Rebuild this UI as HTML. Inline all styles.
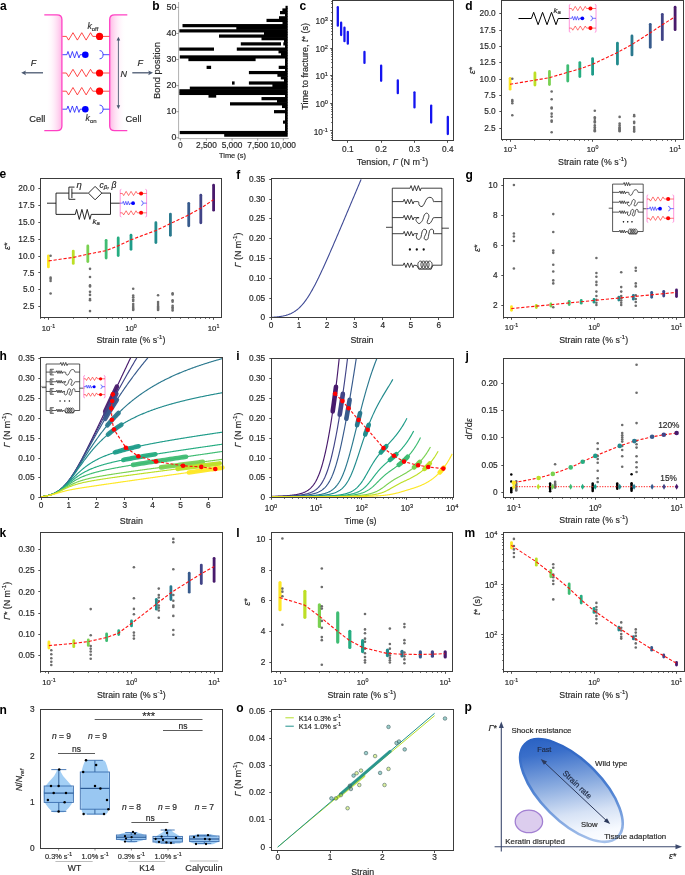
<!DOCTYPE html><html><head><meta charset="utf-8"><style>html,body{margin:0;padding:0;background:#fff;}svg{display:block;font-family:"Liberation Sans",sans-serif;will-change:transform;}</style></head><body><svg width="685" height="875" viewBox="0 0 685 875" font-family='"Liberation Sans", sans-serif'><defs><linearGradient id="gl" x1="0" x2="1" y1="0" y2="0"><stop offset="0" stop-color="#fff" stop-opacity="0"/><stop offset="1" stop-color="#ffb8e6"/></linearGradient><linearGradient id="gr" x1="0" x2="1" y1="0" y2="0"><stop offset="0" stop-color="#ffb8e6"/><stop offset="1" stop-color="#fff" stop-opacity="0"/></linearGradient><linearGradient id="pg" gradientUnits="userSpaceOnUse" x1="524" y1="758" x2="620" y2="828"><stop offset="0" stop-color="#2a62c3"/><stop offset="0.14" stop-color="#3a6fca"/><stop offset="0.42" stop-color="#88aadf"/><stop offset="0.68" stop-color="#d6e2f5"/><stop offset="0.86" stop-color="#f7faff"/><stop offset="1" stop-color="#ffffff"/></linearGradient><linearGradient id="pe" gradientUnits="userSpaceOnUse" x1="524" y1="742" x2="620" y2="839"><stop offset="0" stop-color="#1f58be"/><stop offset="0.5" stop-color="#4f82d2"/><stop offset="1" stop-color="#c4d7f3"/></linearGradient></defs><rect width="685" height="875" fill="#fff"/><text x="0" y="10" font-size="12" font-weight="bold" fill="#000">a</text>
<path d="M46,15 L57,15 Q61.7,15 61.7,19.5 L61.7,126 Q61.7,130.5 57,130.5 L46,130.5 Z" stroke="none" stroke-width="0.8" fill="url(#gl)"/>
<path d="M126,15 L114.6,15 Q109.9,15 109.9,19.5 L109.9,126 Q109.9,130.5 114.6,130.5 L126,130.5 Z" stroke="none" stroke-width="0.8" fill="url(#gr)"/>
<path d="M44.3,14.8 L57,14.8 Q61.9,14.8 61.9,19.5 L61.9,126 Q61.9,130.7 57,130.7 L44.3,130.7" stroke="#ff40c4" stroke-width="1.3" fill="none"/>
<path d="M127.3,14.8 L114.6,14.8 Q109.7,14.8 109.7,19.5 L109.7,126 Q109.7,130.7 114.6,130.7 L127.3,130.7" stroke="#ff40c4" stroke-width="1.3" fill="none"/>
<path d="M62.5,36.4 L66.4,36.4 L68.59,40.1 L72.98,32.7 L77.37,40.1 L81.76,32.7 L86.14,40.1 L90.53,32.7 L92.72,36.4 L99.55,36.4" stroke="#ff1a1a" stroke-width="0.8" fill="none"/>
<line x1="99.55" y1="36.4" x2="109.3" y2="36.4" stroke="#ff1a1a" stroke-width="0.8"/>
<circle cx="99.55" cy="36.4" r="3.61" fill="#ff0000" stroke="none" stroke-width="0.5"/>
<path d="M62.5,54.7 L66.89,54.7 L67.98,51.48 L70.18,57.92 L72.37,51.48 L74.57,57.92 L76.76,51.48 L78.95,57.92 L80.05,54.7 L85.31,54.7" stroke="#1a1aff" stroke-width="0.8" fill="none"/>
<circle cx="85.31" cy="54.7" r="3.31" fill="#0000ff" stroke="none" stroke-width="0.5"/>
<path d="M99.55,50.61 A3.48,4.09 0 0 1 99.55,58.8" stroke="#1a1aff" stroke-width="0.8" fill="none"/>
<line x1="103.03" y1="54.7" x2="109.3" y2="54.7" stroke="#1a1aff" stroke-width="0.8"/>
<path d="M62.5,73 L66.4,73 L68.59,76.7 L72.98,69.3 L77.37,76.7 L81.76,69.3 L86.14,76.7 L90.53,69.3 L92.72,73 L99.55,73" stroke="#ff1a1a" stroke-width="0.8" fill="none"/>
<line x1="99.55" y1="73" x2="109.3" y2="73" stroke="#ff1a1a" stroke-width="0.8"/>
<circle cx="99.55" cy="73" r="3.61" fill="#ff0000" stroke="none" stroke-width="0.5"/>
<path d="M62.5,91.2 L66.4,91.2 L68.59,94.91 L72.98,87.5 L77.37,94.91 L81.76,87.5 L86.14,94.91 L90.53,87.5 L92.72,91.2 L99.55,91.2" stroke="#ff1a1a" stroke-width="0.8" fill="none"/>
<line x1="99.55" y1="91.2" x2="109.3" y2="91.2" stroke="#ff1a1a" stroke-width="0.8"/>
<circle cx="99.55" cy="91.2" r="3.61" fill="#ff0000" stroke="none" stroke-width="0.5"/>
<path d="M62.5,109.2 L66.89,109.2 L67.98,105.98 L70.18,112.42 L72.37,105.98 L74.57,112.42 L76.76,105.98 L78.95,112.42 L80.05,109.2 L85.31,109.2" stroke="#1a1aff" stroke-width="0.8" fill="none"/>
<circle cx="85.31" cy="109.2" r="3.31" fill="#0000ff" stroke="none" stroke-width="0.5"/>
<path d="M99.55,105.11 A3.48,4.09 0 0 1 99.55,113.3" stroke="#1a1aff" stroke-width="0.8" fill="none"/>
<line x1="103.03" y1="109.2" x2="109.3" y2="109.2" stroke="#1a1aff" stroke-width="0.8"/>
<line x1="24" y1="72.8" x2="43" y2="72.8" stroke="#4a5870" stroke-width="1.3"/>
<path d="M21.2,72.8 L26,70.4 L25,72.8 L26,75.2 Z" stroke="none" stroke-width="0.8" fill="#4a5870"/>
<line x1="132.3" y1="72.8" x2="150" y2="72.8" stroke="#4a5870" stroke-width="1.3"/>
<path d="M153,72.8 L148.2,70.4 L149.2,72.8 L148.2,75.2 Z" stroke="none" stroke-width="0.8" fill="#4a5870"/>
<text x="30.8" y="65.5" font-size="9" font-style="italic" fill="#2a2a2a" stroke="#2a2a2a" stroke-width="0.18">F</text>
<text x="137.5" y="65.5" font-size="9" font-style="italic" fill="#2a2a2a" stroke="#2a2a2a" stroke-width="0.18">F</text>
<line x1="118.4" y1="39" x2="118.4" y2="107" stroke="#4a5870" stroke-width="0.9"/>
<path d="M118.4,36.8 L116.6,40.6 L120.2,40.6 Z" stroke="none" stroke-width="0.8" fill="#4a5870"/>
<path d="M118.4,109 L116.6,105.2 L120.2,105.2 Z" stroke="none" stroke-width="0.8" fill="#4a5870"/>
<text x="120.6" y="77.2" font-size="9" font-style="italic" fill="#2a2a2a" stroke="#2a2a2a" stroke-width="0.18">N</text>
<text x="87.4" y="29.3" font-size="8.7" font-style="italic" fill="#333" stroke="#333" stroke-width="0.18">k<tspan font-size="6" dy="1.4" font-style="normal">off</tspan></text>
<text x="85.6" y="121.2" font-size="8.7" font-style="italic" fill="#333" stroke="#333" stroke-width="0.18">k<tspan font-size="6" dy="1.4" font-style="normal">on</tspan></text>
<text x="29.3" y="122" font-size="9.3" fill="#2a2a2a" stroke="#2a2a2a" stroke-width="0.18">Cell</text>
<text x="125.5" y="122" font-size="9.3" fill="#2a2a2a" stroke="#2a2a2a" stroke-width="0.18">Cell</text>
<text x="152.2" y="9.9" font-size="12" font-weight="bold" fill="#000">b</text>
<rect x="285.5" y="5.8" width="2.2" height="3.21" fill="#000" stroke="none" stroke-width="0.8"/>
<rect x="282.4" y="8.4" width="5.3" height="3.21" fill="#000" stroke="none" stroke-width="0.8"/>
<rect x="280" y="11.01" width="7.7" height="3.21" fill="#000" stroke="none" stroke-width="0.8"/>
<rect x="285" y="13.62" width="2.7" height="3.21" fill="#000" stroke="none" stroke-width="0.8"/>
<rect x="279" y="16.22" width="8.7" height="3.21" fill="#000" stroke="none" stroke-width="0.8"/>
<rect x="266.5" y="18.83" width="21.2" height="3.21" fill="#000" stroke="none" stroke-width="0.8"/>
<rect x="282.5" y="21.44" width="5.2" height="3.21" fill="#000" stroke="none" stroke-width="0.8"/>
<rect x="182.5" y="24.05" width="105.2" height="3.21" fill="#000" stroke="none" stroke-width="0.8"/>
<rect x="236.3" y="26.65" width="51.4" height="3.21" fill="#000" stroke="none" stroke-width="0.8"/>
<rect x="179.3" y="29.26" width="108.4" height="3.21" fill="#000" stroke="none" stroke-width="0.8"/>
<rect x="264" y="31.87" width="23.7" height="3.21" fill="#000" stroke="none" stroke-width="0.8"/>
<rect x="219" y="34.47" width="68.7" height="3.21" fill="#000" stroke="none" stroke-width="0.8"/>
<rect x="261.5" y="37.08" width="26.2" height="3.21" fill="#000" stroke="none" stroke-width="0.8"/>
<rect x="284" y="39.69" width="3.7" height="3.21" fill="#000" stroke="none" stroke-width="0.8"/>
<rect x="240.8" y="42.29" width="40.2" height="3.21" fill="#000" stroke="none" stroke-width="0.8"/>
<rect x="283.3" y="42.29" width="4.4" height="3.21" fill="#000" stroke="none" stroke-width="0.8"/>
<rect x="285" y="44.9" width="2.7" height="3.21" fill="#000" stroke="none" stroke-width="0.8"/>
<rect x="179.3" y="47.51" width="34.7" height="3.21" fill="#000" stroke="none" stroke-width="0.8"/>
<rect x="236.8" y="47.51" width="50.9" height="3.21" fill="#000" stroke="none" stroke-width="0.8"/>
<rect x="278.5" y="50.12" width="9.2" height="3.21" fill="#000" stroke="none" stroke-width="0.8"/>
<rect x="281" y="52.72" width="6.7" height="3.21" fill="#000" stroke="none" stroke-width="0.8"/>
<rect x="179.8" y="55.33" width="107.9" height="3.21" fill="#000" stroke="none" stroke-width="0.8"/>
<rect x="188.4" y="57.94" width="67.2" height="3.21" fill="#000" stroke="none" stroke-width="0.8"/>
<rect x="285" y="57.94" width="2.7" height="3.21" fill="#000" stroke="none" stroke-width="0.8"/>
<rect x="285" y="60.54" width="2.7" height="3.21" fill="#000" stroke="none" stroke-width="0.8"/>
<rect x="285" y="63.15" width="2.7" height="3.21" fill="#000" stroke="none" stroke-width="0.8"/>
<rect x="206.6" y="65.76" width="4.5" height="3.21" fill="#000" stroke="none" stroke-width="0.8"/>
<rect x="278.7" y="65.76" width="9" height="3.21" fill="#000" stroke="none" stroke-width="0.8"/>
<rect x="285" y="68.36" width="2.7" height="3.21" fill="#000" stroke="none" stroke-width="0.8"/>
<rect x="248.9" y="70.97" width="38.8" height="3.21" fill="#000" stroke="none" stroke-width="0.8"/>
<rect x="277.4" y="73.58" width="10.3" height="3.21" fill="#000" stroke="none" stroke-width="0.8"/>
<rect x="280.8" y="76.19" width="6.9" height="3.21" fill="#000" stroke="none" stroke-width="0.8"/>
<rect x="284" y="78.79" width="3.7" height="3.21" fill="#000" stroke="none" stroke-width="0.8"/>
<rect x="232" y="81.4" width="2.6" height="3.21" fill="#000" stroke="none" stroke-width="0.8"/>
<rect x="248.9" y="81.4" width="38.8" height="3.21" fill="#000" stroke="none" stroke-width="0.8"/>
<rect x="272.4" y="84.01" width="15.3" height="3.21" fill="#000" stroke="none" stroke-width="0.8"/>
<rect x="189.8" y="86.61" width="97.9" height="3.21" fill="#000" stroke="none" stroke-width="0.8"/>
<rect x="179.3" y="89.22" width="108.4" height="3.21" fill="#000" stroke="none" stroke-width="0.8"/>
<rect x="179.3" y="91.83" width="108.4" height="3.21" fill="#000" stroke="none" stroke-width="0.8"/>
<rect x="208.5" y="94.43" width="7.7" height="3.21" fill="#000" stroke="none" stroke-width="0.8"/>
<rect x="285" y="94.43" width="2.7" height="3.21" fill="#000" stroke="none" stroke-width="0.8"/>
<rect x="261.5" y="97.04" width="26.2" height="3.21" fill="#000" stroke="none" stroke-width="0.8"/>
<rect x="277" y="99.65" width="10.7" height="3.21" fill="#000" stroke="none" stroke-width="0.8"/>
<rect x="230" y="102.26" width="57.7" height="3.21" fill="#000" stroke="none" stroke-width="0.8"/>
<rect x="282" y="104.86" width="5.7" height="3.21" fill="#000" stroke="none" stroke-width="0.8"/>
<rect x="285" y="107.47" width="2.7" height="3.21" fill="#000" stroke="none" stroke-width="0.8"/>
<rect x="274" y="110.08" width="13.7" height="3.21" fill="#000" stroke="none" stroke-width="0.8"/>
<rect x="285" y="112.68" width="2.7" height="3.21" fill="#000" stroke="none" stroke-width="0.8"/>
<rect x="285" y="115.29" width="2.7" height="3.21" fill="#000" stroke="none" stroke-width="0.8"/>
<rect x="285" y="117.9" width="2.7" height="3.21" fill="#000" stroke="none" stroke-width="0.8"/>
<rect x="283" y="120.5" width="4.7" height="3.21" fill="#000" stroke="none" stroke-width="0.8"/>
<rect x="285" y="123.11" width="2.7" height="3.21" fill="#000" stroke="none" stroke-width="0.8"/>
<rect x="285" y="125.72" width="2.7" height="3.21" fill="#000" stroke="none" stroke-width="0.8"/>
<rect x="285" y="128.33" width="2.7" height="3.21" fill="#000" stroke="none" stroke-width="0.8"/>
<rect x="179.7" y="130.93" width="108" height="3.21" fill="#000" stroke="none" stroke-width="0.8"/>
<rect x="224.2" y="133.54" width="63.5" height="3.21" fill="#000" stroke="none" stroke-width="0.8"/>
<line x1="178.6" y1="2" x2="178.6" y2="138.6" stroke="#b0b0b0" stroke-width="1.0"/>
<line x1="178.1" y1="138.6" x2="288.8" y2="138.6" stroke="#b0b0b0" stroke-width="1.0"/>
<line x1="176.4" y1="137.75" x2="178.6" y2="137.75" stroke="#555" stroke-width="0.6"/>
<text x="176.4" y="140.25" font-size="8.8" text-anchor="end" fill="#2a2a2a" stroke="#2a2a2a" stroke-width="0.18">0</text>
<line x1="176.4" y1="111.68" x2="178.6" y2="111.68" stroke="#555" stroke-width="0.6"/>
<text x="176.4" y="114.18" font-size="8.8" text-anchor="end" fill="#2a2a2a" stroke="#2a2a2a" stroke-width="0.18">10</text>
<line x1="176.4" y1="85.61" x2="178.6" y2="85.61" stroke="#555" stroke-width="0.6"/>
<text x="176.4" y="88.11" font-size="8.8" text-anchor="end" fill="#2a2a2a" stroke="#2a2a2a" stroke-width="0.18">20</text>
<line x1="176.4" y1="59.54" x2="178.6" y2="59.54" stroke="#555" stroke-width="0.6"/>
<text x="176.4" y="62.04" font-size="8.8" text-anchor="end" fill="#2a2a2a" stroke="#2a2a2a" stroke-width="0.18">30</text>
<line x1="176.4" y1="33.47" x2="178.6" y2="33.47" stroke="#555" stroke-width="0.6"/>
<text x="176.4" y="35.97" font-size="8.8" text-anchor="end" fill="#2a2a2a" stroke="#2a2a2a" stroke-width="0.18">40</text>
<line x1="176.4" y1="7.4" x2="178.6" y2="7.4" stroke="#555" stroke-width="0.6"/>
<text x="176.4" y="9.9" font-size="8.8" text-anchor="end" fill="#2a2a2a" stroke="#2a2a2a" stroke-width="0.18">50</text>
<line x1="180.4" y1="138.6" x2="180.4" y2="140.6" stroke="#555" stroke-width="0.6"/>
<text x="180.4" y="148.2" font-size="8.3" text-anchor="middle" fill="#2a2a2a" stroke="#2a2a2a" stroke-width="0.18">0</text>
<line x1="206.4" y1="138.6" x2="206.4" y2="140.6" stroke="#555" stroke-width="0.6"/>
<text x="206.4" y="148.2" font-size="8.3" text-anchor="middle" fill="#2a2a2a" stroke="#2a2a2a" stroke-width="0.18">2,500</text>
<line x1="232.1" y1="138.6" x2="232.1" y2="140.6" stroke="#555" stroke-width="0.6"/>
<text x="232.1" y="148.2" font-size="8.3" text-anchor="middle" fill="#2a2a2a" stroke="#2a2a2a" stroke-width="0.18">5,000</text>
<line x1="257.7" y1="138.6" x2="257.7" y2="140.6" stroke="#555" stroke-width="0.6"/>
<text x="257.7" y="148.2" font-size="8.3" text-anchor="middle" fill="#2a2a2a" stroke="#2a2a2a" stroke-width="0.18">7,500</text>
<line x1="283.3" y1="138.6" x2="283.3" y2="140.6" stroke="#555" stroke-width="0.6"/>
<text x="283.3" y="148.2" font-size="8.3" text-anchor="middle" fill="#2a2a2a" stroke="#2a2a2a" stroke-width="0.18">10,000</text>
<text x="232.5" y="157.6" font-size="7.4" text-anchor="middle" fill="#2a2a2a" stroke="#2a2a2a" stroke-width="0.18">Time (s)</text>
<text x="159.9" y="70.5" font-size="9.4" text-anchor="middle" fill="#2a2a2a" stroke="#2a2a2a" stroke-width="0.18" transform="rotate(-90 159.9 70.5)">Bond position</text>
<text x="299.6" y="9.9" font-size="12" font-weight="bold" fill="#000">c</text>
<line x1="337.8" y1="7.2" x2="337.8" y2="25.7" stroke="#1414f0" stroke-width="2.3" stroke-linecap="round"/>
<line x1="341.13" y1="22.7" x2="341.13" y2="35" stroke="#1414f0" stroke-width="2.3" stroke-linecap="round"/>
<line x1="344.47" y1="27.7" x2="344.47" y2="41.2" stroke="#1414f0" stroke-width="2.3" stroke-linecap="round"/>
<line x1="347.8" y1="32" x2="347.8" y2="43.7" stroke="#1414f0" stroke-width="2.3" stroke-linecap="round"/>
<line x1="364.47" y1="51.9" x2="364.47" y2="62.9" stroke="#1414f0" stroke-width="2.3" stroke-linecap="round"/>
<line x1="381.14" y1="65.7" x2="381.14" y2="80.8" stroke="#1414f0" stroke-width="2.3" stroke-linecap="round"/>
<line x1="397.81" y1="80.4" x2="397.81" y2="93.2" stroke="#1414f0" stroke-width="2.3" stroke-linecap="round"/>
<line x1="414.48" y1="92.3" x2="414.48" y2="107.4" stroke="#1414f0" stroke-width="2.3" stroke-linecap="round"/>
<line x1="431.15" y1="105.6" x2="431.15" y2="122.6" stroke="#1414f0" stroke-width="2.3" stroke-linecap="round"/>
<line x1="447.82" y1="117" x2="447.82" y2="134" stroke="#1414f0" stroke-width="2.3" stroke-linecap="round"/>
<rect x="332.5" y="0.5" width="121" height="140" fill="none" stroke="#3c3c3c" stroke-width="1.0"/>
<line x1="330.2" y1="130.5" x2="332.5" y2="130.5" stroke="#3c3c3c" stroke-width="0.9"/>
<text x="327.9" y="134.5" font-size="8.3" text-anchor="end" fill="#2a2a2a" stroke="#2a2a2a" stroke-width="0.18">10<tspan font-size="5.6" baseline-shift="3.47">-1</tspan></text>
<line x1="330.2" y1="103.5" x2="332.5" y2="103.5" stroke="#3c3c3c" stroke-width="0.9"/>
<text x="327.9" y="106.9" font-size="8.3" text-anchor="end" fill="#2a2a2a" stroke="#2a2a2a" stroke-width="0.18">10<tspan font-size="5.6" baseline-shift="3.47">0</tspan></text>
<line x1="330.2" y1="75.5" x2="332.5" y2="75.5" stroke="#3c3c3c" stroke-width="0.9"/>
<text x="327.9" y="79.3" font-size="8.3" text-anchor="end" fill="#2a2a2a" stroke="#2a2a2a" stroke-width="0.18">10<tspan font-size="5.6" baseline-shift="3.47">1</tspan></text>
<line x1="330.2" y1="48.5" x2="332.5" y2="48.5" stroke="#3c3c3c" stroke-width="0.9"/>
<text x="327.9" y="51.7" font-size="8.3" text-anchor="end" fill="#2a2a2a" stroke="#2a2a2a" stroke-width="0.18">10<tspan font-size="5.6" baseline-shift="3.47">2</tspan></text>
<line x1="330.2" y1="20.5" x2="332.5" y2="20.5" stroke="#3c3c3c" stroke-width="0.9"/>
<text x="327.9" y="24.1" font-size="8.3" text-anchor="end" fill="#2a2a2a" stroke="#2a2a2a" stroke-width="0.18">10<tspan font-size="5.6" baseline-shift="3.47">3</tspan></text>
<line x1="331" y1="139.5" x2="332.5" y2="139.5" stroke="#3c3c3c" stroke-width="0.7"/>
<line x1="331" y1="137.5" x2="332.5" y2="137.5" stroke="#3c3c3c" stroke-width="0.7"/>
<line x1="331" y1="135.5" x2="332.5" y2="135.5" stroke="#3c3c3c" stroke-width="0.7"/>
<line x1="331" y1="133.5" x2="332.5" y2="133.5" stroke="#3c3c3c" stroke-width="0.7"/>
<line x1="331" y1="132.5" x2="332.5" y2="132.5" stroke="#3c3c3c" stroke-width="0.7"/>
<line x1="331" y1="122.5" x2="332.5" y2="122.5" stroke="#3c3c3c" stroke-width="0.7"/>
<line x1="331" y1="117.5" x2="332.5" y2="117.5" stroke="#3c3c3c" stroke-width="0.7"/>
<line x1="331" y1="114.5" x2="332.5" y2="114.5" stroke="#3c3c3c" stroke-width="0.7"/>
<line x1="331" y1="111.5" x2="332.5" y2="111.5" stroke="#3c3c3c" stroke-width="0.7"/>
<line x1="331" y1="109.5" x2="332.5" y2="109.5" stroke="#3c3c3c" stroke-width="0.7"/>
<line x1="331" y1="107.5" x2="332.5" y2="107.5" stroke="#3c3c3c" stroke-width="0.7"/>
<line x1="331" y1="105.5" x2="332.5" y2="105.5" stroke="#3c3c3c" stroke-width="0.7"/>
<line x1="331" y1="104.5" x2="332.5" y2="104.5" stroke="#3c3c3c" stroke-width="0.7"/>
<line x1="331" y1="94.5" x2="332.5" y2="94.5" stroke="#3c3c3c" stroke-width="0.7"/>
<line x1="331" y1="90.5" x2="332.5" y2="90.5" stroke="#3c3c3c" stroke-width="0.7"/>
<line x1="331" y1="86.5" x2="332.5" y2="86.5" stroke="#3c3c3c" stroke-width="0.7"/>
<line x1="331" y1="84.5" x2="332.5" y2="84.5" stroke="#3c3c3c" stroke-width="0.7"/>
<line x1="331" y1="81.5" x2="332.5" y2="81.5" stroke="#3c3c3c" stroke-width="0.7"/>
<line x1="331" y1="79.5" x2="332.5" y2="79.5" stroke="#3c3c3c" stroke-width="0.7"/>
<line x1="331" y1="78.5" x2="332.5" y2="78.5" stroke="#3c3c3c" stroke-width="0.7"/>
<line x1="331" y1="76.5" x2="332.5" y2="76.5" stroke="#3c3c3c" stroke-width="0.7"/>
<line x1="331" y1="67.5" x2="332.5" y2="67.5" stroke="#3c3c3c" stroke-width="0.7"/>
<line x1="331" y1="62.5" x2="332.5" y2="62.5" stroke="#3c3c3c" stroke-width="0.7"/>
<line x1="331" y1="59.5" x2="332.5" y2="59.5" stroke="#3c3c3c" stroke-width="0.7"/>
<line x1="331" y1="56.5" x2="332.5" y2="56.5" stroke="#3c3c3c" stroke-width="0.7"/>
<line x1="331" y1="54.5" x2="332.5" y2="54.5" stroke="#3c3c3c" stroke-width="0.7"/>
<line x1="331" y1="52.5" x2="332.5" y2="52.5" stroke="#3c3c3c" stroke-width="0.7"/>
<line x1="331" y1="50.5" x2="332.5" y2="50.5" stroke="#3c3c3c" stroke-width="0.7"/>
<line x1="331" y1="49.5" x2="332.5" y2="49.5" stroke="#3c3c3c" stroke-width="0.7"/>
<line x1="331" y1="39.5" x2="332.5" y2="39.5" stroke="#3c3c3c" stroke-width="0.7"/>
<line x1="331" y1="34.5" x2="332.5" y2="34.5" stroke="#3c3c3c" stroke-width="0.7"/>
<line x1="331" y1="31.5" x2="332.5" y2="31.5" stroke="#3c3c3c" stroke-width="0.7"/>
<line x1="331" y1="28.5" x2="332.5" y2="28.5" stroke="#3c3c3c" stroke-width="0.7"/>
<line x1="331" y1="26.5" x2="332.5" y2="26.5" stroke="#3c3c3c" stroke-width="0.7"/>
<line x1="331" y1="24.5" x2="332.5" y2="24.5" stroke="#3c3c3c" stroke-width="0.7"/>
<line x1="331" y1="23.5" x2="332.5" y2="23.5" stroke="#3c3c3c" stroke-width="0.7"/>
<line x1="331" y1="21.5" x2="332.5" y2="21.5" stroke="#3c3c3c" stroke-width="0.7"/>
<line x1="331" y1="12.5" x2="332.5" y2="12.5" stroke="#3c3c3c" stroke-width="0.7"/>
<line x1="331" y1="7.5" x2="332.5" y2="7.5" stroke="#3c3c3c" stroke-width="0.7"/>
<line x1="331" y1="3.5" x2="332.5" y2="3.5" stroke="#3c3c3c" stroke-width="0.7"/>
<line x1="331" y1="1.5" x2="332.5" y2="1.5" stroke="#3c3c3c" stroke-width="0.7"/>
<line x1="347.5" y1="140.5" x2="347.5" y2="142.8" stroke="#3c3c3c" stroke-width="0.9"/>
<text x="347.8" y="152" font-size="8.3" text-anchor="middle" fill="#2a2a2a" stroke="#2a2a2a" stroke-width="0.18">0.1</text>
<line x1="381.5" y1="140.5" x2="381.5" y2="142.8" stroke="#3c3c3c" stroke-width="0.9"/>
<text x="381.14" y="152" font-size="8.3" text-anchor="middle" fill="#2a2a2a" stroke="#2a2a2a" stroke-width="0.18">0.2</text>
<line x1="414.5" y1="140.5" x2="414.5" y2="142.8" stroke="#3c3c3c" stroke-width="0.9"/>
<text x="414.48" y="152" font-size="8.3" text-anchor="middle" fill="#2a2a2a" stroke="#2a2a2a" stroke-width="0.18">0.3</text>
<line x1="447.5" y1="140.5" x2="447.5" y2="142.8" stroke="#3c3c3c" stroke-width="0.9"/>
<text x="447.82" y="152" font-size="8.3" text-anchor="middle" fill="#2a2a2a" stroke="#2a2a2a" stroke-width="0.18">0.4</text>
<text x="392.5" y="164.6" font-size="9" text-anchor="middle" fill="#2a2a2a" stroke="#2a2a2a" stroke-width="0.18">Tension, <tspan font-style="italic">Γ</tspan> (N m<tspan font-size="6" baseline-shift="3.72">-1</tspan>)</text>
<text x="308.2" y="66.3" font-size="9" text-anchor="middle" fill="#2a2a2a" stroke="#2a2a2a" stroke-width="0.18" transform="rotate(-90 308.2 66.3)">Time to fracture, <tspan font-style="italic">t</tspan>* (s)</text>
<text x="465.3" y="10" font-size="12" font-weight="bold" fill="#000">d</text>
<line x1="510.1" y1="78.3" x2="510.1" y2="89.2" stroke="#fde725" stroke-width="2.8" stroke-linecap="round"/>
<line x1="534.93" y1="72.9" x2="534.93" y2="85.1" stroke="#bddf26" stroke-width="2.8" stroke-linecap="round"/>
<line x1="549.46" y1="71.5" x2="549.46" y2="84.6" stroke="#7ad151" stroke-width="2.8" stroke-linecap="round"/>
<line x1="567.77" y1="65.6" x2="567.77" y2="81.1" stroke="#3fbc73" stroke-width="2.8" stroke-linecap="round"/>
<line x1="579.82" y1="62.6" x2="579.82" y2="76.5" stroke="#26ad81" stroke-width="2.8" stroke-linecap="round"/>
<line x1="592.6" y1="58.6" x2="592.6" y2="74.3" stroke="#1e9c89" stroke-width="2.8" stroke-linecap="round"/>
<line x1="617.43" y1="43.2" x2="617.43" y2="64.1" stroke="#228b8d" stroke-width="2.8" stroke-linecap="round"/>
<line x1="631.96" y1="35.9" x2="631.96" y2="54.9" stroke="#2a788e" stroke-width="2.8" stroke-linecap="round"/>
<line x1="650.27" y1="24.3" x2="650.27" y2="47.3" stroke="#375a8c" stroke-width="2.8" stroke-linecap="round"/>
<line x1="662.32" y1="14.3" x2="662.32" y2="39.7" stroke="#414487" stroke-width="2.8" stroke-linecap="round"/>
<line x1="675.1" y1="7.2" x2="675.1" y2="29.7" stroke="#481a6c" stroke-width="2.8" stroke-linecap="round"/>
<circle cx="512.3" cy="78.77" r="1.3" fill="#6c6c6c" stroke="none" stroke-width="0.5"/>
<circle cx="512.3" cy="99.96" r="1.3" fill="#6c6c6c" stroke="none" stroke-width="0.5"/>
<circle cx="512.3" cy="101.27" r="1.3" fill="#6c6c6c" stroke="none" stroke-width="0.5"/>
<circle cx="512.3" cy="103.22" r="1.3" fill="#6c6c6c" stroke="none" stroke-width="0.5"/>
<circle cx="512.3" cy="115.29" r="1.3" fill="#6c6c6c" stroke="none" stroke-width="0.5"/>
<circle cx="551.66" cy="91.49" r="1.3" fill="#6c6c6c" stroke="none" stroke-width="0.5"/>
<circle cx="551.66" cy="99.31" r="1.3" fill="#6c6c6c" stroke="none" stroke-width="0.5"/>
<circle cx="551.66" cy="107.46" r="1.3" fill="#6c6c6c" stroke="none" stroke-width="0.5"/>
<circle cx="551.66" cy="108.44" r="1.3" fill="#6c6c6c" stroke="none" stroke-width="0.5"/>
<circle cx="551.66" cy="113.66" r="1.3" fill="#6c6c6c" stroke="none" stroke-width="0.5"/>
<circle cx="551.66" cy="116.59" r="1.3" fill="#6c6c6c" stroke="none" stroke-width="0.5"/>
<circle cx="551.66" cy="120.5" r="1.3" fill="#6c6c6c" stroke="none" stroke-width="0.5"/>
<circle cx="551.66" cy="121.81" r="1.3" fill="#6c6c6c" stroke="none" stroke-width="0.5"/>
<circle cx="551.66" cy="132.24" r="1.3" fill="#6c6c6c" stroke="none" stroke-width="0.5"/>
<circle cx="594.8" cy="110.72" r="1.3" fill="#6c6c6c" stroke="none" stroke-width="0.5"/>
<circle cx="594.8" cy="117.24" r="1.3" fill="#6c6c6c" stroke="none" stroke-width="0.5"/>
<circle cx="594.8" cy="118.87" r="1.3" fill="#6c6c6c" stroke="none" stroke-width="0.5"/>
<circle cx="594.8" cy="121.15" r="1.3" fill="#6c6c6c" stroke="none" stroke-width="0.5"/>
<circle cx="594.8" cy="122.46" r="1.3" fill="#6c6c6c" stroke="none" stroke-width="0.5"/>
<circle cx="594.8" cy="125.39" r="1.3" fill="#6c6c6c" stroke="none" stroke-width="0.5"/>
<circle cx="594.8" cy="127.35" r="1.3" fill="#6c6c6c" stroke="none" stroke-width="0.5"/>
<circle cx="594.8" cy="128.98" r="1.3" fill="#6c6c6c" stroke="none" stroke-width="0.5"/>
<circle cx="594.8" cy="130.28" r="1.3" fill="#6c6c6c" stroke="none" stroke-width="0.5"/>
<circle cx="594.8" cy="131.26" r="1.3" fill="#6c6c6c" stroke="none" stroke-width="0.5"/>
<circle cx="619.63" cy="116.92" r="1.3" fill="#6c6c6c" stroke="none" stroke-width="0.5"/>
<circle cx="619.63" cy="123.44" r="1.3" fill="#6c6c6c" stroke="none" stroke-width="0.5"/>
<circle cx="619.63" cy="125.39" r="1.3" fill="#6c6c6c" stroke="none" stroke-width="0.5"/>
<circle cx="619.63" cy="127.35" r="1.3" fill="#6c6c6c" stroke="none" stroke-width="0.5"/>
<circle cx="619.63" cy="128.33" r="1.3" fill="#6c6c6c" stroke="none" stroke-width="0.5"/>
<circle cx="619.63" cy="129.3" r="1.3" fill="#6c6c6c" stroke="none" stroke-width="0.5"/>
<circle cx="619.63" cy="130.28" r="1.3" fill="#6c6c6c" stroke="none" stroke-width="0.5"/>
<circle cx="619.63" cy="131.26" r="1.3" fill="#6c6c6c" stroke="none" stroke-width="0.5"/>
<circle cx="634.16" cy="114.96" r="1.3" fill="#6c6c6c" stroke="none" stroke-width="0.5"/>
<circle cx="634.16" cy="116.26" r="1.3" fill="#6c6c6c" stroke="none" stroke-width="0.5"/>
<circle cx="634.16" cy="121.81" r="1.3" fill="#6c6c6c" stroke="none" stroke-width="0.5"/>
<circle cx="634.16" cy="123.11" r="1.3" fill="#6c6c6c" stroke="none" stroke-width="0.5"/>
<circle cx="634.16" cy="127.02" r="1.3" fill="#6c6c6c" stroke="none" stroke-width="0.5"/>
<circle cx="634.16" cy="128.65" r="1.3" fill="#6c6c6c" stroke="none" stroke-width="0.5"/>
<circle cx="634.16" cy="129.96" r="1.3" fill="#6c6c6c" stroke="none" stroke-width="0.5"/>
<circle cx="634.16" cy="131.59" r="1.3" fill="#6c6c6c" stroke="none" stroke-width="0.5"/>
<path d="M510,84.3 L534.6,80.2 L549,77.8 L567.5,72.4 L579.7,68.9 L592.6,64.3 L617,52.7 L631.8,44.6 L650,33 L662.3,24.8 L675,16.7" stroke="#ff1010" stroke-width="1.1" fill="none" stroke-dasharray="3.2 1.8" stroke-linejoin="round"/>
<rect x="501.5" y="0.5" width="182" height="139" fill="none" stroke="#3c3c3c" stroke-width="1.0"/>
<line x1="510.5" y1="139.5" x2="510.5" y2="141.8" stroke="#3c3c3c" stroke-width="0.9"/>
<text x="510.1" y="152.4" font-size="7.8" text-anchor="middle" fill="#2a2a2a" stroke="#2a2a2a" stroke-width="0.18">10<tspan font-size="5.3" baseline-shift="3.29">-1</tspan></text>
<line x1="592.5" y1="139.5" x2="592.5" y2="141.8" stroke="#3c3c3c" stroke-width="0.9"/>
<text x="592.6" y="152.4" font-size="7.8" text-anchor="middle" fill="#2a2a2a" stroke="#2a2a2a" stroke-width="0.18">10<tspan font-size="5.3" baseline-shift="3.29">0</tspan></text>
<line x1="675.5" y1="139.5" x2="675.5" y2="141.8" stroke="#3c3c3c" stroke-width="0.9"/>
<text x="675.1" y="152.4" font-size="7.8" text-anchor="middle" fill="#2a2a2a" stroke="#2a2a2a" stroke-width="0.18">10<tspan font-size="5.3" baseline-shift="3.29">1</tspan></text>
<line x1="502.5" y1="139.5" x2="502.5" y2="141" stroke="#3c3c3c" stroke-width="0.7"/>
<line x1="506.5" y1="139.5" x2="506.5" y2="141" stroke="#3c3c3c" stroke-width="0.7"/>
<line x1="534.5" y1="139.5" x2="534.5" y2="141" stroke="#3c3c3c" stroke-width="0.7"/>
<line x1="549.5" y1="139.5" x2="549.5" y2="141" stroke="#3c3c3c" stroke-width="0.7"/>
<line x1="559.5" y1="139.5" x2="559.5" y2="141" stroke="#3c3c3c" stroke-width="0.7"/>
<line x1="567.5" y1="139.5" x2="567.5" y2="141" stroke="#3c3c3c" stroke-width="0.7"/>
<line x1="574.5" y1="139.5" x2="574.5" y2="141" stroke="#3c3c3c" stroke-width="0.7"/>
<line x1="579.5" y1="139.5" x2="579.5" y2="141" stroke="#3c3c3c" stroke-width="0.7"/>
<line x1="584.5" y1="139.5" x2="584.5" y2="141" stroke="#3c3c3c" stroke-width="0.7"/>
<line x1="588.5" y1="139.5" x2="588.5" y2="141" stroke="#3c3c3c" stroke-width="0.7"/>
<line x1="617.5" y1="139.5" x2="617.5" y2="141" stroke="#3c3c3c" stroke-width="0.7"/>
<line x1="631.5" y1="139.5" x2="631.5" y2="141" stroke="#3c3c3c" stroke-width="0.7"/>
<line x1="642.5" y1="139.5" x2="642.5" y2="141" stroke="#3c3c3c" stroke-width="0.7"/>
<line x1="650.5" y1="139.5" x2="650.5" y2="141" stroke="#3c3c3c" stroke-width="0.7"/>
<line x1="656.5" y1="139.5" x2="656.5" y2="141" stroke="#3c3c3c" stroke-width="0.7"/>
<line x1="662.5" y1="139.5" x2="662.5" y2="141" stroke="#3c3c3c" stroke-width="0.7"/>
<line x1="667.5" y1="139.5" x2="667.5" y2="141" stroke="#3c3c3c" stroke-width="0.7"/>
<line x1="671.5" y1="139.5" x2="671.5" y2="141" stroke="#3c3c3c" stroke-width="0.7"/>
<text x="592.5" y="165.4" font-size="8.8" text-anchor="middle" fill="#2a2a2a" stroke="#2a2a2a" stroke-width="0.18">Strain rate (% s<tspan font-size="6" baseline-shift="3.72">-1</tspan>)</text>
<line x1="499.3" y1="128.5" x2="501.5" y2="128.5" stroke="#3c3c3c" stroke-width="0.9"/>
<text x="495.7" y="130.57" font-size="8.3" text-anchor="end" fill="#2a2a2a" stroke="#2a2a2a" stroke-width="0.18">2.5</text>
<line x1="499.3" y1="111.5" x2="501.5" y2="111.5" stroke="#3c3c3c" stroke-width="0.9"/>
<text x="495.7" y="114.27" font-size="8.3" text-anchor="end" fill="#2a2a2a" stroke="#2a2a2a" stroke-width="0.18">5.0</text>
<line x1="499.3" y1="95.5" x2="501.5" y2="95.5" stroke="#3c3c3c" stroke-width="0.9"/>
<text x="495.7" y="97.97" font-size="8.3" text-anchor="end" fill="#2a2a2a" stroke="#2a2a2a" stroke-width="0.18">7.5</text>
<line x1="499.3" y1="79.5" x2="501.5" y2="79.5" stroke="#3c3c3c" stroke-width="0.9"/>
<text x="495.7" y="81.67" font-size="8.3" text-anchor="end" fill="#2a2a2a" stroke="#2a2a2a" stroke-width="0.18">10.0</text>
<line x1="499.3" y1="62.5" x2="501.5" y2="62.5" stroke="#3c3c3c" stroke-width="0.9"/>
<text x="495.7" y="65.37" font-size="8.3" text-anchor="end" fill="#2a2a2a" stroke="#2a2a2a" stroke-width="0.18">12.5</text>
<line x1="499.3" y1="46.5" x2="501.5" y2="46.5" stroke="#3c3c3c" stroke-width="0.9"/>
<text x="495.7" y="49.07" font-size="8.3" text-anchor="end" fill="#2a2a2a" stroke="#2a2a2a" stroke-width="0.18">15.0</text>
<line x1="499.3" y1="30.5" x2="501.5" y2="30.5" stroke="#3c3c3c" stroke-width="0.9"/>
<text x="495.7" y="32.77" font-size="8.3" text-anchor="end" fill="#2a2a2a" stroke="#2a2a2a" stroke-width="0.18">17.5</text>
<line x1="499.3" y1="13.5" x2="501.5" y2="13.5" stroke="#3c3c3c" stroke-width="0.9"/>
<text x="495.7" y="16.47" font-size="8.3" text-anchor="end" fill="#2a2a2a" stroke="#2a2a2a" stroke-width="0.18">20.0</text>
<text x="474.8" y="70.5" font-size="9" text-anchor="middle" fill="#2a2a2a" stroke="#2a2a2a" stroke-width="0.18" transform="rotate(-90 474.8 70.5)"><tspan font-style="italic">ε</tspan>*</text>
<path d="M518.5,18.5 L531.4,18.5 L531.4,18.5 L533.63,12.3 L538.1,24.7 L542.57,12.3 L547.03,24.7 L551.5,12.3 L555.97,24.7 L558.2,18.5 L569.3,18.5" stroke="#000" stroke-width="1.0" fill="none"/>
<text x="553.5" y="13.2" font-size="8" font-style="italic" fill="#2a2a2a" stroke="#2a2a2a" stroke-width="0.18">k<tspan font-size="6" dy="1.2">a</tspan></text>
<path d="M570.5,4.3 L569.3,4.9 L569.3,31.7 L570.5,32.3" stroke="#ff8ad8" stroke-width="0.9" fill="none"/>
<path d="M594.8,4.3 L596,4.9 L596,31.7 L594.8,32.3" stroke="#ff8ad8" stroke-width="0.9" fill="none"/>
<path d="M569.3,8.5 L571.52,8.5 L572.78,10.61 L575.28,6.39 L577.78,10.61 L580.29,6.39 L582.79,10.61 L585.29,6.39 L586.54,8.5 L590.44,8.5" stroke="#ff1a1a" stroke-width="0.6" fill="none"/>
<line x1="590.44" y1="8.5" x2="596" y2="8.5" stroke="#ff1a1a" stroke-width="0.6"/>
<circle cx="590.44" cy="8.5" r="2.06" fill="#ff0000" stroke="none" stroke-width="0.5"/>
<path d="M569.3,18.3 L571.8,18.3 L572.43,16.46 L573.68,20.14 L574.93,16.46 L576.18,20.14 L577.44,16.46 L578.69,20.14 L579.31,18.3 L582.32,18.3" stroke="#1a1aff" stroke-width="0.6" fill="none"/>
<circle cx="582.32" cy="18.3" r="1.89" fill="#0000ff" stroke="none" stroke-width="0.5"/>
<path d="M590.44,15.96 A1.99,2.34 0 0 1 590.44,20.64" stroke="#1a1aff" stroke-width="0.6" fill="none"/>
<line x1="592.42" y1="18.3" x2="596" y2="18.3" stroke="#1a1aff" stroke-width="0.6"/>
<path d="M569.3,28.1 L571.52,28.1 L572.78,30.21 L575.28,25.99 L577.78,30.21 L580.29,25.99 L582.79,30.21 L585.29,25.99 L586.54,28.1 L590.44,28.1" stroke="#ff1a1a" stroke-width="0.6" fill="none"/>
<line x1="590.44" y1="28.1" x2="596" y2="28.1" stroke="#ff1a1a" stroke-width="0.6"/>
<circle cx="590.44" cy="28.1" r="2.06" fill="#ff0000" stroke="none" stroke-width="0.5"/>
<text x="-0.4" y="178.4" font-size="12" font-weight="bold" fill="#000">e</text>
<line x1="48.4" y1="256" x2="48.4" y2="266.9" stroke="#fde725" stroke-width="2.8" stroke-linecap="round"/>
<line x1="73.27" y1="251.1" x2="73.27" y2="263.4" stroke="#bddf26" stroke-width="2.8" stroke-linecap="round"/>
<line x1="87.81" y1="246" x2="87.81" y2="261.5" stroke="#7ad151" stroke-width="2.8" stroke-linecap="round"/>
<line x1="106.13" y1="240.3" x2="106.13" y2="258" stroke="#3fbc73" stroke-width="2.8" stroke-linecap="round"/>
<line x1="118.21" y1="237.9" x2="118.21" y2="255.5" stroke="#26ad81" stroke-width="2.8" stroke-linecap="round"/>
<line x1="131" y1="235.2" x2="131" y2="249.3" stroke="#1e9c89" stroke-width="2.8" stroke-linecap="round"/>
<line x1="155.87" y1="222.7" x2="155.87" y2="242.6" stroke="#228b8d" stroke-width="2.8" stroke-linecap="round"/>
<line x1="170.41" y1="214.1" x2="170.41" y2="235.3" stroke="#2a788e" stroke-width="2.8" stroke-linecap="round"/>
<line x1="188.73" y1="203.3" x2="188.73" y2="225.8" stroke="#375a8c" stroke-width="2.8" stroke-linecap="round"/>
<line x1="200.81" y1="195.2" x2="200.81" y2="222.8" stroke="#414487" stroke-width="2.8" stroke-linecap="round"/>
<line x1="213.6" y1="185.2" x2="213.6" y2="210.2" stroke="#481a6c" stroke-width="2.8" stroke-linecap="round"/>
<circle cx="50.6" cy="255.7" r="1.3" fill="#6c6c6c" stroke="none" stroke-width="0.5"/>
<circle cx="50.6" cy="277.65" r="1.3" fill="#6c6c6c" stroke="none" stroke-width="0.5"/>
<circle cx="50.6" cy="279" r="1.3" fill="#6c6c6c" stroke="none" stroke-width="0.5"/>
<circle cx="50.6" cy="281.03" r="1.3" fill="#6c6c6c" stroke="none" stroke-width="0.5"/>
<circle cx="50.6" cy="293.52" r="1.3" fill="#6c6c6c" stroke="none" stroke-width="0.5"/>
<circle cx="90.01" cy="268.87" r="1.3" fill="#6c6c6c" stroke="none" stroke-width="0.5"/>
<circle cx="90.01" cy="276.98" r="1.3" fill="#6c6c6c" stroke="none" stroke-width="0.5"/>
<circle cx="90.01" cy="285.42" r="1.3" fill="#6c6c6c" stroke="none" stroke-width="0.5"/>
<circle cx="90.01" cy="286.43" r="1.3" fill="#6c6c6c" stroke="none" stroke-width="0.5"/>
<circle cx="90.01" cy="291.84" r="1.3" fill="#6c6c6c" stroke="none" stroke-width="0.5"/>
<circle cx="90.01" cy="294.88" r="1.3" fill="#6c6c6c" stroke="none" stroke-width="0.5"/>
<circle cx="90.01" cy="298.93" r="1.3" fill="#6c6c6c" stroke="none" stroke-width="0.5"/>
<circle cx="90.01" cy="300.28" r="1.3" fill="#6c6c6c" stroke="none" stroke-width="0.5"/>
<circle cx="90.01" cy="311.09" r="1.3" fill="#6c6c6c" stroke="none" stroke-width="0.5"/>
<circle cx="133.2" cy="288.8" r="1.3" fill="#6c6c6c" stroke="none" stroke-width="0.5"/>
<circle cx="133.2" cy="295.55" r="1.3" fill="#6c6c6c" stroke="none" stroke-width="0.5"/>
<circle cx="133.2" cy="297.24" r="1.3" fill="#6c6c6c" stroke="none" stroke-width="0.5"/>
<circle cx="133.2" cy="299.6" r="1.3" fill="#6c6c6c" stroke="none" stroke-width="0.5"/>
<circle cx="133.2" cy="300.95" r="1.3" fill="#6c6c6c" stroke="none" stroke-width="0.5"/>
<circle cx="133.2" cy="303.99" r="1.3" fill="#6c6c6c" stroke="none" stroke-width="0.5"/>
<circle cx="133.2" cy="306.02" r="1.3" fill="#6c6c6c" stroke="none" stroke-width="0.5"/>
<circle cx="133.2" cy="307.71" r="1.3" fill="#6c6c6c" stroke="none" stroke-width="0.5"/>
<circle cx="133.2" cy="309.06" r="1.3" fill="#6c6c6c" stroke="none" stroke-width="0.5"/>
<circle cx="133.2" cy="310.07" r="1.3" fill="#6c6c6c" stroke="none" stroke-width="0.5"/>
<circle cx="158.07" cy="295.21" r="1.3" fill="#6c6c6c" stroke="none" stroke-width="0.5"/>
<circle cx="158.07" cy="301.97" r="1.3" fill="#6c6c6c" stroke="none" stroke-width="0.5"/>
<circle cx="158.07" cy="303.99" r="1.3" fill="#6c6c6c" stroke="none" stroke-width="0.5"/>
<circle cx="158.07" cy="306.02" r="1.3" fill="#6c6c6c" stroke="none" stroke-width="0.5"/>
<circle cx="158.07" cy="307.03" r="1.3" fill="#6c6c6c" stroke="none" stroke-width="0.5"/>
<circle cx="158.07" cy="308.05" r="1.3" fill="#6c6c6c" stroke="none" stroke-width="0.5"/>
<circle cx="158.07" cy="309.06" r="1.3" fill="#6c6c6c" stroke="none" stroke-width="0.5"/>
<circle cx="158.07" cy="310.07" r="1.3" fill="#6c6c6c" stroke="none" stroke-width="0.5"/>
<circle cx="172.61" cy="293.19" r="1.3" fill="#6c6c6c" stroke="none" stroke-width="0.5"/>
<circle cx="172.61" cy="294.54" r="1.3" fill="#6c6c6c" stroke="none" stroke-width="0.5"/>
<circle cx="172.61" cy="300.28" r="1.3" fill="#6c6c6c" stroke="none" stroke-width="0.5"/>
<circle cx="172.61" cy="301.63" r="1.3" fill="#6c6c6c" stroke="none" stroke-width="0.5"/>
<circle cx="172.61" cy="305.68" r="1.3" fill="#6c6c6c" stroke="none" stroke-width="0.5"/>
<circle cx="172.61" cy="307.37" r="1.3" fill="#6c6c6c" stroke="none" stroke-width="0.5"/>
<circle cx="172.61" cy="308.72" r="1.3" fill="#6c6c6c" stroke="none" stroke-width="0.5"/>
<circle cx="172.61" cy="310.41" r="1.3" fill="#6c6c6c" stroke="none" stroke-width="0.5"/>
<path d="M48.6,260.9 L73.2,257.4 L88.1,254.1 L106.2,250.6 L118.3,245.8 L131,239.8 L156.1,230.4 L170.4,223.6 L188.5,215 L201,208 L213.4,199.8" stroke="#ff1010" stroke-width="1.1" fill="none" stroke-dasharray="3.2 1.8" stroke-linejoin="round"/>
<rect x="40.5" y="178.5" width="181" height="139" fill="none" stroke="#3c3c3c" stroke-width="1.0"/>
<line x1="48.5" y1="317.5" x2="48.5" y2="319.8" stroke="#3c3c3c" stroke-width="0.9"/>
<text x="48.4" y="330.6" font-size="7.8" text-anchor="middle" fill="#2a2a2a" stroke="#2a2a2a" stroke-width="0.18">10<tspan font-size="5.3" baseline-shift="3.29">-1</tspan></text>
<line x1="131.5" y1="317.5" x2="131.5" y2="319.8" stroke="#3c3c3c" stroke-width="0.9"/>
<text x="131" y="330.6" font-size="7.8" text-anchor="middle" fill="#2a2a2a" stroke="#2a2a2a" stroke-width="0.18">10<tspan font-size="5.3" baseline-shift="3.29">0</tspan></text>
<line x1="213.5" y1="317.5" x2="213.5" y2="319.8" stroke="#3c3c3c" stroke-width="0.9"/>
<text x="213.6" y="330.6" font-size="7.8" text-anchor="middle" fill="#2a2a2a" stroke="#2a2a2a" stroke-width="0.18">10<tspan font-size="5.3" baseline-shift="3.29">1</tspan></text>
<line x1="40.5" y1="317.5" x2="40.5" y2="319" stroke="#3c3c3c" stroke-width="0.7"/>
<line x1="44.5" y1="317.5" x2="44.5" y2="319" stroke="#3c3c3c" stroke-width="0.7"/>
<line x1="73.5" y1="317.5" x2="73.5" y2="319" stroke="#3c3c3c" stroke-width="0.7"/>
<line x1="87.5" y1="317.5" x2="87.5" y2="319" stroke="#3c3c3c" stroke-width="0.7"/>
<line x1="98.5" y1="317.5" x2="98.5" y2="319" stroke="#3c3c3c" stroke-width="0.7"/>
<line x1="106.5" y1="317.5" x2="106.5" y2="319" stroke="#3c3c3c" stroke-width="0.7"/>
<line x1="112.5" y1="317.5" x2="112.5" y2="319" stroke="#3c3c3c" stroke-width="0.7"/>
<line x1="118.5" y1="317.5" x2="118.5" y2="319" stroke="#3c3c3c" stroke-width="0.7"/>
<line x1="122.5" y1="317.5" x2="122.5" y2="319" stroke="#3c3c3c" stroke-width="0.7"/>
<line x1="127.5" y1="317.5" x2="127.5" y2="319" stroke="#3c3c3c" stroke-width="0.7"/>
<line x1="155.5" y1="317.5" x2="155.5" y2="319" stroke="#3c3c3c" stroke-width="0.7"/>
<line x1="170.5" y1="317.5" x2="170.5" y2="319" stroke="#3c3c3c" stroke-width="0.7"/>
<line x1="180.5" y1="317.5" x2="180.5" y2="319" stroke="#3c3c3c" stroke-width="0.7"/>
<line x1="188.5" y1="317.5" x2="188.5" y2="319" stroke="#3c3c3c" stroke-width="0.7"/>
<line x1="195.5" y1="317.5" x2="195.5" y2="319" stroke="#3c3c3c" stroke-width="0.7"/>
<line x1="200.5" y1="317.5" x2="200.5" y2="319" stroke="#3c3c3c" stroke-width="0.7"/>
<line x1="205.5" y1="317.5" x2="205.5" y2="319" stroke="#3c3c3c" stroke-width="0.7"/>
<line x1="209.5" y1="317.5" x2="209.5" y2="319" stroke="#3c3c3c" stroke-width="0.7"/>
<text x="130.9" y="343.4" font-size="8.8" text-anchor="middle" fill="#2a2a2a" stroke="#2a2a2a" stroke-width="0.18">Strain rate (% s<tspan font-size="6" baseline-shift="3.72">-1</tspan>)</text>
<line x1="38.3" y1="306.5" x2="40.5" y2="306.5" stroke="#3c3c3c" stroke-width="0.9"/>
<text x="34.5" y="309.27" font-size="8.3" text-anchor="end" fill="#2a2a2a" stroke="#2a2a2a" stroke-width="0.18">2.5</text>
<line x1="38.3" y1="289.5" x2="40.5" y2="289.5" stroke="#3c3c3c" stroke-width="0.9"/>
<text x="34.5" y="292.38" font-size="8.3" text-anchor="end" fill="#2a2a2a" stroke="#2a2a2a" stroke-width="0.18">5.0</text>
<line x1="38.3" y1="272.5" x2="40.5" y2="272.5" stroke="#3c3c3c" stroke-width="0.9"/>
<text x="34.5" y="275.5" font-size="8.3" text-anchor="end" fill="#2a2a2a" stroke="#2a2a2a" stroke-width="0.18">7.5</text>
<line x1="38.3" y1="256.5" x2="40.5" y2="256.5" stroke="#3c3c3c" stroke-width="0.9"/>
<text x="34.5" y="258.61" font-size="8.3" text-anchor="end" fill="#2a2a2a" stroke="#2a2a2a" stroke-width="0.18">10.0</text>
<line x1="38.3" y1="239.5" x2="40.5" y2="239.5" stroke="#3c3c3c" stroke-width="0.9"/>
<text x="34.5" y="241.73" font-size="8.3" text-anchor="end" fill="#2a2a2a" stroke="#2a2a2a" stroke-width="0.18">12.5</text>
<line x1="38.3" y1="222.5" x2="40.5" y2="222.5" stroke="#3c3c3c" stroke-width="0.9"/>
<text x="34.5" y="224.84" font-size="8.3" text-anchor="end" fill="#2a2a2a" stroke="#2a2a2a" stroke-width="0.18">15.0</text>
<line x1="38.3" y1="205.5" x2="40.5" y2="205.5" stroke="#3c3c3c" stroke-width="0.9"/>
<text x="34.5" y="207.96" font-size="8.3" text-anchor="end" fill="#2a2a2a" stroke="#2a2a2a" stroke-width="0.18">17.5</text>
<line x1="38.3" y1="188.5" x2="40.5" y2="188.5" stroke="#3c3c3c" stroke-width="0.9"/>
<text x="34.5" y="191.07" font-size="8.3" text-anchor="end" fill="#2a2a2a" stroke="#2a2a2a" stroke-width="0.18">20.0</text>
<text x="10" y="246.3" font-size="9" text-anchor="middle" fill="#2a2a2a" stroke="#2a2a2a" stroke-width="0.18" transform="rotate(-90 10 246.3)"><tspan font-style="italic">ε</tspan>*</text>
<line x1="47" y1="203.2" x2="56" y2="203.2" stroke="#111" stroke-width="0.9"/>
<line x1="56" y1="193.1" x2="56" y2="214.4" stroke="#111" stroke-width="0.9"/>
<line x1="56" y1="193.1" x2="68.9" y2="193.1" stroke="#111" stroke-width="0.9"/>
<path d="M74.5,187.1 L68.9,187.1 L68.9,199.3 L75.3,199.3" stroke="#111" stroke-width="0.9" fill="none"/>
<line x1="71.9" y1="188.4" x2="71.9" y2="198" stroke="#111" stroke-width="0.9"/>
<line x1="71.9" y1="193.1" x2="87.9" y2="193.1" stroke="#111" stroke-width="0.9"/>
<path d="M88.4,193.1 L95.1,186.4 L101.8,193.1 L95.1,199.8 Z" stroke="#111" stroke-width="0.9" fill="none"/>
<line x1="101.8" y1="193.1" x2="110.5" y2="193.1" stroke="#111" stroke-width="0.9"/>
<line x1="110.5" y1="193.1" x2="110.5" y2="214.4" stroke="#111" stroke-width="0.9"/>
<path d="M56,214.4 L75.3,214.4 L75.3,214.4 L76.62,209.4 L79.28,219.4 L81.92,209.4 L84.58,219.4 L87.22,209.4 L89.88,219.4 L91.2,214.4 L110.5,214.4" stroke="#111" stroke-width="0.9" fill="none"/>
<line x1="110.5" y1="203.2" x2="120.2" y2="203.2" stroke="#111" stroke-width="0.9"/>
<text x="76.4" y="187.6" font-size="9.5" font-style="italic" fill="#2a2a2a" stroke="#2a2a2a" stroke-width="0.18">η</text>
<text x="99.5" y="188.2" font-size="8.5" font-style="italic" fill="#2a2a2a" stroke="#2a2a2a" stroke-width="0.18">c<tspan font-size="6" dy="1.2">β</tspan><tspan dy="-1.2">,</tspan></text>
<text x="111.6" y="187.6" font-size="8.5" font-style="italic" fill="#2a2a2a" stroke="#2a2a2a" stroke-width="0.18">β</text>
<text x="92.6" y="223.8" font-size="8" font-style="italic" fill="#2a2a2a" stroke="#2a2a2a" stroke-width="0.18">k<tspan font-size="6" dy="1.2">a</tspan></text>
<path d="M121.4,189.3 L120.2,189.9 L120.2,216.4 L121.4,217" stroke="#ff8ad8" stroke-width="0.9" fill="none"/>
<path d="M145.4,189.3 L146.6,189.9 L146.6,216.4 L145.4,217" stroke="#ff8ad8" stroke-width="0.9" fill="none"/>
<path d="M120.2,193.46 L122.4,193.46 L123.64,195.55 L126.11,191.37 L128.59,195.55 L131.06,191.37 L133.54,195.55 L136.01,191.37 L137.25,193.46 L141.1,193.46" stroke="#ff1a1a" stroke-width="0.6" fill="none"/>
<line x1="141.1" y1="193.46" x2="146.6" y2="193.46" stroke="#ff1a1a" stroke-width="0.6"/>
<circle cx="141.1" cy="193.46" r="2.03" fill="#ff0000" stroke="none" stroke-width="0.5"/>
<path d="M120.2,203.15 L122.67,203.15 L123.29,201.34 L124.53,204.97 L125.77,201.34 L127.01,204.97 L128.24,201.34 L129.48,204.97 L130.1,203.15 L133.07,203.15" stroke="#1a1aff" stroke-width="0.6" fill="none"/>
<circle cx="133.07" cy="203.15" r="1.87" fill="#0000ff" stroke="none" stroke-width="0.5"/>
<path d="M141.1,200.84 A1.96,2.31 0 0 1 141.1,205.46" stroke="#1a1aff" stroke-width="0.6" fill="none"/>
<line x1="143.06" y1="203.15" x2="146.6" y2="203.15" stroke="#1a1aff" stroke-width="0.6"/>
<path d="M120.2,212.84 L122.4,212.84 L123.64,214.94 L126.11,210.75 L128.59,214.94 L131.06,210.75 L133.54,214.94 L136.01,210.75 L137.25,212.84 L141.1,212.84" stroke="#ff1a1a" stroke-width="0.6" fill="none"/>
<line x1="141.1" y1="212.84" x2="146.6" y2="212.84" stroke="#ff1a1a" stroke-width="0.6"/>
<circle cx="141.1" cy="212.84" r="2.03" fill="#ff0000" stroke="none" stroke-width="0.5"/>
<text x="236.3" y="178.6" font-size="12" font-weight="bold" fill="#000">f</text>
<path d="M271,317.36 L271.56,317.33 L272.12,317.3 L272.68,317.26 L273.24,317.23 L273.8,317.19 L274.36,317.14 L274.92,317.1 L275.48,317.05 L276.04,317 L276.6,316.95 L277.16,316.89 L277.72,316.83 L278.27,316.77 L278.83,316.7 L279.39,316.62 L279.95,316.54 L280.51,316.46 L281.07,316.37 L281.63,316.28 L282.19,316.17 L282.75,316.07 L283.31,315.95 L283.87,315.83 L284.43,315.7 L284.99,315.57 L285.55,315.42 L286.11,315.27 L286.67,315.1 L287.23,314.93 L287.79,314.75 L288.35,314.55 L288.91,314.35 L289.47,314.13 L290.03,313.9 L290.59,313.66 L291.15,313.4 L291.71,313.13 L292.26,312.85 L292.82,312.55 L293.38,312.23 L293.94,311.9 L294.5,311.55 L295.06,311.18 L295.62,310.8 L296.18,310.39 L296.74,309.97 L297.3,309.53 L297.86,309.07 L298.42,308.59 L298.98,308.08 L299.54,307.56 L300.1,307.02 L300.66,306.45 L301.22,305.86 L301.78,305.25 L302.34,304.62 L302.9,303.97 L303.46,303.29 L304.02,302.59 L304.58,301.87 L305.14,301.13 L305.7,300.36 L306.25,299.58 L306.81,298.77 L307.37,297.94 L307.93,297.09 L308.49,296.22 L309.05,295.34 L309.61,294.43 L310.17,293.5 L310.73,292.55 L311.29,291.59 L311.85,290.61 L312.41,289.61 L312.97,288.6 L313.53,287.56 L314.09,286.52 L314.65,285.46 L315.21,284.38 L315.77,283.3 L316.33,282.2 L316.89,281.08 L317.45,279.96 L318.01,278.82 L318.57,277.67 L319.13,276.52 L319.69,275.35 L320.24,274.17 L320.8,272.99 L321.36,271.79 L321.92,270.59 L322.48,269.38 L323.04,268.17 L323.6,266.94 L324.16,265.71 L324.72,264.48 L325.28,263.24 L325.84,261.99 L326.4,260.74 L326.96,259.48 L327.52,258.22 L328.08,256.96 L328.64,255.69 L329.2,254.41 L329.76,253.14 L330.32,251.86 L330.88,250.57 L331.44,249.29 L332,248 L332.56,246.71 L333.12,245.41 L333.68,244.12 L334.23,242.82 L334.79,241.52 L335.35,240.21 L335.91,238.91 L336.47,237.6 L337.03,236.3 L337.59,234.99 L338.15,233.68 L338.71,232.37 L339.27,231.05 L339.83,229.74 L340.39,228.42 L340.95,227.11 L341.51,225.79 L342.07,224.47 L342.63,223.16 L343.19,221.84 L343.75,220.52 L344.31,219.2 L344.87,217.87 L345.43,216.55 L345.99,215.23 L346.55,213.91 L347.11,212.58 L347.67,211.26 L348.22,209.93 L348.78,208.61 L349.34,207.28 L349.9,205.96 L350.46,204.63 L351.02,203.31 L351.58,201.98 L352.14,200.65 L352.7,199.33 L353.26,198 L353.82,196.67 L354.38,195.35 L354.94,194.02 L355.5,192.69 L356.06,191.36 L356.62,190.03 L357.18,188.7 L357.74,187.38 L358.3,186.05 L358.86,184.72 L359.42,183.39 L359.98,182.06 L360.54,180.73 L361.1,179.4" stroke="#3f4a95" stroke-width="1.1" fill="none"/>
<rect x="271.5" y="178.5" width="182" height="139" fill="none" stroke="#3c3c3c" stroke-width="1.0"/>
<line x1="269.3" y1="317.5" x2="271.5" y2="317.5" stroke="#3c3c3c" stroke-width="0.9"/>
<text x="265.2" y="320.37" font-size="8.3" text-anchor="end" fill="#2a2a2a" stroke="#2a2a2a" stroke-width="0.18">0</text>
<line x1="269.3" y1="298.5" x2="271.5" y2="298.5" stroke="#3c3c3c" stroke-width="0.9"/>
<text x="265.2" y="300.57" font-size="8.3" text-anchor="end" fill="#2a2a2a" stroke="#2a2a2a" stroke-width="0.18">0.05</text>
<line x1="269.3" y1="278.5" x2="271.5" y2="278.5" stroke="#3c3c3c" stroke-width="0.9"/>
<text x="265.2" y="280.77" font-size="8.3" text-anchor="end" fill="#2a2a2a" stroke="#2a2a2a" stroke-width="0.18">0.10</text>
<line x1="269.3" y1="258.5" x2="271.5" y2="258.5" stroke="#3c3c3c" stroke-width="0.9"/>
<text x="265.2" y="260.97" font-size="8.3" text-anchor="end" fill="#2a2a2a" stroke="#2a2a2a" stroke-width="0.18">0.15</text>
<line x1="269.3" y1="238.5" x2="271.5" y2="238.5" stroke="#3c3c3c" stroke-width="0.9"/>
<text x="265.2" y="241.17" font-size="8.3" text-anchor="end" fill="#2a2a2a" stroke="#2a2a2a" stroke-width="0.18">0.20</text>
<line x1="269.3" y1="218.5" x2="271.5" y2="218.5" stroke="#3c3c3c" stroke-width="0.9"/>
<text x="265.2" y="221.37" font-size="8.3" text-anchor="end" fill="#2a2a2a" stroke="#2a2a2a" stroke-width="0.18">0.25</text>
<line x1="269.3" y1="199.5" x2="271.5" y2="199.5" stroke="#3c3c3c" stroke-width="0.9"/>
<text x="265.2" y="201.57" font-size="8.3" text-anchor="end" fill="#2a2a2a" stroke="#2a2a2a" stroke-width="0.18">0.30</text>
<line x1="269.3" y1="179.5" x2="271.5" y2="179.5" stroke="#3c3c3c" stroke-width="0.9"/>
<text x="265.2" y="181.77" font-size="8.3" text-anchor="end" fill="#2a2a2a" stroke="#2a2a2a" stroke-width="0.18">0.35</text>
<line x1="271.5" y1="317.5" x2="271.5" y2="320" stroke="#3c3c3c" stroke-width="0.9"/>
<text x="271" y="327.78" font-size="8.3" text-anchor="middle" fill="#2a2a2a" stroke="#2a2a2a" stroke-width="0.18">0</text>
<line x1="298.5" y1="317.5" x2="298.5" y2="320" stroke="#3c3c3c" stroke-width="0.9"/>
<text x="298.98" y="327.78" font-size="8.3" text-anchor="middle" fill="#2a2a2a" stroke="#2a2a2a" stroke-width="0.18">1</text>
<line x1="326.5" y1="317.5" x2="326.5" y2="320" stroke="#3c3c3c" stroke-width="0.9"/>
<text x="326.96" y="327.78" font-size="8.3" text-anchor="middle" fill="#2a2a2a" stroke="#2a2a2a" stroke-width="0.18">2</text>
<line x1="354.5" y1="317.5" x2="354.5" y2="320" stroke="#3c3c3c" stroke-width="0.9"/>
<text x="354.94" y="327.78" font-size="8.3" text-anchor="middle" fill="#2a2a2a" stroke="#2a2a2a" stroke-width="0.18">3</text>
<line x1="382.5" y1="317.5" x2="382.5" y2="320" stroke="#3c3c3c" stroke-width="0.9"/>
<text x="382.92" y="327.78" font-size="8.3" text-anchor="middle" fill="#2a2a2a" stroke="#2a2a2a" stroke-width="0.18">4</text>
<line x1="410.5" y1="317.5" x2="410.5" y2="320" stroke="#3c3c3c" stroke-width="0.9"/>
<text x="410.9" y="327.78" font-size="8.3" text-anchor="middle" fill="#2a2a2a" stroke="#2a2a2a" stroke-width="0.18">5</text>
<line x1="438.5" y1="317.5" x2="438.5" y2="320" stroke="#3c3c3c" stroke-width="0.9"/>
<text x="438.88" y="327.78" font-size="8.3" text-anchor="middle" fill="#2a2a2a" stroke="#2a2a2a" stroke-width="0.18">6</text>
<text x="362" y="343" font-size="8.8" text-anchor="middle" fill="#2a2a2a" stroke="#2a2a2a" stroke-width="0.18">Strain</text>
<text x="240.9" y="250" font-size="8.8" text-anchor="middle" fill="#2a2a2a" stroke="#2a2a2a" stroke-width="0.18" transform="rotate(-90 240.9 250)"><tspan font-style="italic">Γ</tspan> (N m<tspan font-size="6" baseline-shift="3.72">-1</tspan>)</text>
<line x1="392.3" y1="188.2" x2="392.3" y2="265.2" stroke="#111" stroke-width="0.8"/>
<line x1="441.9" y1="188.2" x2="441.9" y2="265.2" stroke="#111" stroke-width="0.8"/>
<line x1="386" y1="227.3" x2="392.3" y2="227.3" stroke="#111" stroke-width="0.8"/>
<line x1="441.9" y1="228.2" x2="448.9" y2="228.2" stroke="#111" stroke-width="0.8"/>
<path d="M392.3,188.2 L410.1,188.2 L410.1,188.2 L411.02,185.6 L412.85,190.8 L414.68,185.6 L416.52,190.8 L418.35,185.6 L420.18,190.8 L421.1,188.2 L441.9,188.2" stroke="#111" stroke-width="0.8" fill="none"/>
<path d="M392.3,201.6 L403.3,201.6 L403.3,201.6 L404.18,199.3 L405.95,203.9 L407.72,199.3 L409.48,203.9 L411.25,199.3 L413.02,203.9 L413.9,201.6" stroke="#111" stroke-width="0.8" fill="none"/>
<path d="M413.8,201.6 C414.45,201.6 416.88,201.5 417.7,201.6 C418.52,201.7 418.47,201.65 418.7,202.2 C418.93,202.75 418.67,204.18 419.05,204.9 C419.43,205.62 420.34,206.35 421,206.5 C421.66,206.65 422.33,206.52 423,205.8 C423.67,205.08 424.35,203.4 425,202.2 C425.65,201 426.08,199.42 426.9,198.6 C427.72,197.78 428.97,197.3 429.9,197.3 C430.83,197.3 431.9,197.88 432.5,198.6 C433.1,199.32 433.22,201.1 433.5,201.6 C433.78,202.1 434.08,201.6 434.2,201.6" stroke="#111" stroke-width="0.8" fill="none"/>
<line x1="434.2" y1="201.6" x2="441.9" y2="201.6" stroke="#111" stroke-width="0.8"/>
<path d="M392.3,217.6 L403.3,217.6 L403.3,217.6 L404.18,215.3 L405.95,219.9 L407.72,215.3 L409.48,219.9 L411.25,215.3 L413.02,219.9 L413.9,217.6" stroke="#111" stroke-width="0.8" fill="none"/>
<path d="M414.1,217.6 C414.93,217.61 418.61,217.58 419.05,217.67 C419.49,217.76 417.24,217.64 416.75,218.13 C416.26,218.62 415.72,219.69 416.1,220.6 C416.48,221.51 418.02,223.6 419.05,223.6 C420.08,223.6 421.43,222.03 422.3,220.6 C423.18,219.17 423.58,216.25 424.3,215 C425.02,213.75 425.88,213.15 426.6,213.1 C427.32,213.05 428.23,214 428.6,214.7 C428.97,215.4 429.02,216.2 428.8,217.3 C428.58,218.4 427.5,220.28 427.3,221.3 C427.1,222.32 427.17,223.05 427.6,223.4 C428.03,223.75 429.18,223.87 429.9,223.4 C430.62,222.93 431.35,221.52 431.9,220.6 C432.45,219.68 432.82,218.38 433.2,217.9 C433.58,217.42 434.03,217.73 434.2,217.7" stroke="#111" stroke-width="0.8" fill="none"/>
<line x1="434.2" y1="217.6" x2="441.9" y2="217.6" stroke="#111" stroke-width="0.8"/>
<path d="M392.3,233.7 L403.3,233.7 L403.3,233.7 L404.18,231.4 L405.95,236 L407.72,231.4 L409.48,236 L411.25,231.4 L413.02,236 L413.9,233.7" stroke="#111" stroke-width="0.8" fill="none"/>
<path d="M414.1,233.7 C414.68,233.7 417.22,233.48 417.6,233.7 C417.98,233.92 416.53,234.22 416.4,235 C416.27,235.78 416.36,237.67 416.8,238.4 C417.24,239.13 418.35,239.62 419.05,239.4 C419.75,239.18 420.51,238.35 421,237.1 C421.49,235.85 421.56,233.18 422,231.9 C422.44,230.62 422.99,229.75 423.65,229.4 C424.31,229.05 425.46,229.33 425.95,229.8 C426.44,230.27 426.83,231.08 426.6,232.2 C426.38,233.32 424.98,235.4 424.6,236.5 C424.22,237.6 424.08,238.23 424.3,238.8 C424.52,239.37 425.35,239.9 425.95,239.9 C426.55,239.9 427.41,239.82 427.9,238.8 C428.39,237.78 428.57,235.23 428.9,233.8 C429.23,232.37 429.47,230.97 429.9,230.2 C430.33,229.43 430.92,229.2 431.5,229.2 C432.08,229.2 433.05,229.45 433.4,230.2 C433.75,230.95 433.42,233.12 433.6,233.7 C433.78,234.28 434.35,233.7 434.5,233.7" stroke="#111" stroke-width="0.8" fill="none"/>
<line x1="434.5" y1="233.7" x2="441.9" y2="233.7" stroke="#111" stroke-width="0.8"/>
<path d="M392.3,265.2 L403.3,265.2 L403.3,265.2 L404.18,262.9 L405.95,267.5 L407.72,262.9 L409.48,267.5 L411.25,262.9 L413.02,267.5 L413.9,265.2" stroke="#111" stroke-width="0.8" fill="none"/>
<path d="M413.9,265.2 L416.8,265.5 L418.9,269.3 L419.74,269.2 L420.54,268.89 L421.27,268.41 L421.9,267.76 L422.4,266.98 L422.75,266.11 L422.94,265.2 L422.97,264.29 L422.84,263.42 L422.55,262.64 L422.14,261.99 L421.63,261.51 L421.05,261.2 L420.43,261.1 L419.8,261.2 L419.22,261.51 L418.71,261.99 L418.3,262.64 L418.01,263.42 L417.88,264.29 L417.91,265.2 L418.1,266.11 L418.45,266.98 L418.95,267.76 L419.58,268.41 L420.31,268.89 L421.11,269.2 L421.95,269.3 L422.79,269.2 L423.59,268.89 L424.32,268.41 L424.95,267.76 L425.45,266.98 L425.8,266.11 L425.99,265.2 L426.02,264.29 L425.89,263.42 L425.6,262.64 L425.19,261.99 L424.68,261.51 L424.1,261.2 L423.48,261.1 L422.85,261.2 L422.27,261.51 L421.76,261.99 L421.35,262.64 L421.06,263.42 L420.93,264.29 L420.96,265.2 L421.15,266.11 L421.5,266.98 L422,267.76 L422.63,268.41 L423.36,268.89 L424.16,269.2 L425,269.3 L425.84,269.2 L426.64,268.89 L427.37,268.41 L428,267.76 L428.5,266.98 L428.85,266.11 L429.04,265.2 L429.07,264.29 L428.94,263.42 L428.65,262.64 L428.24,261.99 L427.73,261.51 L427.15,261.2 L426.53,261.1 L425.9,261.2 L425.32,261.51 L424.81,261.99 L424.4,262.64 L424.11,263.42 L423.98,264.29 L424.01,265.2 L424.2,266.11 L424.55,266.98 L425.05,267.76 L425.68,268.41 L426.41,268.89 L427.21,269.2 L428.05,269.3 L428.89,269.2 L429.69,268.89 L430.42,268.41 L431.05,267.76 L431.55,266.98 L431.9,266.11 L432.09,265.2 L432.12,264.29 L431.99,263.42 L431.7,262.64 L431.29,261.99 L430.78,261.51 L430.2,261.2 L429.58,261.1 L428.95,261.2 L428.37,261.51 L427.86,261.99 L427.45,262.64 L427.16,263.42 L427.03,264.29 L427.06,265.2 L427.25,266.11 L427.6,266.98 L428.1,267.76 L428.73,268.41 L429.46,268.89 L430.26,269.2 L431.1,269.3 L432.9,265.2" stroke="#111" stroke-width="0.8" fill="none"/>
<line x1="432.9" y1="265.2" x2="441.9" y2="265.2" stroke="#111" stroke-width="0.8"/>
<circle cx="409.9" cy="249.5" r="1.15" fill="#111" stroke="none" stroke-width="0.5"/>
<circle cx="416.8" cy="249.5" r="1.15" fill="#111" stroke="none" stroke-width="0.5"/>
<circle cx="423.7" cy="249.5" r="1.15" fill="#111" stroke="none" stroke-width="0.5"/>
<text x="465.4" y="179" font-size="12" font-weight="bold" fill="#000">g</text>
<line x1="511.5" y1="306.7" x2="511.5" y2="310.3" stroke="#fde725" stroke-width="2.8" stroke-linecap="round"/>
<line x1="536.33" y1="305.3" x2="536.33" y2="307.6" stroke="#bddf26" stroke-width="2.8" stroke-linecap="round"/>
<line x1="550.86" y1="304" x2="550.86" y2="306" stroke="#7ad151" stroke-width="2.8" stroke-linecap="round"/>
<line x1="569.17" y1="301.3" x2="569.17" y2="304.6" stroke="#3fbc73" stroke-width="2.8" stroke-linecap="round"/>
<line x1="581.22" y1="300.4" x2="581.22" y2="303.2" stroke="#26ad81" stroke-width="2.8" stroke-linecap="round"/>
<line x1="594" y1="299.4" x2="594" y2="302.2" stroke="#1e9c89" stroke-width="2.8" stroke-linecap="round"/>
<line x1="618.83" y1="297.2" x2="618.83" y2="300" stroke="#228b8d" stroke-width="2.8" stroke-linecap="round"/>
<line x1="633.36" y1="295.3" x2="633.36" y2="299.2" stroke="#2a788e" stroke-width="2.8" stroke-linecap="round"/>
<line x1="651.67" y1="292.3" x2="651.67" y2="297.3" stroke="#375a8c" stroke-width="2.8" stroke-linecap="round"/>
<line x1="663.72" y1="291.3" x2="663.72" y2="296" stroke="#414487" stroke-width="2.8" stroke-linecap="round"/>
<line x1="676.5" y1="289.9" x2="676.5" y2="296.5" stroke="#481a6c" stroke-width="2.8" stroke-linecap="round"/>
<circle cx="513.9" cy="185.06" r="1.3" fill="#6c6c6c" stroke="none" stroke-width="0.5"/>
<circle cx="513.9" cy="233.48" r="1.3" fill="#6c6c6c" stroke="none" stroke-width="0.5"/>
<circle cx="513.9" cy="236.46" r="1.3" fill="#6c6c6c" stroke="none" stroke-width="0.5"/>
<circle cx="513.9" cy="240.93" r="1.3" fill="#6c6c6c" stroke="none" stroke-width="0.5"/>
<circle cx="513.9" cy="268.5" r="1.3" fill="#6c6c6c" stroke="none" stroke-width="0.5"/>
<circle cx="553.26" cy="214.11" r="1.3" fill="#6c6c6c" stroke="none" stroke-width="0.5"/>
<circle cx="553.26" cy="231.99" r="1.3" fill="#6c6c6c" stroke="none" stroke-width="0.5"/>
<circle cx="553.26" cy="250.62" r="1.3" fill="#6c6c6c" stroke="none" stroke-width="0.5"/>
<circle cx="553.26" cy="252.85" r="1.3" fill="#6c6c6c" stroke="none" stroke-width="0.5"/>
<circle cx="553.26" cy="264.77" r="1.3" fill="#6c6c6c" stroke="none" stroke-width="0.5"/>
<circle cx="553.26" cy="271.48" r="1.3" fill="#6c6c6c" stroke="none" stroke-width="0.5"/>
<circle cx="553.26" cy="280.42" r="1.3" fill="#6c6c6c" stroke="none" stroke-width="0.5"/>
<circle cx="553.26" cy="283.39" r="1.3" fill="#6c6c6c" stroke="none" stroke-width="0.5"/>
<circle cx="553.26" cy="307.24" r="1.3" fill="#6c6c6c" stroke="none" stroke-width="0.5"/>
<circle cx="596.4" cy="258.06" r="1.3" fill="#6c6c6c" stroke="none" stroke-width="0.5"/>
<circle cx="596.4" cy="272.96" r="1.3" fill="#6c6c6c" stroke="none" stroke-width="0.5"/>
<circle cx="596.4" cy="276.69" r="1.3" fill="#6c6c6c" stroke="none" stroke-width="0.5"/>
<circle cx="596.4" cy="281.9" r="1.3" fill="#6c6c6c" stroke="none" stroke-width="0.5"/>
<circle cx="596.4" cy="284.88" r="1.3" fill="#6c6c6c" stroke="none" stroke-width="0.5"/>
<circle cx="596.4" cy="291.59" r="1.3" fill="#6c6c6c" stroke="none" stroke-width="0.5"/>
<circle cx="596.4" cy="296.06" r="1.3" fill="#6c6c6c" stroke="none" stroke-width="0.5"/>
<circle cx="596.4" cy="299.79" r="1.3" fill="#6c6c6c" stroke="none" stroke-width="0.5"/>
<circle cx="596.4" cy="302.76" r="1.3" fill="#6c6c6c" stroke="none" stroke-width="0.5"/>
<circle cx="596.4" cy="305" r="1.3" fill="#6c6c6c" stroke="none" stroke-width="0.5"/>
<circle cx="621.23" cy="272.22" r="1.3" fill="#6c6c6c" stroke="none" stroke-width="0.5"/>
<circle cx="621.23" cy="287.12" r="1.3" fill="#6c6c6c" stroke="none" stroke-width="0.5"/>
<circle cx="621.23" cy="291.59" r="1.3" fill="#6c6c6c" stroke="none" stroke-width="0.5"/>
<circle cx="621.23" cy="296.06" r="1.3" fill="#6c6c6c" stroke="none" stroke-width="0.5"/>
<circle cx="621.23" cy="298.3" r="1.3" fill="#6c6c6c" stroke="none" stroke-width="0.5"/>
<circle cx="621.23" cy="300.53" r="1.3" fill="#6c6c6c" stroke="none" stroke-width="0.5"/>
<circle cx="621.23" cy="302.76" r="1.3" fill="#6c6c6c" stroke="none" stroke-width="0.5"/>
<circle cx="621.23" cy="305" r="1.3" fill="#6c6c6c" stroke="none" stroke-width="0.5"/>
<circle cx="635.76" cy="267.75" r="1.3" fill="#6c6c6c" stroke="none" stroke-width="0.5"/>
<circle cx="635.76" cy="270.73" r="1.3" fill="#6c6c6c" stroke="none" stroke-width="0.5"/>
<circle cx="635.76" cy="283.39" r="1.3" fill="#6c6c6c" stroke="none" stroke-width="0.5"/>
<circle cx="635.76" cy="286.38" r="1.3" fill="#6c6c6c" stroke="none" stroke-width="0.5"/>
<circle cx="635.76" cy="295.31" r="1.3" fill="#6c6c6c" stroke="none" stroke-width="0.5"/>
<circle cx="635.76" cy="299.04" r="1.3" fill="#6c6c6c" stroke="none" stroke-width="0.5"/>
<circle cx="635.76" cy="302.02" r="1.3" fill="#6c6c6c" stroke="none" stroke-width="0.5"/>
<circle cx="635.76" cy="305.75" r="1.3" fill="#6c6c6c" stroke="none" stroke-width="0.5"/>
<path d="M511.3,308.6 L676.1,292.4" stroke="#ff1010" stroke-width="1.1" fill="none" stroke-dasharray="3.2 1.8" stroke-linejoin="round"/>
<rect x="503.5" y="178.5" width="181" height="139" fill="none" stroke="#3c3c3c" stroke-width="1.0"/>
<line x1="511.5" y1="317.5" x2="511.5" y2="319.8" stroke="#3c3c3c" stroke-width="0.9"/>
<text x="511.5" y="330" font-size="7.8" text-anchor="middle" fill="#2a2a2a" stroke="#2a2a2a" stroke-width="0.18">10<tspan font-size="5.3" baseline-shift="3.29">-1</tspan></text>
<line x1="594.5" y1="317.5" x2="594.5" y2="319.8" stroke="#3c3c3c" stroke-width="0.9"/>
<text x="594" y="330" font-size="7.8" text-anchor="middle" fill="#2a2a2a" stroke="#2a2a2a" stroke-width="0.18">10<tspan font-size="5.3" baseline-shift="3.29">0</tspan></text>
<line x1="676.5" y1="317.5" x2="676.5" y2="319.8" stroke="#3c3c3c" stroke-width="0.9"/>
<text x="676.5" y="330" font-size="7.8" text-anchor="middle" fill="#2a2a2a" stroke="#2a2a2a" stroke-width="0.18">10<tspan font-size="5.3" baseline-shift="3.29">1</tspan></text>
<line x1="503.5" y1="317.5" x2="503.5" y2="319" stroke="#3c3c3c" stroke-width="0.7"/>
<line x1="507.5" y1="317.5" x2="507.5" y2="319" stroke="#3c3c3c" stroke-width="0.7"/>
<line x1="536.5" y1="317.5" x2="536.5" y2="319" stroke="#3c3c3c" stroke-width="0.7"/>
<line x1="550.5" y1="317.5" x2="550.5" y2="319" stroke="#3c3c3c" stroke-width="0.7"/>
<line x1="561.5" y1="317.5" x2="561.5" y2="319" stroke="#3c3c3c" stroke-width="0.7"/>
<line x1="569.5" y1="317.5" x2="569.5" y2="319" stroke="#3c3c3c" stroke-width="0.7"/>
<line x1="575.5" y1="317.5" x2="575.5" y2="319" stroke="#3c3c3c" stroke-width="0.7"/>
<line x1="581.5" y1="317.5" x2="581.5" y2="319" stroke="#3c3c3c" stroke-width="0.7"/>
<line x1="586.5" y1="317.5" x2="586.5" y2="319" stroke="#3c3c3c" stroke-width="0.7"/>
<line x1="590.5" y1="317.5" x2="590.5" y2="319" stroke="#3c3c3c" stroke-width="0.7"/>
<line x1="618.5" y1="317.5" x2="618.5" y2="319" stroke="#3c3c3c" stroke-width="0.7"/>
<line x1="633.5" y1="317.5" x2="633.5" y2="319" stroke="#3c3c3c" stroke-width="0.7"/>
<line x1="643.5" y1="317.5" x2="643.5" y2="319" stroke="#3c3c3c" stroke-width="0.7"/>
<line x1="651.5" y1="317.5" x2="651.5" y2="319" stroke="#3c3c3c" stroke-width="0.7"/>
<line x1="658.5" y1="317.5" x2="658.5" y2="319" stroke="#3c3c3c" stroke-width="0.7"/>
<line x1="663.5" y1="317.5" x2="663.5" y2="319" stroke="#3c3c3c" stroke-width="0.7"/>
<line x1="668.5" y1="317.5" x2="668.5" y2="319" stroke="#3c3c3c" stroke-width="0.7"/>
<line x1="672.5" y1="317.5" x2="672.5" y2="319" stroke="#3c3c3c" stroke-width="0.7"/>
<text x="593.65" y="342.8" font-size="8.8" text-anchor="middle" fill="#2a2a2a" stroke="#2a2a2a" stroke-width="0.18">Strain rate (% s<tspan font-size="6" baseline-shift="3.72">-1</tspan>)</text>
<line x1="501.3" y1="305.5" x2="503.5" y2="305.5" stroke="#3c3c3c" stroke-width="0.9"/>
<text x="497.5" y="307.57" font-size="8.3" text-anchor="end" fill="#2a2a2a" stroke="#2a2a2a" stroke-width="0.18">2</text>
<line x1="501.3" y1="275.5" x2="503.5" y2="275.5" stroke="#3c3c3c" stroke-width="0.9"/>
<text x="497.5" y="277.77" font-size="8.3" text-anchor="end" fill="#2a2a2a" stroke="#2a2a2a" stroke-width="0.18">4</text>
<line x1="501.3" y1="245.5" x2="503.5" y2="245.5" stroke="#3c3c3c" stroke-width="0.9"/>
<text x="497.5" y="247.97" font-size="8.3" text-anchor="end" fill="#2a2a2a" stroke="#2a2a2a" stroke-width="0.18">6</text>
<line x1="501.3" y1="215.5" x2="503.5" y2="215.5" stroke="#3c3c3c" stroke-width="0.9"/>
<text x="497.5" y="218.17" font-size="8.3" text-anchor="end" fill="#2a2a2a" stroke="#2a2a2a" stroke-width="0.18">8</text>
<line x1="501.3" y1="185.5" x2="503.5" y2="185.5" stroke="#3c3c3c" stroke-width="0.9"/>
<text x="497.5" y="188.37" font-size="8.3" text-anchor="end" fill="#2a2a2a" stroke="#2a2a2a" stroke-width="0.18">10</text>
<text x="480.4" y="248.2" font-size="9" text-anchor="middle" fill="#2a2a2a" stroke="#2a2a2a" stroke-width="0.18" transform="rotate(-90 480.4 248.2)"><tspan font-style="italic">ε</tspan>*</text>
<rect x="606" y="181" width="76" height="53" fill="#fff" stroke="none" stroke-width="0.8"/>
<line x1="612.6" y1="184.1" x2="612.6" y2="231.53" stroke="#111" stroke-width="0.7"/>
<line x1="643.2" y1="184.1" x2="643.2" y2="231.53" stroke="#111" stroke-width="0.7"/>
<line x1="608.71" y1="208.19" x2="612.6" y2="208.19" stroke="#111" stroke-width="0.7"/>
<line x1="643.2" y1="208.74" x2="647.52" y2="208.74" stroke="#111" stroke-width="0.7"/>
<path d="M612.6,184.1 L623.58,184.1 L623.58,184.1 L624.15,182.5 L625.28,185.7 L626.41,182.5 L627.54,185.7 L628.67,182.5 L629.8,185.7 L630.37,184.1 L643.2,184.1" stroke="#111" stroke-width="0.7" fill="none"/>
<path d="M612.6,192.35 L619.39,192.35 L619.39,192.35 L619.93,190.94 L621.02,193.77 L622.11,190.94 L623.2,193.77 L624.29,190.94 L625.38,193.77 L625.93,192.35" stroke="#111" stroke-width="0.7" fill="none"/>
<path d="M625.87,192.35 C626.27,192.35 627.77,192.29 628.27,192.35 C628.78,192.42 628.75,192.39 628.89,192.72 C629.03,193.06 628.87,193.95 629.1,194.39 C629.34,194.83 629.9,195.28 630.31,195.37 C630.71,195.47 631.13,195.38 631.54,194.94 C631.95,194.5 632.37,193.46 632.78,192.72 C633.18,191.98 633.44,191.01 633.95,190.51 C634.45,190 635.22,189.71 635.8,189.71 C636.38,189.71 637.03,190.06 637.4,190.51 C637.77,190.95 637.85,192.05 638.02,192.35 C638.2,192.66 638.38,192.35 638.45,192.35" stroke="#111" stroke-width="0.7" fill="none"/>
<line x1="638.45" y1="192.35" x2="643.2" y2="192.35" stroke="#111" stroke-width="0.7"/>
<path d="M612.6,202.21 L619.39,202.21 L619.39,202.21 L619.93,200.79 L621.02,203.63 L622.11,200.79 L623.2,203.63 L624.29,200.79 L625.38,203.63 L625.93,202.21" stroke="#111" stroke-width="0.7" fill="none"/>
<path d="M626.05,202.21 C626.56,202.22 628.83,202.2 629.1,202.25 C629.38,202.31 627.99,202.24 627.69,202.54 C627.38,202.84 627.05,203.5 627.28,204.06 C627.52,204.62 628.47,205.91 629.1,205.91 C629.74,205.91 630.57,204.94 631.11,204.06 C631.65,203.18 631.9,201.38 632.34,200.61 C632.79,199.84 633.32,199.47 633.76,199.44 C634.21,199.41 634.77,199.99 635,200.42 C635.22,200.86 635.25,201.35 635.12,202.03 C634.99,202.7 634.32,203.86 634.2,204.49 C634.07,205.12 634.11,205.57 634.38,205.78 C634.65,206 635.36,206.07 635.8,205.78 C636.24,205.5 636.69,204.62 637.03,204.06 C637.37,203.49 637.6,202.69 637.84,202.4 C638.07,202.1 638.35,202.29 638.45,202.27" stroke="#111" stroke-width="0.7" fill="none"/>
<line x1="638.45" y1="202.21" x2="643.2" y2="202.21" stroke="#111" stroke-width="0.7"/>
<path d="M612.6,212.13 L619.39,212.13 L619.39,212.13 L619.93,210.71 L621.02,213.54 L622.11,210.71 L623.2,213.54 L624.29,210.71 L625.38,213.54 L625.93,212.13" stroke="#111" stroke-width="0.7" fill="none"/>
<path d="M626.05,212.13 C626.41,212.13 627.97,211.99 628.21,212.13 C628.45,212.26 627.55,212.45 627.47,212.93 C627.39,213.41 627.44,214.57 627.72,215.02 C627.99,215.47 628.67,215.77 629.1,215.64 C629.54,215.51 630,214.99 630.31,214.22 C630.61,213.45 630.65,211.81 630.92,211.02 C631.2,210.23 631.54,209.69 631.94,209.48 C632.35,209.26 633.06,209.44 633.36,209.73 C633.67,210.01 633.9,210.52 633.76,211.2 C633.62,211.89 632.77,213.18 632.53,213.85 C632.29,214.53 632.21,214.92 632.34,215.27 C632.48,215.62 632.99,215.95 633.36,215.95 C633.73,215.95 634.26,215.9 634.57,215.27 C634.87,214.64 634.98,213.07 635.18,212.19 C635.39,211.31 635.53,210.44 635.8,209.97 C636.07,209.5 636.43,209.36 636.79,209.36 C637.15,209.36 637.74,209.51 637.96,209.97 C638.17,210.43 637.97,211.77 638.08,212.13 C638.2,212.49 638.54,212.13 638.64,212.13" stroke="#111" stroke-width="0.7" fill="none"/>
<line x1="638.64" y1="212.13" x2="643.2" y2="212.13" stroke="#111" stroke-width="0.7"/>
<path d="M612.6,231.53 L619.39,231.53 L619.39,231.53 L619.93,230.12 L621.02,232.95 L622.11,230.12 L623.2,232.95 L624.29,230.12 L625.38,232.95 L625.93,231.53" stroke="#111" stroke-width="0.7" fill="none"/>
<path d="M625.93,231.53 L627.72,231.72 L629.01,234.06 L629.53,233.99 L630.02,233.81 L630.47,233.51 L630.86,233.11 L631.17,232.63 L631.39,232.09 L631.5,231.53 L631.52,230.97 L631.44,230.44 L631.26,229.96 L631.01,229.56 L630.7,229.26 L630.34,229.07 L629.95,229.01 L629.57,229.07 L629.21,229.26 L628.9,229.56 L628.64,229.96 L628.47,230.44 L628.39,230.97 L628.4,231.53 L628.52,232.09 L628.74,232.63 L629.05,233.11 L629.43,233.51 L629.88,233.81 L630.38,233.99 L630.89,234.06 L631.41,233.99 L631.91,233.81 L632.36,233.51 L632.74,233.11 L633.05,232.63 L633.27,232.09 L633.38,231.53 L633.4,230.97 L633.32,230.44 L633.15,229.96 L632.89,229.56 L632.58,229.26 L632.22,229.07 L631.83,229.01 L631.45,229.07 L631.09,229.26 L630.78,229.56 L630.52,229.96 L630.35,230.44 L630.27,230.97 L630.28,231.53 L630.4,232.09 L630.62,232.63 L630.93,233.11 L631.31,233.51 L631.76,233.81 L632.26,233.99 L632.78,234.06 L633.29,233.99 L633.79,233.81 L634.24,233.51 L634.62,233.11 L634.93,232.63 L635.15,232.09 L635.27,231.53 L635.28,230.97 L635.2,230.44 L635.03,229.96 L634.77,229.56 L634.46,229.26 L634.1,229.07 L633.72,229.01 L633.33,229.07 L632.97,229.26 L632.66,229.56 L632.41,229.96 L632.23,230.44 L632.15,230.97 L632.17,231.53 L632.28,232.09 L632.5,232.63 L632.81,233.11 L633.2,233.51 L633.65,233.81 L634.14,233.99 L634.66,234.06 L635.17,233.99 L635.67,233.81 L636.12,233.51 L636.51,233.11 L636.81,232.63 L637.03,232.09 L637.15,231.53 L637.17,230.97 L637.08,230.44 L636.91,229.96 L636.66,229.56 L636.34,229.26 L635.98,229.07 L635.6,229.01 L635.22,229.07 L634.86,229.26 L634.54,229.56 L634.29,229.96 L634.11,230.44 L634.03,230.97 L634.05,231.53 L634.17,232.09 L634.38,232.63 L634.69,233.11 L635.08,233.51 L635.53,233.81 L636.02,233.99 L636.54,234.06 L637.65,231.53" stroke="#111" stroke-width="0.7" fill="none"/>
<line x1="637.65" y1="231.53" x2="643.2" y2="231.53" stroke="#111" stroke-width="0.7"/>
<circle cx="623.46" cy="221.86" r="0.77" fill="#111" stroke="none" stroke-width="0.5"/>
<circle cx="627.72" cy="221.86" r="0.77" fill="#111" stroke="none" stroke-width="0.5"/>
<circle cx="631.97" cy="221.86" r="0.77" fill="#111" stroke="none" stroke-width="0.5"/>
<path d="M648.2,194.9 L647,195.5 L647,221.8 L648.2,222.4" stroke="#ff8ad8" stroke-width="0.9" fill="none"/>
<path d="M672.5,194.9 L673.7,195.5 L673.7,221.8 L672.5,222.4" stroke="#ff8ad8" stroke-width="0.9" fill="none"/>
<path d="M647,199.03 L649.23,199.03 L650.48,201.14 L652.98,196.91 L655.48,201.14 L657.99,196.91 L660.49,201.14 L662.99,196.91 L664.24,199.03 L668.14,199.03" stroke="#ff1a1a" stroke-width="0.6" fill="none"/>
<line x1="668.14" y1="199.03" x2="673.7" y2="199.03" stroke="#ff1a1a" stroke-width="0.6"/>
<circle cx="668.14" cy="199.03" r="2.06" fill="#ff0000" stroke="none" stroke-width="0.5"/>
<path d="M647,208.65 L649.5,208.65 L650.13,206.81 L651.38,210.49 L652.63,206.81 L653.88,210.49 L655.14,206.81 L656.39,210.49 L657.01,208.65 L660.02,208.65" stroke="#1a1aff" stroke-width="0.6" fill="none"/>
<circle cx="660.02" cy="208.65" r="1.89" fill="#0000ff" stroke="none" stroke-width="0.5"/>
<path d="M668.14,206.31 A1.99,2.34 0 0 1 668.14,210.99" stroke="#1a1aff" stroke-width="0.6" fill="none"/>
<line x1="670.12" y1="208.65" x2="673.7" y2="208.65" stroke="#1a1aff" stroke-width="0.6"/>
<path d="M647,218.28 L649.23,218.28 L650.48,220.39 L652.98,216.16 L655.48,220.39 L657.99,216.16 L660.49,220.39 L662.99,216.16 L664.24,218.28 L668.14,218.28" stroke="#ff1a1a" stroke-width="0.6" fill="none"/>
<line x1="668.14" y1="218.28" x2="673.7" y2="218.28" stroke="#ff1a1a" stroke-width="0.6"/>
<circle cx="668.14" cy="218.28" r="2.06" fill="#ff0000" stroke="none" stroke-width="0.5"/>
<text x="-0.5" y="360" font-size="12" font-weight="bold" fill="#000">h</text>
<path d="M41,496.78 L41.56,496.71 L42.12,496.64 L42.67,496.56 L43.23,496.47 L43.79,496.39 L44.35,496.29 L44.91,496.19 L45.46,496.09 L46.02,495.98 L46.58,495.86 L47.14,495.73 L47.7,495.6 L48.25,495.45 L48.81,495.3 L49.37,495.14 L49.93,494.97 L50.49,494.8 L51.04,494.61 L51.6,494.4 L52.16,494.19 L52.72,493.97 L53.28,493.73 L53.83,493.48 L54.39,493.22 L54.95,492.94 L55.51,492.65 L56.07,492.35 L56.62,492.03 L57.18,491.69 L57.74,491.34 L58.3,490.97 L58.86,490.58 L59.41,490.17 L59.97,489.75 L60.53,489.31 L61.09,488.85 L61.65,488.37 L62.2,487.87 L62.76,487.36 L63.32,486.82 L63.88,486.26 L64.44,485.68 L64.99,485.09 L65.55,484.47 L66.11,483.83 L66.67,483.18 L67.23,482.5 L67.78,481.81 L68.34,481.09 L68.9,480.36 L69.46,479.61 L70.02,478.84 L70.57,478.05 L71.13,477.24 L71.69,476.42 L72.25,475.58 L72.81,474.73 L73.36,473.85 L73.92,472.97 L74.48,472.06 L75.04,471.15 L75.6,470.22 L76.15,469.27 L76.71,468.32 L77.27,467.35 L77.83,466.37 L78.39,465.38 L78.94,464.38 L79.5,463.36 L80.06,462.34 L80.62,461.31 L81.18,460.27 L81.73,459.22 L82.29,458.16 L82.85,457.1 L83.41,456.03 L83.97,454.95 L84.52,453.86 L85.08,452.77 L85.64,451.67 L86.2,450.57 L86.76,449.47 L87.31,448.35 L87.87,447.24 L88.43,446.11 L88.99,444.99 L89.55,443.86 L90.1,442.73 L90.66,441.59 L91.22,440.45 L91.78,439.31 L92.34,438.17 L92.89,437.02 L93.45,435.87 L94.01,434.72 L94.57,433.57 L95.13,432.41 L95.68,431.25 L96.24,430.09 L96.8,428.93 L97.36,427.77 L97.92,426.61 L98.47,425.44 L99.03,424.28 L99.59,423.11 L100.15,421.94 L100.71,420.77 L101.26,419.6 L101.82,418.43 L102.38,417.26 L102.94,416.09 L103.5,414.92 L104.05,413.74 L104.61,412.57 L105.17,411.4 L105.73,410.22 L106.29,409.05 L106.84,407.87 L107.4,406.7 L107.96,405.52 L108.52,404.34 L109.08,403.17 L109.63,401.99 L110.19,400.81 L110.75,399.64 L111.31,398.46 L111.87,397.28 L112.42,396.11 L112.98,394.93 L113.54,393.75 L114.1,392.58 L114.66,391.4 L115.21,390.22 L115.77,389.05 L116.33,387.87 L116.89,386.69 L117.45,385.52 L118,384.34 L118.56,383.16 L119.12,381.99 L119.68,380.81 L120.24,379.64 L120.79,378.46 L121.35,377.28 L121.91,376.11 L122.47,374.93 L123.03,373.76 L123.58,372.58 L124.14,371.41 L124.7,370.23 L125.26,369.06 L125.82,367.89 L126.37,366.71 L126.93,365.54 L127.49,364.36 L128.05,363.19 L128.61,362.02 L129.16,360.84 L129.72,359.67 L130.28,358.5 L130.61,357.8" stroke="#481a6c" stroke-width="1.15" fill="none"/>
<path d="M41,496.78 L41.56,496.71 L42.12,496.64 L42.67,496.56 L43.23,496.48 L43.79,496.39 L44.35,496.29 L44.91,496.19 L45.46,496.09 L46.02,495.98 L46.58,495.86 L47.14,495.73 L47.7,495.6 L48.25,495.45 L48.81,495.3 L49.37,495.14 L49.93,494.98 L50.49,494.8 L51.04,494.61 L51.6,494.41 L52.16,494.19 L52.72,493.97 L53.28,493.73 L53.83,493.49 L54.39,493.22 L54.95,492.95 L55.51,492.66 L56.07,492.35 L56.62,492.03 L57.18,491.7 L57.74,491.34 L58.3,490.97 L58.86,490.59 L59.41,490.18 L59.97,489.76 L60.53,489.32 L61.09,488.86 L61.65,488.38 L62.2,487.89 L62.76,487.37 L63.32,486.84 L63.88,486.28 L64.44,485.71 L64.99,485.12 L65.55,484.5 L66.11,483.87 L66.67,483.22 L67.23,482.55 L67.78,481.86 L68.34,481.15 L68.9,480.42 L69.46,479.68 L70.02,478.92 L70.57,478.14 L71.13,477.34 L71.69,476.53 L72.25,475.7 L72.81,474.85 L73.36,473.99 L73.92,473.12 L74.48,472.23 L75.04,471.33 L75.6,470.42 L76.15,469.49 L76.71,468.56 L77.27,467.61 L77.83,466.65 L78.39,465.68 L78.94,464.7 L79.5,463.71 L80.06,462.72 L80.62,461.71 L81.18,460.7 L81.73,459.68 L82.29,458.66 L82.85,457.63 L83.41,456.59 L83.97,455.55 L84.52,454.5 L85.08,453.45 L85.64,452.39 L86.2,451.33 L86.76,450.27 L87.31,449.21 L87.87,448.14 L88.43,447.07 L88.99,445.99 L89.55,444.92 L90.1,443.84 L90.66,442.76 L91.22,441.68 L91.78,440.6 L92.34,439.52 L92.89,438.44 L93.45,437.35 L94.01,436.27 L94.57,435.19 L95.13,434.1 L95.68,433.02 L96.24,431.94 L96.8,430.86 L97.36,429.77 L97.92,428.69 L98.47,427.61 L99.03,426.53 L99.59,425.45 L100.15,424.38 L100.71,423.3 L101.26,422.22 L101.82,421.15 L102.38,420.08 L102.94,419.01 L103.5,417.94 L104.05,416.87 L104.61,415.8 L105.17,414.74 L105.73,413.67 L106.29,412.61 L106.84,411.55 L107.4,410.49 L107.96,409.44 L108.52,408.38 L109.08,407.33 L109.63,406.28 L110.19,405.23 L110.75,404.19 L111.31,403.14 L111.87,402.1 L112.42,401.06 L112.98,400.02 L113.54,398.99 L114.1,397.95 L114.66,396.92 L115.21,395.89 L115.77,394.86 L116.33,393.84 L116.89,392.82 L117.45,391.8 L118,390.78 L118.56,389.76 L119.12,388.75 L119.68,387.74 L120.24,386.73 L120.79,385.72 L121.35,384.72 L121.91,383.71 L122.47,382.71 L123.03,381.72 L123.58,380.72 L124.14,379.73 L124.7,378.74 L125.26,377.75 L125.82,376.77 L126.37,375.78 L126.93,374.8 L127.49,373.82 L128.05,372.85 L128.61,371.88 L129.16,370.9 L129.72,369.94 L130.28,368.97 L130.84,368.01 L131.4,367.04 L131.95,366.08 L132.51,365.13 L133.07,364.17 L133.63,363.22 L134.19,362.27 L134.74,361.33 L135.3,360.38 L135.86,359.44 L136.42,358.5 L136.83,357.8" stroke="#414487" stroke-width="1.15" fill="none"/>
<path d="M41,496.78 L41.56,496.71 L42.12,496.64 L42.67,496.56 L43.23,496.48 L43.79,496.39 L44.35,496.29 L44.91,496.19 L45.46,496.09 L46.02,495.98 L46.58,495.86 L47.14,495.73 L47.7,495.6 L48.25,495.46 L48.81,495.3 L49.37,495.15 L49.93,494.98 L50.49,494.8 L51.04,494.61 L51.6,494.41 L52.16,494.2 L52.72,493.97 L53.28,493.74 L53.83,493.49 L54.39,493.23 L54.95,492.95 L55.51,492.66 L56.07,492.36 L56.62,492.04 L57.18,491.7 L57.74,491.35 L58.3,490.98 L58.86,490.6 L59.41,490.19 L59.97,489.77 L60.53,489.34 L61.09,488.88 L61.65,488.4 L62.2,487.91 L62.76,487.4 L63.32,486.87 L63.88,486.31 L64.44,485.74 L64.99,485.16 L65.55,484.55 L66.11,483.92 L66.67,483.28 L67.23,482.61 L67.78,481.93 L68.34,481.23 L68.9,480.51 L69.46,479.77 L70.02,479.02 L70.57,478.25 L71.13,477.47 L71.69,476.67 L72.25,475.86 L72.81,475.03 L73.36,474.18 L73.92,473.33 L74.48,472.46 L75.04,471.58 L75.6,470.69 L76.15,469.78 L76.71,468.87 L77.27,467.95 L77.83,467.01 L78.39,466.07 L78.94,465.13 L79.5,464.17 L80.06,463.21 L80.62,462.24 L81.18,461.27 L81.73,460.29 L82.29,459.3 L82.85,458.31 L83.41,457.32 L83.97,456.33 L84.52,455.33 L85.08,454.33 L85.64,453.32 L86.2,452.32 L86.76,451.31 L87.31,450.3 L87.87,449.3 L88.43,448.29 L88.99,447.28 L89.55,446.27 L90.1,445.26 L90.66,444.25 L91.22,443.24 L91.78,442.24 L92.34,441.23 L92.89,440.23 L93.45,439.23 L94.01,438.23 L94.57,437.23 L95.13,436.23 L95.68,435.24 L96.24,434.25 L96.8,433.26 L97.36,432.27 L97.92,431.28 L98.47,430.3 L99.03,429.32 L99.59,428.35 L100.15,427.38 L100.71,426.41 L101.26,425.44 L101.82,424.48 L102.38,423.52 L102.94,422.56 L103.5,421.61 L104.05,420.66 L104.61,419.72 L105.17,418.77 L105.73,417.83 L106.29,416.9 L106.84,415.97 L107.4,415.04 L107.96,414.12 L108.52,413.2 L109.08,412.28 L109.63,411.37 L110.19,410.46 L110.75,409.56 L111.31,408.65 L111.87,407.76 L112.42,406.86 L112.98,405.97 L113.54,405.09 L114.1,404.21 L114.66,403.33 L115.21,402.46 L115.77,401.59 L116.33,400.72 L116.89,399.86 L117.45,399 L118,398.15 L118.56,397.3 L119.12,396.45 L119.68,395.61 L120.24,394.77 L120.79,393.93 L121.35,393.1 L121.91,392.28 L122.47,391.45 L123.03,390.63 L123.58,389.82 L124.14,389.01 L124.7,388.2 L125.26,387.39 L125.82,386.59 L126.37,385.8 L126.93,385 L127.49,384.21 L128.05,383.43 L128.61,382.65 L129.16,381.87 L129.72,381.1 L130.28,380.33 L130.84,379.56 L131.4,378.8 L131.95,378.04 L132.51,377.28 L133.07,376.53 L133.63,375.78 L134.19,375.03 L134.74,374.29 L135.3,373.56 L135.86,372.82 L136.42,372.09 L136.98,371.36 L137.53,370.64 L138.09,369.92 L138.65,369.2 L139.21,368.49 L139.77,367.78 L140.32,367.07 L140.88,366.37 L141.44,365.67 L142,364.97 L142.56,364.28 L143.11,363.59 L143.67,362.91 L144.23,362.22 L144.79,361.54 L145.35,360.87 L145.9,360.19 L146.46,359.52 L147.02,358.86 L147.58,358.19 L147.91,357.8" stroke="#375a8c" stroke-width="1.15" fill="none"/>
<path d="M41,496.78 L41.56,496.71 L42.12,496.64 L42.67,496.56 L43.23,496.48 L43.79,496.39 L44.35,496.29 L44.91,496.2 L45.46,496.09 L46.02,495.98 L46.58,495.86 L47.14,495.73 L47.7,495.6 L48.25,495.46 L48.81,495.31 L49.37,495.15 L49.93,494.98 L50.49,494.8 L51.04,494.61 L51.6,494.41 L52.16,494.2 L52.72,493.98 L53.28,493.74 L53.83,493.5 L54.39,493.24 L54.95,492.96 L55.51,492.67 L56.07,492.37 L56.62,492.05 L57.18,491.72 L57.74,491.37 L58.3,491.01 L58.86,490.62 L59.41,490.22 L59.97,489.81 L60.53,489.38 L61.09,488.93 L61.65,488.46 L62.2,487.97 L62.76,487.47 L63.32,486.94 L63.88,486.4 L64.44,485.84 L64.99,485.27 L65.55,484.67 L66.11,484.06 L66.67,483.43 L67.23,482.78 L67.78,482.12 L68.34,481.44 L68.9,480.75 L69.46,480.04 L70.02,479.32 L70.57,478.58 L71.13,477.83 L71.69,477.06 L72.25,476.29 L72.81,475.5 L73.36,474.7 L73.92,473.89 L74.48,473.07 L75.04,472.24 L75.6,471.41 L76.15,470.57 L76.71,469.72 L77.27,468.86 L77.83,468 L78.39,467.14 L78.94,466.27 L79.5,465.39 L80.06,464.52 L80.62,463.64 L81.18,462.76 L81.73,461.88 L82.29,461 L82.85,460.12 L83.41,459.24 L83.97,458.36 L84.52,457.48 L85.08,456.6 L85.64,455.72 L86.2,454.85 L86.76,453.98 L87.31,453.11 L87.87,452.25 L88.43,451.39 L88.99,450.53 L89.55,449.68 L90.1,448.83 L90.66,447.98 L91.22,447.14 L91.78,446.31 L92.34,445.48 L92.89,444.65 L93.45,443.84 L94.01,443.02 L94.57,442.21 L95.13,441.41 L95.68,440.61 L96.24,439.82 L96.8,439.03 L97.36,438.25 L97.92,437.48 L98.47,436.71 L99.03,435.95 L99.59,435.19 L100.15,434.44 L100.71,433.7 L101.26,432.96 L101.82,432.23 L102.38,431.51 L102.94,430.79 L103.5,430.07 L104.05,429.36 L104.61,428.66 L105.17,427.97 L105.73,427.28 L106.29,426.59 L106.84,425.92 L107.4,425.25 L107.96,424.58 L108.52,423.92 L109.08,423.27 L109.63,422.62 L110.19,421.98 L110.75,421.34 L111.31,420.71 L111.87,420.08 L112.42,419.46 L112.98,418.85 L113.54,418.24 L114.1,417.64 L114.66,417.04 L115.21,416.45 L115.77,415.86 L116.33,415.28 L116.89,414.7 L117.45,414.13 L118,413.56 L118.56,413 L119.12,412.45 L119.68,411.9 L120.24,411.35 L120.79,410.81 L121.35,410.27 L121.91,409.74 L122.47,409.21 L123.03,408.69 L123.58,408.17 L124.14,407.66 L124.7,407.15 L125.26,406.65 L125.82,406.15 L126.37,405.65 L126.93,405.16 L127.49,404.68 L128.05,404.19 L128.61,403.72 L129.16,403.24 L129.72,402.77 L130.28,402.31 L130.84,401.85 L131.4,401.39 L131.95,400.93 L132.51,400.48 L133.07,400.04 L133.63,399.6 L134.19,399.16 L134.74,398.72 L135.3,398.29 L135.86,397.87 L136.42,397.44 L136.98,397.02 L137.53,396.61 L138.09,396.2 L138.65,395.79 L139.21,395.38 L139.77,394.98 L140.32,394.58 L140.88,394.18 L141.44,393.79 L142,393.4 L142.56,393.02 L143.11,392.63 L143.67,392.25 L144.23,391.88 L144.79,391.5 L145.35,391.13 L145.9,390.76 L146.46,390.4 L147.02,390.04 L147.58,389.68 L148.14,389.32 L148.69,388.97 L149.25,388.62 L149.81,388.27 L150.37,387.93 L150.93,387.59 L151.48,387.25 L152.04,386.91 L152.6,386.58 L153.16,386.25 L153.72,385.92 L154.27,385.59 L154.83,385.27 L155.39,384.95 L155.95,384.63 L156.51,384.31 L157.06,384 L157.62,383.68 L158.18,383.38 L158.74,383.07 L159.3,382.76 L159.85,382.46 L160.41,382.16 L160.97,381.86 L161.53,381.57 L162.09,381.27 L162.64,380.98 L163.2,380.69 L163.76,380.41 L164.32,380.12 L164.88,379.84 L165.43,379.56 L165.99,379.28 L166.55,379 L167.11,378.73 L167.67,378.45 L168.22,378.18 L168.78,377.91 L169.34,377.65 L169.9,377.38 L170.46,377.12 L171.01,376.86 L171.57,376.6 L172.13,376.34 L172.69,376.08 L173.25,375.83 L173.8,375.57 L174.36,375.32 L174.92,375.07 L175.48,374.82 L176.04,374.58 L176.59,374.33 L177.15,374.09 L177.71,373.85 L178.27,373.61 L178.83,373.37 L179.38,373.14 L179.94,372.9 L180.5,372.67 L181.06,372.44 L181.62,372.21 L182.17,371.98 L182.73,371.75 L183.29,371.52 L183.85,371.3 L184.41,371.08 L184.96,370.85 L185.52,370.63 L186.08,370.42 L186.64,370.2 L187.2,369.98 L187.75,369.77 L188.31,369.55 L188.87,369.34 L189.43,369.13 L189.99,368.92 L190.54,368.71 L191.1,368.51 L191.66,368.3 L192.22,368.1 L192.78,367.89 L193.33,367.69 L193.89,367.49 L194.45,367.29 L195.01,367.09 L195.57,366.89 L196.12,366.7 L196.68,366.5 L197.24,366.31 L197.8,366.12 L198.36,365.92 L198.91,365.73 L199.47,365.54 L200.03,365.36 L200.59,365.17 L201.15,364.98 L201.7,364.8 L202.26,364.61 L202.82,364.43 L203.38,364.25 L203.94,364.07 L204.49,363.89 L205.05,363.71 L205.61,363.53 L206.17,363.35 L206.73,363.18 L207.28,363 L207.84,362.83 L208.4,362.65 L208.96,362.48 L209.52,362.31 L210.07,362.14 L210.63,361.97 L211.19,361.8 L211.75,361.63 L212.31,361.46 L212.86,361.3 L213.42,361.13 L213.98,360.97 L214.54,360.8 L215.1,360.64 L215.65,360.48 L216.21,360.32 L216.77,360.16 L217.33,360 L217.89,359.84 L218.44,359.68 L219,359.52 L219.56,359.37 L220.12,359.21 L220.68,359.06 L221.23,358.9 L221.79,358.75 L222.35,358.6" stroke="#2a788e" stroke-width="1.15" fill="none"/>
<path d="M41,496.78 L41.56,496.71 L42.12,496.64 L42.67,496.56 L43.23,496.48 L43.79,496.39 L44.35,496.3 L44.91,496.2 L45.46,496.09 L46.02,495.98 L46.58,495.86 L47.14,495.73 L47.7,495.6 L48.25,495.46 L48.81,495.31 L49.37,495.15 L49.93,494.98 L50.49,494.8 L51.04,494.62 L51.6,494.42 L52.16,494.21 L52.72,493.99 L53.28,493.75 L53.83,493.51 L54.39,493.25 L54.95,492.98 L55.51,492.69 L56.07,492.39 L56.62,492.07 L57.18,491.74 L57.74,491.4 L58.3,491.04 L58.86,490.66 L59.41,490.27 L59.97,489.86 L60.53,489.43 L61.09,488.99 L61.65,488.53 L62.2,488.05 L62.76,487.56 L63.32,487.05 L63.88,486.52 L64.44,485.97 L64.99,485.41 L65.55,484.84 L66.11,484.25 L66.67,483.64 L67.23,483.02 L67.78,482.38 L68.34,481.73 L68.9,481.07 L69.46,480.39 L70.02,479.7 L70.57,479 L71.13,478.29 L71.69,477.58 L72.25,476.85 L72.81,476.11 L73.36,475.37 L73.92,474.62 L74.48,473.86 L75.04,473.1 L75.6,472.33 L76.15,471.56 L76.71,470.79 L77.27,470.02 L77.83,469.24 L78.39,468.46 L78.94,467.68 L79.5,466.91 L80.06,466.13 L80.62,465.36 L81.18,464.59 L81.73,463.82 L82.29,463.05 L82.85,462.29 L83.41,461.53 L83.97,460.77 L84.52,460.02 L85.08,459.28 L85.64,458.54 L86.2,457.8 L86.76,457.07 L87.31,456.35 L87.87,455.64 L88.43,454.93 L88.99,454.22 L89.55,453.53 L90.1,452.84 L90.66,452.15 L91.22,451.48 L91.78,450.81 L92.34,450.15 L92.89,449.49 L93.45,448.85 L94.01,448.21 L94.57,447.57 L95.13,446.95 L95.68,446.33 L96.24,445.72 L96.8,445.12 L97.36,444.52 L97.92,443.93 L98.47,443.35 L99.03,442.78 L99.59,442.21 L100.15,441.65 L100.71,441.09 L101.26,440.55 L101.82,440.01 L102.38,439.47 L102.94,438.95 L103.5,438.43 L104.05,437.91 L104.61,437.41 L105.17,436.91 L105.73,436.41 L106.29,435.92 L106.84,435.44 L107.4,434.96 L107.96,434.49 L108.52,434.03 L109.08,433.57 L109.63,433.12 L110.19,432.67 L110.75,432.23 L111.31,431.79 L111.87,431.36 L112.42,430.93 L112.98,430.51 L113.54,430.1 L114.1,429.69 L114.66,429.28 L115.21,428.88 L115.77,428.49 L116.33,428.09 L116.89,427.71 L117.45,427.33 L118,426.95 L118.56,426.58 L119.12,426.21 L119.68,425.84 L120.24,425.48 L120.79,425.13 L121.35,424.77 L121.91,424.43 L122.47,424.08 L123.03,423.74 L123.58,423.41 L124.14,423.07 L124.7,422.75 L125.26,422.42 L125.82,422.1 L126.37,421.78 L126.93,421.47 L127.49,421.16 L128.05,420.85 L128.61,420.54 L129.16,420.24 L129.72,419.94 L130.28,419.65 L130.84,419.36 L131.4,419.07 L131.95,418.78 L132.51,418.5 L133.07,418.22 L133.63,417.94 L134.19,417.67 L134.74,417.4 L135.3,417.13 L135.86,416.86 L136.42,416.6 L136.98,416.34 L137.53,416.08 L138.09,415.83 L138.65,415.57 L139.21,415.32 L139.77,415.08 L140.32,414.83 L140.88,414.59 L141.44,414.34 L142,414.11 L142.56,413.87 L143.11,413.63 L143.67,413.4 L144.23,413.17 L144.79,412.94 L145.35,412.72 L145.9,412.49 L146.46,412.27 L147.02,412.05 L147.58,411.83 L148.14,411.62 L148.69,411.4 L149.25,411.19 L149.81,410.98 L150.37,410.77 L150.93,410.56 L151.48,410.36 L152.04,410.15 L152.6,409.95 L153.16,409.75 L153.72,409.55 L154.27,409.35 L154.83,409.16 L155.39,408.96 L155.95,408.77 L156.51,408.58 L157.06,408.39 L157.62,408.2 L158.18,408.02 L158.74,407.83 L159.3,407.65 L159.85,407.46 L160.41,407.28 L160.97,407.1 L161.53,406.93 L162.09,406.75 L162.64,406.57 L163.2,406.4 L163.76,406.23 L164.32,406.05 L164.88,405.88 L165.43,405.71 L165.99,405.55 L166.55,405.38 L167.11,405.21 L167.67,405.05 L168.22,404.89 L168.78,404.72 L169.34,404.56 L169.9,404.4 L170.46,404.24 L171.01,404.08 L171.57,403.93 L172.13,403.77 L172.69,403.62 L173.25,403.46 L173.8,403.31 L174.36,403.16 L174.92,403.01 L175.48,402.86 L176.04,402.71 L176.59,402.56 L177.15,402.41 L177.71,402.27 L178.27,402.12 L178.83,401.98 L179.38,401.83 L179.94,401.69 L180.5,401.55 L181.06,401.41 L181.62,401.27 L182.17,401.13 L182.73,400.99 L183.29,400.85 L183.85,400.71 L184.41,400.58 L184.96,400.44 L185.52,400.31 L186.08,400.17 L186.64,400.04 L187.2,399.91 L187.75,399.78 L188.31,399.64 L188.87,399.51 L189.43,399.38 L189.99,399.26 L190.54,399.13 L191.1,399 L191.66,398.87 L192.22,398.75 L192.78,398.62 L193.33,398.5 L193.89,398.37 L194.45,398.25 L195.01,398.12 L195.57,398 L196.12,397.88 L196.68,397.76 L197.24,397.64 L197.8,397.52 L198.36,397.4 L198.91,397.28 L199.47,397.16 L200.03,397.04 L200.59,396.93 L201.15,396.81 L201.7,396.69 L202.26,396.58 L202.82,396.46 L203.38,396.35 L203.94,396.23 L204.49,396.12 L205.05,396.01 L205.61,395.89 L206.17,395.78 L206.73,395.67 L207.28,395.56 L207.84,395.45 L208.4,395.34 L208.96,395.23 L209.52,395.12 L210.07,395.01 L210.63,394.9 L211.19,394.79 L211.75,394.69 L212.31,394.58 L212.86,394.47 L213.42,394.37 L213.98,394.26 L214.54,394.15 L215.1,394.05 L215.65,393.94 L216.21,393.84 L216.77,393.74 L217.33,393.63 L217.89,393.53 L218.44,393.43 L219,393.33 L219.56,393.22 L220.12,393.12 L220.68,393.02 L221.23,392.92 L221.79,392.82 L222.35,392.72" stroke="#228b8d" stroke-width="1.15" fill="none"/>
<path d="M41,496.78 L41.56,496.71 L42.12,496.64 L42.67,496.56 L43.23,496.48 L43.79,496.39 L44.35,496.3 L44.91,496.2 L45.46,496.1 L46.02,495.98 L46.58,495.87 L47.14,495.74 L47.7,495.61 L48.25,495.47 L48.81,495.32 L49.37,495.16 L49.93,495 L50.49,494.82 L51.04,494.64 L51.6,494.44 L52.16,494.24 L52.72,494.02 L53.28,493.79 L53.83,493.55 L54.39,493.3 L54.95,493.04 L55.51,492.76 L56.07,492.47 L56.62,492.17 L57.18,491.85 L57.74,491.52 L58.3,491.18 L58.86,490.82 L59.41,490.45 L59.97,490.06 L60.53,489.67 L61.09,489.25 L61.65,488.83 L62.2,488.39 L62.76,487.94 L63.32,487.48 L63.88,487 L64.44,486.52 L64.99,486.02 L65.55,485.51 L66.11,485 L66.67,484.47 L67.23,483.94 L67.78,483.4 L68.34,482.85 L68.9,482.3 L69.46,481.75 L70.02,481.19 L70.57,480.62 L71.13,480.06 L71.69,479.49 L72.25,478.93 L72.81,478.36 L73.36,477.8 L73.92,477.23 L74.48,476.67 L75.04,476.12 L75.6,475.57 L76.15,475.02 L76.71,474.47 L77.27,473.94 L77.83,473.4 L78.39,472.88 L78.94,472.36 L79.5,471.85 L80.06,471.34 L80.62,470.84 L81.18,470.35 L81.73,469.87 L82.29,469.4 L82.85,468.93 L83.41,468.47 L83.97,468.02 L84.52,467.58 L85.08,467.14 L85.64,466.72 L86.2,466.3 L86.76,465.89 L87.31,465.48 L87.87,465.09 L88.43,464.7 L88.99,464.32 L89.55,463.94 L90.1,463.58 L90.66,463.22 L91.22,462.87 L91.78,462.52 L92.34,462.18 L92.89,461.85 L93.45,461.52 L94.01,461.2 L94.57,460.89 L95.13,460.58 L95.68,460.28 L96.24,459.98 L96.8,459.69 L97.36,459.4 L97.92,459.12 L98.47,458.85 L99.03,458.58 L99.59,458.31 L100.15,458.05 L100.71,457.79 L101.26,457.54 L101.82,457.29 L102.38,457.05 L102.94,456.81 L103.5,456.57 L104.05,456.34 L104.61,456.11 L105.17,455.88 L105.73,455.66 L106.29,455.44 L106.84,455.23 L107.4,455.01 L107.96,454.8 L108.52,454.6 L109.08,454.39 L109.63,454.19 L110.19,454 L110.75,453.8 L111.31,453.61 L111.87,453.42 L112.42,453.23 L112.98,453.05 L113.54,452.86 L114.1,452.68 L114.66,452.51 L115.21,452.33 L115.77,452.16 L116.33,451.98 L116.89,451.82 L117.45,451.65 L118,451.48 L118.56,451.32 L119.12,451.15 L119.68,450.99 L120.24,450.84 L120.79,450.68 L121.35,450.52 L121.91,450.37 L122.47,450.22 L123.03,450.06 L123.58,449.92 L124.14,449.77 L124.7,449.62 L125.26,449.47 L125.82,449.33 L126.37,449.19 L126.93,449.05 L127.49,448.91 L128.05,448.77 L128.61,448.63 L129.16,448.49 L129.72,448.36 L130.28,448.22 L130.84,448.09 L131.4,447.95 L131.95,447.82 L132.51,447.69 L133.07,447.56 L133.63,447.43 L134.19,447.31 L134.74,447.18 L135.3,447.05 L135.86,446.93 L136.42,446.8 L136.98,446.68 L137.53,446.56 L138.09,446.44 L138.65,446.31 L139.21,446.19 L139.77,446.07 L140.32,445.95 L140.88,445.84 L141.44,445.72 L142,445.6 L142.56,445.49 L143.11,445.37 L143.67,445.25 L144.23,445.14 L144.79,445.03 L145.35,444.91 L145.9,444.8 L146.46,444.69 L147.02,444.58 L147.58,444.47 L148.14,444.36 L148.69,444.25 L149.25,444.14 L149.81,444.03 L150.37,443.92 L150.93,443.81 L151.48,443.7 L152.04,443.6 L152.6,443.49 L153.16,443.39 L153.72,443.28 L154.27,443.17 L154.83,443.07 L155.39,442.97 L155.95,442.86 L156.51,442.76 L157.06,442.66 L157.62,442.55 L158.18,442.45 L158.74,442.35 L159.3,442.25 L159.85,442.15 L160.41,442.04 L160.97,441.94 L161.53,441.84 L162.09,441.74 L162.64,441.64 L163.2,441.55 L163.76,441.45 L164.32,441.35 L164.88,441.25 L165.43,441.15 L165.99,441.05 L166.55,440.96 L167.11,440.86 L167.67,440.76 L168.22,440.67 L168.78,440.57 L169.34,440.47 L169.9,440.38 L170.46,440.28 L171.01,440.19 L171.57,440.09 L172.13,440 L172.69,439.9 L173.25,439.81 L173.8,439.72 L174.36,439.62 L174.92,439.53 L175.48,439.44 L176.04,439.34 L176.59,439.25 L177.15,439.16 L177.71,439.06 L178.27,438.97 L178.83,438.88 L179.38,438.79 L179.94,438.7 L180.5,438.61 L181.06,438.51 L181.62,438.42 L182.17,438.33 L182.73,438.24 L183.29,438.15 L183.85,438.06 L184.41,437.97 L184.96,437.88 L185.52,437.79 L186.08,437.7 L186.64,437.61 L187.2,437.52 L187.75,437.43 L188.31,437.34 L188.87,437.26 L189.43,437.17 L189.99,437.08 L190.54,436.99 L191.1,436.9 L191.66,436.81 L192.22,436.73 L192.78,436.64 L193.33,436.55 L193.89,436.46 L194.45,436.37 L195.01,436.29 L195.57,436.2 L196.12,436.11 L196.68,436.03 L197.24,435.94 L197.8,435.85 L198.36,435.77 L198.91,435.68 L199.47,435.59 L200.03,435.51 L200.59,435.42 L201.15,435.34 L201.7,435.25 L202.26,435.16 L202.82,435.08 L203.38,434.99 L203.94,434.91 L204.49,434.82 L205.05,434.74 L205.61,434.65 L206.17,434.57 L206.73,434.48 L207.28,434.4 L207.84,434.31 L208.4,434.23 L208.96,434.14 L209.52,434.06 L210.07,433.98 L210.63,433.89 L211.19,433.81 L211.75,433.72 L212.31,433.64 L212.86,433.56 L213.42,433.47 L213.98,433.39 L214.54,433.3 L215.1,433.22 L215.65,433.14 L216.21,433.05 L216.77,432.97 L217.33,432.89 L217.89,432.81 L218.44,432.72 L219,432.64 L219.56,432.56 L220.12,432.47 L220.68,432.39 L221.23,432.31 L221.79,432.23 L222.35,432.14" stroke="#1e9c89" stroke-width="1.15" fill="none"/>
<path d="M41,496.78 L41.56,496.71 L42.12,496.64 L42.67,496.56 L43.23,496.48 L43.79,496.39 L44.35,496.3 L44.91,496.2 L45.46,496.1 L46.02,495.99 L46.58,495.87 L47.14,495.75 L47.7,495.62 L48.25,495.48 L48.81,495.33 L49.37,495.18 L49.93,495.01 L50.49,494.84 L51.04,494.66 L51.6,494.47 L52.16,494.27 L52.72,494.05 L53.28,493.83 L53.83,493.6 L54.39,493.35 L54.95,493.1 L55.51,492.83 L56.07,492.55 L56.62,492.26 L57.18,491.95 L57.74,491.64 L58.3,491.31 L58.86,490.97 L59.41,490.62 L59.97,490.26 L60.53,489.89 L61.09,489.5 L61.65,489.11 L62.2,488.71 L62.76,488.29 L63.32,487.87 L63.88,487.44 L64.44,487 L64.99,486.56 L65.55,486.11 L66.11,485.65 L66.67,485.2 L67.23,484.73 L67.78,484.27 L68.34,483.8 L68.9,483.33 L69.46,482.87 L70.02,482.4 L70.57,481.93 L71.13,481.47 L71.69,481.01 L72.25,480.55 L72.81,480.1 L73.36,479.65 L73.92,479.21 L74.48,478.77 L75.04,478.34 L75.6,477.91 L76.15,477.49 L76.71,477.08 L77.27,476.68 L77.83,476.28 L78.39,475.89 L78.94,475.51 L79.5,475.13 L80.06,474.76 L80.62,474.4 L81.18,474.05 L81.73,473.71 L82.29,473.37 L82.85,473.04 L83.41,472.72 L83.97,472.4 L84.52,472.09 L85.08,471.79 L85.64,471.5 L86.2,471.21 L86.76,470.92 L87.31,470.65 L87.87,470.38 L88.43,470.11 L88.99,469.85 L89.55,469.6 L90.1,469.35 L90.66,469.11 L91.22,468.87 L91.78,468.64 L92.34,468.41 L92.89,468.19 L93.45,467.97 L94.01,467.75 L94.57,467.54 L95.13,467.34 L95.68,467.13 L96.24,466.93 L96.8,466.74 L97.36,466.54 L97.92,466.36 L98.47,466.17 L99.03,465.99 L99.59,465.81 L100.15,465.63 L100.71,465.46 L101.26,465.28 L101.82,465.12 L102.38,464.95 L102.94,464.78 L103.5,464.62 L104.05,464.46 L104.61,464.31 L105.17,464.15 L105.73,464 L106.29,463.85 L106.84,463.7 L107.4,463.55 L107.96,463.41 L108.52,463.26 L109.08,463.12 L109.63,462.98 L110.19,462.84 L110.75,462.7 L111.31,462.57 L111.87,462.43 L112.42,462.3 L112.98,462.17 L113.54,462.04 L114.1,461.91 L114.66,461.78 L115.21,461.65 L115.77,461.53 L116.33,461.4 L116.89,461.28 L117.45,461.16 L118,461.04 L118.56,460.92 L119.12,460.8 L119.68,460.68 L120.24,460.56 L120.79,460.44 L121.35,460.33 L121.91,460.21 L122.47,460.1 L123.03,459.98 L123.58,459.87 L124.14,459.76 L124.7,459.65 L125.26,459.54 L125.82,459.43 L126.37,459.32 L126.93,459.21 L127.49,459.1 L128.05,458.99 L128.61,458.89 L129.16,458.78 L129.72,458.68 L130.28,458.57 L130.84,458.47 L131.4,458.36 L131.95,458.26 L132.51,458.15 L133.07,458.05 L133.63,457.95 L134.19,457.85 L134.74,457.75 L135.3,457.65 L135.86,457.55 L136.42,457.45 L136.98,457.35 L137.53,457.25 L138.09,457.15 L138.65,457.05 L139.21,456.95 L139.77,456.86 L140.32,456.76 L140.88,456.66 L141.44,456.56 L142,456.47 L142.56,456.37 L143.11,456.28 L143.67,456.18 L144.23,456.09 L144.79,455.99 L145.35,455.9 L145.9,455.8 L146.46,455.71 L147.02,455.62 L147.58,455.52 L148.14,455.43 L148.69,455.34 L149.25,455.24 L149.81,455.15 L150.37,455.06 L150.93,454.97 L151.48,454.88 L152.04,454.79 L152.6,454.69 L153.16,454.6 L153.72,454.51 L154.27,454.42 L154.83,454.33 L155.39,454.24 L155.95,454.15 L156.51,454.06 L157.06,453.97 L157.62,453.88 L158.18,453.79 L158.74,453.7 L159.3,453.62 L159.85,453.53 L160.41,453.44 L160.97,453.35 L161.53,453.26 L162.09,453.17 L162.64,453.09 L163.2,453 L163.76,452.91 L164.32,452.82 L164.88,452.74 L165.43,452.65 L165.99,452.56 L166.55,452.48 L167.11,452.39 L167.67,452.3 L168.22,452.22 L168.78,452.13 L169.34,452.04 L169.9,451.96 L170.46,451.87 L171.01,451.79 L171.57,451.7 L172.13,451.61 L172.69,451.53 L173.25,451.44 L173.8,451.36 L174.36,451.27 L174.92,451.19 L175.48,451.1 L176.04,451.02 L176.59,450.93 L177.15,450.85 L177.71,450.76 L178.27,450.68 L178.83,450.59 L179.38,450.51 L179.94,450.43 L180.5,450.34 L181.06,450.26 L181.62,450.17 L182.17,450.09 L182.73,450.01 L183.29,449.92 L183.85,449.84 L184.41,449.76 L184.96,449.67 L185.52,449.59 L186.08,449.51 L186.64,449.42 L187.2,449.34 L187.75,449.26 L188.31,449.17 L188.87,449.09 L189.43,449.01 L189.99,448.92 L190.54,448.84 L191.1,448.76 L191.66,448.68 L192.22,448.59 L192.78,448.51 L193.33,448.43 L193.89,448.35 L194.45,448.26 L195.01,448.18 L195.57,448.1 L196.12,448.02 L196.68,447.94 L197.24,447.85 L197.8,447.77 L198.36,447.69 L198.91,447.61 L199.47,447.53 L200.03,447.44 L200.59,447.36 L201.15,447.28 L201.7,447.2 L202.26,447.12 L202.82,447.04 L203.38,446.96 L203.94,446.87 L204.49,446.79 L205.05,446.71 L205.61,446.63 L206.17,446.55 L206.73,446.47 L207.28,446.39 L207.84,446.31 L208.4,446.22 L208.96,446.14 L209.52,446.06 L210.07,445.98 L210.63,445.9 L211.19,445.82 L211.75,445.74 L212.31,445.66 L212.86,445.58 L213.42,445.5 L213.98,445.42 L214.54,445.34 L215.1,445.26 L215.65,445.18 L216.21,445.09 L216.77,445.01 L217.33,444.93 L217.89,444.85 L218.44,444.77 L219,444.69 L219.56,444.61 L220.12,444.53 L220.68,444.45 L221.23,444.37 L221.79,444.29 L222.35,444.21" stroke="#26ad81" stroke-width="1.15" fill="none"/>
<path d="M41,496.78 L41.56,496.71 L42.12,496.64 L42.67,496.57 L43.23,496.48 L43.79,496.4 L44.35,496.31 L44.91,496.21 L45.46,496.11 L46.02,496 L46.58,495.88 L47.14,495.76 L47.7,495.63 L48.25,495.49 L48.81,495.35 L49.37,495.2 L49.93,495.03 L50.49,494.87 L51.04,494.69 L51.6,494.5 L52.16,494.3 L52.72,494.1 L53.28,493.88 L53.83,493.65 L54.39,493.42 L54.95,493.17 L55.51,492.91 L56.07,492.65 L56.62,492.37 L57.18,492.08 L57.74,491.79 L58.3,491.48 L58.86,491.16 L59.41,490.84 L59.97,490.5 L60.53,490.16 L61.09,489.81 L61.65,489.45 L62.2,489.08 L62.76,488.71 L63.32,488.34 L63.88,487.96 L64.44,487.57 L64.99,487.19 L65.55,486.8 L66.11,486.41 L66.67,486.01 L67.23,485.62 L67.78,485.23 L68.34,484.84 L68.9,484.46 L69.46,484.07 L70.02,483.69 L70.57,483.32 L71.13,482.94 L71.69,482.58 L72.25,482.22 L72.81,481.86 L73.36,481.51 L73.92,481.17 L74.48,480.83 L75.04,480.5 L75.6,480.18 L76.15,479.86 L76.71,479.56 L77.27,479.25 L77.83,478.96 L78.39,478.67 L78.94,478.39 L79.5,478.11 L80.06,477.84 L80.62,477.58 L81.18,477.32 L81.73,477.07 L82.29,476.83 L82.85,476.59 L83.41,476.35 L83.97,476.13 L84.52,475.9 L85.08,475.69 L85.64,475.47 L86.2,475.27 L86.76,475.06 L87.31,474.86 L87.87,474.67 L88.43,474.48 L88.99,474.29 L89.55,474.11 L90.1,473.93 L90.66,473.75 L91.22,473.58 L91.78,473.41 L92.34,473.24 L92.89,473.08 L93.45,472.92 L94.01,472.76 L94.57,472.6 L95.13,472.45 L95.68,472.3 L96.24,472.15 L96.8,472 L97.36,471.86 L97.92,471.72 L98.47,471.58 L99.03,471.44 L99.59,471.3 L100.15,471.17 L100.71,471.04 L101.26,470.91 L101.82,470.78 L102.38,470.65 L102.94,470.52 L103.5,470.39 L104.05,470.27 L104.61,470.15 L105.17,470.03 L105.73,469.91 L106.29,469.79 L106.84,469.67 L107.4,469.55 L107.96,469.44 L108.52,469.32 L109.08,469.21 L109.63,469.09 L110.19,468.98 L110.75,468.87 L111.31,468.76 L111.87,468.65 L112.42,468.54 L112.98,468.43 L113.54,468.32 L114.1,468.22 L114.66,468.11 L115.21,468.01 L115.77,467.9 L116.33,467.8 L116.89,467.69 L117.45,467.59 L118,467.49 L118.56,467.39 L119.12,467.28 L119.68,467.18 L120.24,467.08 L120.79,466.98 L121.35,466.88 L121.91,466.78 L122.47,466.69 L123.03,466.59 L123.58,466.49 L124.14,466.39 L124.7,466.3 L125.26,466.2 L125.82,466.1 L126.37,466.01 L126.93,465.91 L127.49,465.82 L128.05,465.72 L128.61,465.63 L129.16,465.53 L129.72,465.44 L130.28,465.35 L130.84,465.25 L131.4,465.16 L131.95,465.07 L132.51,464.97 L133.07,464.88 L133.63,464.79 L134.19,464.7 L134.74,464.61 L135.3,464.51 L135.86,464.42 L136.42,464.33 L136.98,464.24 L137.53,464.15 L138.09,464.06 L138.65,463.97 L139.21,463.88 L139.77,463.79 L140.32,463.7 L140.88,463.61 L141.44,463.52 L142,463.44 L142.56,463.35 L143.11,463.26 L143.67,463.17 L144.23,463.08 L144.79,462.99 L145.35,462.91 L145.9,462.82 L146.46,462.73 L147.02,462.64 L147.58,462.56 L148.14,462.47 L148.69,462.38 L149.25,462.29 L149.81,462.21 L150.37,462.12 L150.93,462.03 L151.48,461.95 L152.04,461.86 L152.6,461.77 L153.16,461.69 L153.72,461.6 L154.27,461.52 L154.83,461.43 L155.39,461.35 L155.95,461.26 L156.51,461.17 L157.06,461.09 L157.62,461 L158.18,460.92 L158.74,460.83 L159.3,460.75 L159.85,460.66 L160.41,460.58 L160.97,460.49 L161.53,460.41 L162.09,460.32 L162.64,460.24 L163.2,460.15 L163.76,460.07 L164.32,459.99 L164.88,459.9 L165.43,459.82 L165.99,459.73 L166.55,459.65 L167.11,459.57 L167.67,459.48 L168.22,459.4 L168.78,459.31 L169.34,459.23 L169.9,459.15 L170.46,459.06 L171.01,458.98 L171.57,458.9 L172.13,458.81 L172.69,458.73 L173.25,458.65 L173.8,458.56 L174.36,458.48 L174.92,458.4 L175.48,458.31 L176.04,458.23 L176.59,458.15 L177.15,458.06 L177.71,457.98 L178.27,457.9 L178.83,457.82 L179.38,457.73 L179.94,457.65 L180.5,457.57 L181.06,457.49 L181.62,457.4 L182.17,457.32 L182.73,457.24 L183.29,457.16 L183.85,457.07 L184.41,456.99 L184.96,456.91 L185.52,456.83 L186.08,456.74 L186.64,456.66 L187.2,456.58 L187.75,456.5 L188.31,456.42 L188.87,456.33 L189.43,456.25 L189.99,456.17 L190.54,456.09 L191.1,456.01 L191.66,455.92 L192.22,455.84 L192.78,455.76 L193.33,455.68 L193.89,455.6 L194.45,455.51 L195.01,455.43 L195.57,455.35 L196.12,455.27 L196.68,455.19 L197.24,455.11 L197.8,455.03 L198.36,454.94 L198.91,454.86 L199.47,454.78 L200.03,454.7 L200.59,454.62 L201.15,454.54 L201.7,454.46 L202.26,454.37 L202.82,454.29 L203.38,454.21 L203.94,454.13 L204.49,454.05 L205.05,453.97 L205.61,453.89 L206.17,453.81 L206.73,453.72 L207.28,453.64 L207.84,453.56 L208.4,453.48 L208.96,453.4 L209.52,453.32 L210.07,453.24 L210.63,453.16 L211.19,453.08 L211.75,452.99 L212.31,452.91 L212.86,452.83 L213.42,452.75 L213.98,452.67 L214.54,452.59 L215.1,452.51 L215.65,452.43 L216.21,452.35 L216.77,452.27 L217.33,452.19 L217.89,452.11 L218.44,452.02 L219,451.94 L219.56,451.86 L220.12,451.78 L220.68,451.7 L221.23,451.62 L221.79,451.54 L222.35,451.46" stroke="#3fbc73" stroke-width="1.15" fill="none"/>
<path d="M41,496.78 L41.56,496.72 L42.12,496.65 L42.67,496.57 L43.23,496.49 L43.79,496.4 L44.35,496.31 L44.91,496.22 L45.46,496.12 L46.02,496.01 L46.58,495.89 L47.14,495.77 L47.7,495.65 L48.25,495.51 L48.81,495.37 L49.37,495.22 L49.93,495.07 L50.49,494.9 L51.04,494.73 L51.6,494.55 L52.16,494.36 L52.72,494.16 L53.28,493.96 L53.83,493.74 L54.39,493.52 L54.95,493.29 L55.51,493.04 L56.07,492.8 L56.62,492.54 L57.18,492.27 L57.74,492 L58.3,491.72 L58.86,491.43 L59.41,491.14 L59.97,490.84 L60.53,490.54 L61.09,490.23 L61.65,489.92 L62.2,489.61 L62.76,489.29 L63.32,488.97 L63.88,488.65 L64.44,488.33 L64.99,488.01 L65.55,487.69 L66.11,487.37 L66.67,487.06 L67.23,486.75 L67.78,486.44 L68.34,486.14 L68.9,485.84 L69.46,485.54 L70.02,485.25 L70.57,484.97 L71.13,484.69 L71.69,484.42 L72.25,484.15 L72.81,483.89 L73.36,483.63 L73.92,483.38 L74.48,483.14 L75.04,482.91 L75.6,482.68 L76.15,482.45 L76.71,482.23 L77.27,482.02 L77.83,481.81 L78.39,481.61 L78.94,481.41 L79.5,481.22 L80.06,481.03 L80.62,480.85 L81.18,480.67 L81.73,480.5 L82.29,480.33 L82.85,480.16 L83.41,480 L83.97,479.84 L84.52,479.68 L85.08,479.53 L85.64,479.38 L86.2,479.24 L86.76,479.09 L87.31,478.95 L87.87,478.82 L88.43,478.68 L88.99,478.55 L89.55,478.42 L90.1,478.29 L90.66,478.17 L91.22,478.04 L91.78,477.92 L92.34,477.8 L92.89,477.68 L93.45,477.57 L94.01,477.45 L94.57,477.34 L95.13,477.23 L95.68,477.12 L96.24,477.01 L96.8,476.9 L97.36,476.79 L97.92,476.69 L98.47,476.58 L99.03,476.48 L99.59,476.38 L100.15,476.27 L100.71,476.17 L101.26,476.07 L101.82,475.98 L102.38,475.88 L102.94,475.78 L103.5,475.68 L104.05,475.59 L104.61,475.49 L105.17,475.4 L105.73,475.31 L106.29,475.21 L106.84,475.12 L107.4,475.03 L107.96,474.94 L108.52,474.85 L109.08,474.76 L109.63,474.67 L110.19,474.58 L110.75,474.49 L111.31,474.4 L111.87,474.31 L112.42,474.23 L112.98,474.14 L113.54,474.05 L114.1,473.97 L114.66,473.88 L115.21,473.8 L115.77,473.71 L116.33,473.63 L116.89,473.54 L117.45,473.46 L118,473.37 L118.56,473.29 L119.12,473.21 L119.68,473.12 L120.24,473.04 L120.79,472.96 L121.35,472.88 L121.91,472.79 L122.47,472.71 L123.03,472.63 L123.58,472.55 L124.14,472.47 L124.7,472.39 L125.26,472.31 L125.82,472.23 L126.37,472.15 L126.93,472.07 L127.49,471.99 L128.05,471.91 L128.61,471.83 L129.16,471.75 L129.72,471.67 L130.28,471.59 L130.84,471.51 L131.4,471.43 L131.95,471.35 L132.51,471.27 L133.07,471.19 L133.63,471.12 L134.19,471.04 L134.74,470.96 L135.3,470.88 L135.86,470.8 L136.42,470.73 L136.98,470.65 L137.53,470.57 L138.09,470.49 L138.65,470.42 L139.21,470.34 L139.77,470.26 L140.32,470.19 L140.88,470.11 L141.44,470.03 L142,469.95 L142.56,469.88 L143.11,469.8 L143.67,469.72 L144.23,469.65 L144.79,469.57 L145.35,469.5 L145.9,469.42 L146.46,469.34 L147.02,469.27 L147.58,469.19 L148.14,469.12 L148.69,469.04 L149.25,468.96 L149.81,468.89 L150.37,468.81 L150.93,468.74 L151.48,468.66 L152.04,468.59 L152.6,468.51 L153.16,468.44 L153.72,468.36 L154.27,468.29 L154.83,468.21 L155.39,468.13 L155.95,468.06 L156.51,467.98 L157.06,467.91 L157.62,467.84 L158.18,467.76 L158.74,467.69 L159.3,467.61 L159.85,467.54 L160.41,467.46 L160.97,467.39 L161.53,467.31 L162.09,467.24 L162.64,467.16 L163.2,467.09 L163.76,467.01 L164.32,466.94 L164.88,466.87 L165.43,466.79 L165.99,466.72 L166.55,466.64 L167.11,466.57 L167.67,466.49 L168.22,466.42 L168.78,466.35 L169.34,466.27 L169.9,466.2 L170.46,466.12 L171.01,466.05 L171.57,465.98 L172.13,465.9 L172.69,465.83 L173.25,465.75 L173.8,465.68 L174.36,465.61 L174.92,465.53 L175.48,465.46 L176.04,465.38 L176.59,465.31 L177.15,465.24 L177.71,465.16 L178.27,465.09 L178.83,465.02 L179.38,464.94 L179.94,464.87 L180.5,464.8 L181.06,464.72 L181.62,464.65 L182.17,464.58 L182.73,464.5 L183.29,464.43 L183.85,464.35 L184.41,464.28 L184.96,464.21 L185.52,464.13 L186.08,464.06 L186.64,463.99 L187.2,463.91 L187.75,463.84 L188.31,463.77 L188.87,463.69 L189.43,463.62 L189.99,463.55 L190.54,463.48 L191.1,463.4 L191.66,463.33 L192.22,463.26 L192.78,463.18 L193.33,463.11 L193.89,463.04 L194.45,462.96 L195.01,462.89 L195.57,462.82 L196.12,462.74 L196.68,462.67 L197.24,462.6 L197.8,462.53 L198.36,462.45 L198.91,462.38 L199.47,462.31 L200.03,462.23 L200.59,462.16 L201.15,462.09 L201.7,462.01 L202.26,461.94 L202.82,461.87 L203.38,461.8 L203.94,461.72 L204.49,461.65 L205.05,461.58 L205.61,461.5 L206.17,461.43 L206.73,461.36 L207.28,461.29 L207.84,461.21 L208.4,461.14 L208.96,461.07 L209.52,461 L210.07,460.92 L210.63,460.85 L211.19,460.78 L211.75,460.7 L212.31,460.63 L212.86,460.56 L213.42,460.49 L213.98,460.41 L214.54,460.34 L215.1,460.27 L215.65,460.2 L216.21,460.12 L216.77,460.05 L217.33,459.98 L217.89,459.91 L218.44,459.83 L219,459.76 L219.56,459.69 L220.12,459.61 L220.68,459.54 L221.23,459.47 L221.79,459.4 L222.35,459.32" stroke="#7ad151" stroke-width="1.15" fill="none"/>
<path d="M41,496.79 L41.56,496.72 L42.12,496.65 L42.67,496.57 L43.23,496.5 L43.79,496.41 L44.35,496.32 L44.91,496.23 L45.46,496.13 L46.02,496.02 L46.58,495.91 L47.14,495.79 L47.7,495.67 L48.25,495.54 L48.81,495.4 L49.37,495.25 L49.93,495.1 L50.49,494.94 L51.04,494.78 L51.6,494.61 L52.16,494.42 L52.72,494.24 L53.28,494.04 L53.83,493.84 L54.39,493.63 L54.95,493.41 L55.51,493.19 L56.07,492.96 L56.62,492.72 L57.18,492.48 L57.74,492.23 L58.3,491.98 L58.86,491.72 L59.41,491.46 L59.97,491.19 L60.53,490.93 L61.09,490.66 L61.65,490.39 L62.2,490.12 L62.76,489.85 L63.32,489.58 L63.88,489.31 L64.44,489.04 L64.99,488.78 L65.55,488.52 L66.11,488.26 L66.67,488.01 L67.23,487.76 L67.78,487.51 L68.34,487.27 L68.9,487.03 L69.46,486.8 L70.02,486.58 L70.57,486.36 L71.13,486.14 L71.69,485.93 L72.25,485.73 L72.81,485.53 L73.36,485.33 L73.92,485.14 L74.48,484.96 L75.04,484.78 L75.6,484.6 L76.15,484.43 L76.71,484.27 L77.27,484.11 L77.83,483.95 L78.39,483.79 L78.94,483.64 L79.5,483.5 L80.06,483.35 L80.62,483.21 L81.18,483.08 L81.73,482.94 L82.29,482.81 L82.85,482.68 L83.41,482.55 L83.97,482.43 L84.52,482.31 L85.08,482.19 L85.64,482.07 L86.2,481.95 L86.76,481.84 L87.31,481.73 L87.87,481.62 L88.43,481.51 L88.99,481.4 L89.55,481.3 L90.1,481.19 L90.66,481.09 L91.22,480.99 L91.78,480.88 L92.34,480.78 L92.89,480.69 L93.45,480.59 L94.01,480.49 L94.57,480.4 L95.13,480.3 L95.68,480.21 L96.24,480.11 L96.8,480.02 L97.36,479.93 L97.92,479.84 L98.47,479.75 L99.03,479.66 L99.59,479.57 L100.15,479.48 L100.71,479.39 L101.26,479.3 L101.82,479.21 L102.38,479.13 L102.94,479.04 L103.5,478.96 L104.05,478.87 L104.61,478.78 L105.17,478.7 L105.73,478.62 L106.29,478.53 L106.84,478.45 L107.4,478.37 L107.96,478.28 L108.52,478.2 L109.08,478.12 L109.63,478.04 L110.19,477.95 L110.75,477.87 L111.31,477.79 L111.87,477.71 L112.42,477.63 L112.98,477.55 L113.54,477.47 L114.1,477.39 L114.66,477.31 L115.21,477.23 L115.77,477.15 L116.33,477.07 L116.89,476.99 L117.45,476.91 L118,476.83 L118.56,476.76 L119.12,476.68 L119.68,476.6 L120.24,476.52 L120.79,476.44 L121.35,476.37 L121.91,476.29 L122.47,476.21 L123.03,476.13 L123.58,476.06 L124.14,475.98 L124.7,475.9 L125.26,475.83 L125.82,475.75 L126.37,475.67 L126.93,475.6 L127.49,475.52 L128.05,475.44 L128.61,475.37 L129.16,475.29 L129.72,475.21 L130.28,475.14 L130.84,475.06 L131.4,474.99 L131.95,474.91 L132.51,474.84 L133.07,474.76 L133.63,474.68 L134.19,474.61 L134.74,474.53 L135.3,474.46 L135.86,474.38 L136.42,474.31 L136.98,474.23 L137.53,474.16 L138.09,474.08 L138.65,474.01 L139.21,473.93 L139.77,473.86 L140.32,473.78 L140.88,473.71 L141.44,473.63 L142,473.56 L142.56,473.49 L143.11,473.41 L143.67,473.34 L144.23,473.26 L144.79,473.19 L145.35,473.11 L145.9,473.04 L146.46,472.97 L147.02,472.89 L147.58,472.82 L148.14,472.74 L148.69,472.67 L149.25,472.6 L149.81,472.52 L150.37,472.45 L150.93,472.37 L151.48,472.3 L152.04,472.23 L152.6,472.15 L153.16,472.08 L153.72,472 L154.27,471.93 L154.83,471.86 L155.39,471.78 L155.95,471.71 L156.51,471.64 L157.06,471.56 L157.62,471.49 L158.18,471.42 L158.74,471.34 L159.3,471.27 L159.85,471.2 L160.41,471.12 L160.97,471.05 L161.53,470.98 L162.09,470.9 L162.64,470.83 L163.2,470.76 L163.76,470.68 L164.32,470.61 L164.88,470.54 L165.43,470.46 L165.99,470.39 L166.55,470.32 L167.11,470.24 L167.67,470.17 L168.22,470.1 L168.78,470.02 L169.34,469.95 L169.9,469.88 L170.46,469.81 L171.01,469.73 L171.57,469.66 L172.13,469.59 L172.69,469.51 L173.25,469.44 L173.8,469.37 L174.36,469.3 L174.92,469.22 L175.48,469.15 L176.04,469.08 L176.59,469 L177.15,468.93 L177.71,468.86 L178.27,468.79 L178.83,468.71 L179.38,468.64 L179.94,468.57 L180.5,468.49 L181.06,468.42 L181.62,468.35 L182.17,468.28 L182.73,468.2 L183.29,468.13 L183.85,468.06 L184.41,467.99 L184.96,467.91 L185.52,467.84 L186.08,467.77 L186.64,467.7 L187.2,467.62 L187.75,467.55 L188.31,467.48 L188.87,467.41 L189.43,467.33 L189.99,467.26 L190.54,467.19 L191.1,467.12 L191.66,467.04 L192.22,466.97 L192.78,466.9 L193.33,466.83 L193.89,466.75 L194.45,466.68 L195.01,466.61 L195.57,466.54 L196.12,466.46 L196.68,466.39 L197.24,466.32 L197.8,466.25 L198.36,466.17 L198.91,466.1 L199.47,466.03 L200.03,465.96 L200.59,465.88 L201.15,465.81 L201.7,465.74 L202.26,465.67 L202.82,465.59 L203.38,465.52 L203.94,465.45 L204.49,465.38 L205.05,465.31 L205.61,465.23 L206.17,465.16 L206.73,465.09 L207.28,465.02 L207.84,464.94 L208.4,464.87 L208.96,464.8 L209.52,464.73 L210.07,464.65 L210.63,464.58 L211.19,464.51 L211.75,464.44 L212.31,464.37 L212.86,464.29 L213.42,464.22 L213.98,464.15 L214.54,464.08 L215.1,464 L215.65,463.93 L216.21,463.86 L216.77,463.79 L217.33,463.72 L217.89,463.64 L218.44,463.57 L219,463.5 L219.56,463.43 L220.12,463.35 L220.68,463.28 L221.23,463.21 L221.79,463.14 L222.35,463.07" stroke="#bddf26" stroke-width="1.15" fill="none"/>
<path d="M41,496.8 L41.56,496.74 L42.12,496.67 L42.67,496.6 L43.23,496.52 L43.79,496.44 L44.35,496.36 L44.91,496.27 L45.46,496.18 L46.02,496.08 L46.58,495.98 L47.14,495.87 L47.7,495.76 L48.25,495.65 L48.81,495.52 L49.37,495.4 L49.93,495.27 L50.49,495.13 L51.04,494.99 L51.6,494.85 L52.16,494.7 L52.72,494.55 L53.28,494.4 L53.83,494.24 L54.39,494.08 L54.95,493.92 L55.51,493.75 L56.07,493.59 L56.62,493.42 L57.18,493.25 L57.74,493.09 L58.3,492.92 L58.86,492.75 L59.41,492.59 L59.97,492.42 L60.53,492.26 L61.09,492.1 L61.65,491.94 L62.2,491.79 L62.76,491.63 L63.32,491.48 L63.88,491.34 L64.44,491.19 L64.99,491.05 L65.55,490.92 L66.11,490.78 L66.67,490.65 L67.23,490.52 L67.78,490.4 L68.34,490.27 L68.9,490.15 L69.46,490.04 L70.02,489.92 L70.57,489.81 L71.13,489.7 L71.69,489.59 L72.25,489.48 L72.81,489.38 L73.36,489.27 L73.92,489.17 L74.48,489.07 L75.04,488.97 L75.6,488.88 L76.15,488.78 L76.71,488.69 L77.27,488.59 L77.83,488.5 L78.39,488.41 L78.94,488.31 L79.5,488.22 L80.06,488.13 L80.62,488.04 L81.18,487.95 L81.73,487.86 L82.29,487.78 L82.85,487.69 L83.41,487.6 L83.97,487.51 L84.52,487.43 L85.08,487.34 L85.64,487.26 L86.2,487.17 L86.76,487.09 L87.31,487 L87.87,486.92 L88.43,486.83 L88.99,486.75 L89.55,486.66 L90.1,486.58 L90.66,486.49 L91.22,486.41 L91.78,486.33 L92.34,486.24 L92.89,486.16 L93.45,486.08 L94.01,485.99 L94.57,485.91 L95.13,485.83 L95.68,485.74 L96.24,485.66 L96.8,485.58 L97.36,485.5 L97.92,485.41 L98.47,485.33 L99.03,485.25 L99.59,485.17 L100.15,485.09 L100.71,485 L101.26,484.92 L101.82,484.84 L102.38,484.76 L102.94,484.68 L103.5,484.6 L104.05,484.51 L104.61,484.43 L105.17,484.35 L105.73,484.27 L106.29,484.19 L106.84,484.11 L107.4,484.03 L107.96,483.95 L108.52,483.87 L109.08,483.78 L109.63,483.7 L110.19,483.62 L110.75,483.54 L111.31,483.46 L111.87,483.38 L112.42,483.3 L112.98,483.22 L113.54,483.14 L114.1,483.06 L114.66,482.98 L115.21,482.9 L115.77,482.82 L116.33,482.74 L116.89,482.66 L117.45,482.58 L118,482.5 L118.56,482.42 L119.12,482.33 L119.68,482.25 L120.24,482.17 L120.79,482.09 L121.35,482.01 L121.91,481.93 L122.47,481.85 L123.03,481.77 L123.58,481.69 L124.14,481.61 L124.7,481.53 L125.26,481.45 L125.82,481.37 L126.37,481.29 L126.93,481.21 L127.49,481.13 L128.05,481.05 L128.61,480.98 L129.16,480.9 L129.72,480.82 L130.28,480.74 L130.84,480.66 L131.4,480.58 L131.95,480.5 L132.51,480.42 L133.07,480.34 L133.63,480.26 L134.19,480.18 L134.74,480.1 L135.3,480.02 L135.86,479.94 L136.42,479.86 L136.98,479.78 L137.53,479.7 L138.09,479.62 L138.65,479.54 L139.21,479.46 L139.77,479.38 L140.32,479.3 L140.88,479.22 L141.44,479.14 L142,479.06 L142.56,478.99 L143.11,478.91 L143.67,478.83 L144.23,478.75 L144.79,478.67 L145.35,478.59 L145.9,478.51 L146.46,478.43 L147.02,478.35 L147.58,478.27 L148.14,478.19 L148.69,478.11 L149.25,478.03 L149.81,477.95 L150.37,477.87 L150.93,477.8 L151.48,477.72 L152.04,477.64 L152.6,477.56 L153.16,477.48 L153.72,477.4 L154.27,477.32 L154.83,477.24 L155.39,477.16 L155.95,477.08 L156.51,477 L157.06,476.92 L157.62,476.84 L158.18,476.76 L158.74,476.69 L159.3,476.61 L159.85,476.53 L160.41,476.45 L160.97,476.37 L161.53,476.29 L162.09,476.21 L162.64,476.13 L163.2,476.05 L163.76,475.97 L164.32,475.89 L164.88,475.81 L165.43,475.74 L165.99,475.66 L166.55,475.58 L167.11,475.5 L167.67,475.42 L168.22,475.34 L168.78,475.26 L169.34,475.18 L169.9,475.1 L170.46,475.02 L171.01,474.94 L171.57,474.87 L172.13,474.79 L172.69,474.71 L173.25,474.63 L173.8,474.55 L174.36,474.47 L174.92,474.39 L175.48,474.31 L176.04,474.23 L176.59,474.15 L177.15,474.07 L177.71,474 L178.27,473.92 L178.83,473.84 L179.38,473.76 L179.94,473.68 L180.5,473.6 L181.06,473.52 L181.62,473.44 L182.17,473.36 L182.73,473.28 L183.29,473.21 L183.85,473.13 L184.41,473.05 L184.96,472.97 L185.52,472.89 L186.08,472.81 L186.64,472.73 L187.2,472.65 L187.75,472.57 L188.31,472.49 L188.87,472.41 L189.43,472.34 L189.99,472.26 L190.54,472.18 L191.1,472.1 L191.66,472.02 L192.22,471.94 L192.78,471.86 L193.33,471.78 L193.89,471.7 L194.45,471.63 L195.01,471.55 L195.57,471.47 L196.12,471.39 L196.68,471.31 L197.24,471.23 L197.8,471.15 L198.36,471.07 L198.91,470.99 L199.47,470.91 L200.03,470.84 L200.59,470.76 L201.15,470.68 L201.7,470.6 L202.26,470.52 L202.82,470.44 L203.38,470.36 L203.94,470.28 L204.49,470.2 L205.05,470.12 L205.61,470.05 L206.17,469.97 L206.73,469.89 L207.28,469.81 L207.84,469.73 L208.4,469.65 L208.96,469.57 L209.52,469.49 L210.07,469.41 L210.63,469.34 L211.19,469.26 L211.75,469.18 L212.31,469.1 L212.86,469.02 L213.42,468.94 L213.98,468.86 L214.54,468.78 L215.1,468.7 L215.65,468.62 L216.21,468.55 L216.77,468.47 L217.33,468.39 L217.89,468.31 L218.44,468.23 L219,468.15 L219.56,468.07 L220.12,467.99 L220.68,467.91 L221.23,467.84 L221.79,467.76 L222.35,467.68" stroke="#fde725" stroke-width="1.15" fill="none"/>
<path d="M105.17,411.4 L105.76,410.16 L106.34,408.93 L106.93,407.69 L107.51,406.46 L108.1,405.23 L108.69,403.99 L109.27,402.76 L109.86,401.52 L110.44,400.28 L111.03,399.05 L111.61,397.81 L112.2,396.58 L112.79,395.34 L113.37,394.11 L113.96,392.87 L114.54,391.64 L115.13,390.4 L115.72,389.16 L116.3,387.93 L116.89,386.69" stroke="#481a6c" stroke-width="4.6" fill="none" stroke-linecap="round" stroke-linejoin="round" stroke-opacity="0.95"/>
<path d="M105.17,414.74 L105.73,413.67 L106.29,412.61 L106.84,411.55 L107.4,410.49 L107.96,409.44 L108.52,408.38 L109.08,407.33 L109.63,406.28 L110.19,405.23 L110.75,404.19 L111.31,403.14 L111.87,402.1 L112.42,401.06 L112.98,400.02 L113.54,398.99 L114.1,397.95 L114.66,396.92 L115.21,395.89 L115.77,394.86 L116.33,393.84" stroke="#414487" stroke-width="4.6" fill="none" stroke-linecap="round" stroke-linejoin="round" stroke-opacity="0.95"/>
<path d="M105.17,418.77 L105.76,417.79 L106.34,416.81 L106.93,415.83 L107.51,414.86 L108.1,413.89 L108.69,412.92 L109.27,411.96 L109.86,411 L110.44,410.05 L111.03,409.1 L111.61,408.16 L112.2,407.22 L112.79,406.29 L113.37,405.35 L113.96,404.43 L114.54,403.51 L115.13,402.59 L115.72,401.67 L116.3,400.76 L116.89,399.86" stroke="#375a8c" stroke-width="4.6" fill="none" stroke-linecap="round" stroke-linejoin="round" stroke-opacity="0.95"/>
<path d="M107.4,425.25 L107.96,424.58 L108.52,423.92 L109.08,423.27 L109.63,422.62 L110.19,421.98 L110.75,421.34 L111.31,420.71 L111.87,420.08 L112.42,419.46 L112.98,418.85 L113.54,418.24 L114.1,417.64 L114.66,417.04 L115.21,416.45 L115.77,415.86 L116.33,415.28 L116.89,414.7 L117.45,414.13 L118,413.56 L118.56,413" stroke="#2a788e" stroke-width="4.6" fill="none" stroke-linecap="round" stroke-linejoin="round" stroke-opacity="0.95"/>
<path d="M107.96,434.49 L108.63,433.94 L109.3,433.39 L109.97,432.85 L110.64,432.32 L111.31,431.79 L111.98,431.27 L112.65,430.77 L113.32,430.26 L113.99,429.77 L114.66,429.28 L115.33,428.8 L116,428.33 L116.66,427.86 L117.33,427.4 L118,426.95 L118.67,426.5 L119.34,426.06 L120.01,425.63 L120.68,425.2 L121.35,424.77" stroke="#228b8d" stroke-width="4.6" fill="none" stroke-linecap="round" stroke-linejoin="round" stroke-opacity="0.95"/>
<path d="M114.93,452.42 L116.12,452.05 L117.31,451.69 L118.49,451.34 L119.68,450.99 L120.86,450.66 L122.05,450.33 L123.24,450.01 L124.42,449.69 L125.61,449.38 L126.79,449.08 L127.98,448.78 L129.16,448.49 L130.35,448.2 L131.54,447.92 L132.72,447.64 L133.91,447.37 L135.09,447.1 L136.28,446.83 L137.46,446.57 L138.65,446.31" stroke="#1e9c89" stroke-width="4.6" fill="none" stroke-linecap="round" stroke-linejoin="round" stroke-opacity="0.95"/>
<path d="M123.31,459.93 L124.91,459.61 L126.51,459.29 L128.12,458.98 L129.72,458.68 L131.33,458.37 L132.93,458.08 L134.53,457.79 L136.14,457.5 L137.74,457.21 L139.35,456.93 L140.95,456.65 L142.56,456.37 L144.16,456.1 L145.76,455.83 L147.37,455.56 L148.97,455.29 L150.58,455.03 L152.18,454.76 L153.79,454.5 L155.39,454.24" stroke="#26ad81" stroke-width="4.6" fill="none" stroke-linecap="round" stroke-linejoin="round" stroke-opacity="0.95"/>
<path d="M133.07,464.88 L135.72,464.45 L138.37,464.02 L141.02,463.59 L143.67,463.17 L146.32,462.75 L148.97,462.34 L151.62,461.93 L154.27,461.52 L156.92,461.11 L159.57,460.71 L162.23,460.3 L164.88,459.9 L167.53,459.5 L170.18,459.11 L172.83,458.71 L175.48,458.31 L178.13,457.92 L180.78,457.53 L183.43,457.14 L186.08,456.74" stroke="#3fbc73" stroke-width="4.6" fill="none" stroke-linecap="round" stroke-linejoin="round" stroke-opacity="0.95"/>
<path d="M160.97,467.39 L163.06,467.11 L165.16,466.83 L167.25,466.55 L169.34,466.27 L171.43,465.99 L173.53,465.72 L175.62,465.44 L177.71,465.16 L179.8,464.89 L181.89,464.61 L183.99,464.34 L186.08,464.06 L188.17,463.79 L190.26,463.51 L192.36,463.24 L194.45,462.96 L196.54,462.69 L198.63,462.42 L200.73,462.14 L202.82,461.87" stroke="#7ad151" stroke-width="4.6" fill="none" stroke-linecap="round" stroke-linejoin="round" stroke-opacity="0.95"/>
<path d="M177.71,468.86 L179.8,468.59 L181.9,468.31 L183.99,468.04 L186.08,467.77 L188.17,467.5 L190.27,467.22 L192.36,466.95 L194.45,466.68 L196.54,466.41 L198.63,466.14 L200.73,465.87 L202.82,465.59 L204.91,465.32 L207,465.05 L209.1,464.78 L211.19,464.51 L213.28,464.24 L215.38,463.97 L217.47,463.7 L219.56,463.43" stroke="#bddf26" stroke-width="4.6" fill="none" stroke-linecap="round" stroke-linejoin="round" stroke-opacity="0.95"/>
<path d="M188.87,472.41 L190.54,472.18 L192.22,471.94 L193.89,471.7 L195.57,471.47 L197.24,471.23 L198.91,470.99 L200.59,470.76 L202.26,470.52 L203.94,470.28 L205.61,470.05 L207.28,469.81 L208.96,469.57 L210.63,469.34 L212.31,469.1 L213.98,468.86 L215.65,468.62 L217.33,468.39 L219,468.15 L220.68,467.91 L222.35,467.68" stroke="#fde725" stroke-width="4.6" fill="none" stroke-linecap="round" stroke-linejoin="round" stroke-opacity="0.95"/>
<path d="M112.8,394.2 L112.2,401 L111.3,408.3 L111.9,419.8 L114,429.5 L125.9,447.7 L138.3,456.3 L156,461.4 L183,465.8 L201.3,466.9 L215.3,469" stroke="#ff1010" stroke-width="1.1" fill="none" stroke-dasharray="3 1.8"/>
<circle cx="112.8" cy="394.2" r="2.3" fill="#ff0000" stroke="none" stroke-width="0.5"/>
<circle cx="112.2" cy="401" r="2.3" fill="#ff0000" stroke="none" stroke-width="0.5"/>
<circle cx="111.3" cy="408.3" r="2.3" fill="#ff0000" stroke="none" stroke-width="0.5"/>
<circle cx="111.9" cy="419.8" r="2.3" fill="#ff0000" stroke="none" stroke-width="0.5"/>
<circle cx="114" cy="429.5" r="2.3" fill="#ff0000" stroke="none" stroke-width="0.5"/>
<circle cx="125.9" cy="447.7" r="2.3" fill="#ff0000" stroke="none" stroke-width="0.5"/>
<circle cx="138.3" cy="456.3" r="2.3" fill="#ff0000" stroke="none" stroke-width="0.5"/>
<circle cx="156" cy="461.4" r="2.3" fill="#ff0000" stroke="none" stroke-width="0.5"/>
<circle cx="183" cy="465.8" r="2.3" fill="#ff0000" stroke="none" stroke-width="0.5"/>
<circle cx="201.3" cy="466.9" r="2.3" fill="#ff0000" stroke="none" stroke-width="0.5"/>
<circle cx="215.3" cy="469" r="2.3" fill="#ff0000" stroke="none" stroke-width="0.5"/>
<rect x="40.5" y="357.5" width="182" height="140" fill="none" stroke="#3c3c3c" stroke-width="1.0"/>
<line x1="38.3" y1="497.5" x2="40.5" y2="497.5" stroke="#3c3c3c" stroke-width="0.9"/>
<text x="34.5" y="500.37" font-size="8.3" text-anchor="end" fill="#2a2a2a" stroke="#2a2a2a" stroke-width="0.18">0</text>
<line x1="38.3" y1="477.5" x2="40.5" y2="477.5" stroke="#3c3c3c" stroke-width="0.9"/>
<text x="34.5" y="480.47" font-size="8.3" text-anchor="end" fill="#2a2a2a" stroke="#2a2a2a" stroke-width="0.18">0.05</text>
<line x1="38.3" y1="458.5" x2="40.5" y2="458.5" stroke="#3c3c3c" stroke-width="0.9"/>
<text x="34.5" y="460.57" font-size="8.3" text-anchor="end" fill="#2a2a2a" stroke="#2a2a2a" stroke-width="0.18">0.10</text>
<line x1="38.3" y1="438.5" x2="40.5" y2="438.5" stroke="#3c3c3c" stroke-width="0.9"/>
<text x="34.5" y="440.67" font-size="8.3" text-anchor="end" fill="#2a2a2a" stroke="#2a2a2a" stroke-width="0.18">0.15</text>
<line x1="38.3" y1="418.5" x2="40.5" y2="418.5" stroke="#3c3c3c" stroke-width="0.9"/>
<text x="34.5" y="420.77" font-size="8.3" text-anchor="end" fill="#2a2a2a" stroke="#2a2a2a" stroke-width="0.18">0.20</text>
<line x1="38.3" y1="398.5" x2="40.5" y2="398.5" stroke="#3c3c3c" stroke-width="0.9"/>
<text x="34.5" y="400.87" font-size="8.3" text-anchor="end" fill="#2a2a2a" stroke="#2a2a2a" stroke-width="0.18">0.25</text>
<line x1="38.3" y1="378.5" x2="40.5" y2="378.5" stroke="#3c3c3c" stroke-width="0.9"/>
<text x="34.5" y="380.97" font-size="8.3" text-anchor="end" fill="#2a2a2a" stroke="#2a2a2a" stroke-width="0.18">0.30</text>
<line x1="38.3" y1="358.5" x2="40.5" y2="358.5" stroke="#3c3c3c" stroke-width="0.9"/>
<text x="34.5" y="361.07" font-size="8.3" text-anchor="end" fill="#2a2a2a" stroke="#2a2a2a" stroke-width="0.18">0.35</text>
<line x1="41.5" y1="497.5" x2="41.5" y2="500" stroke="#3c3c3c" stroke-width="0.9"/>
<text x="41" y="507.78" font-size="8.3" text-anchor="middle" fill="#2a2a2a" stroke="#2a2a2a" stroke-width="0.18">0</text>
<line x1="68.5" y1="497.5" x2="68.5" y2="500" stroke="#3c3c3c" stroke-width="0.9"/>
<text x="68.9" y="507.78" font-size="8.3" text-anchor="middle" fill="#2a2a2a" stroke="#2a2a2a" stroke-width="0.18">1</text>
<line x1="96.5" y1="497.5" x2="96.5" y2="500" stroke="#3c3c3c" stroke-width="0.9"/>
<text x="96.8" y="507.78" font-size="8.3" text-anchor="middle" fill="#2a2a2a" stroke="#2a2a2a" stroke-width="0.18">2</text>
<line x1="124.5" y1="497.5" x2="124.5" y2="500" stroke="#3c3c3c" stroke-width="0.9"/>
<text x="124.7" y="507.78" font-size="8.3" text-anchor="middle" fill="#2a2a2a" stroke="#2a2a2a" stroke-width="0.18">3</text>
<line x1="152.5" y1="497.5" x2="152.5" y2="500" stroke="#3c3c3c" stroke-width="0.9"/>
<text x="152.6" y="507.78" font-size="8.3" text-anchor="middle" fill="#2a2a2a" stroke="#2a2a2a" stroke-width="0.18">4</text>
<line x1="180.5" y1="497.5" x2="180.5" y2="500" stroke="#3c3c3c" stroke-width="0.9"/>
<text x="180.5" y="507.78" font-size="8.3" text-anchor="middle" fill="#2a2a2a" stroke="#2a2a2a" stroke-width="0.18">5</text>
<line x1="208.5" y1="497.5" x2="208.5" y2="500" stroke="#3c3c3c" stroke-width="0.9"/>
<text x="208.4" y="507.78" font-size="8.3" text-anchor="middle" fill="#2a2a2a" stroke="#2a2a2a" stroke-width="0.18">6</text>
<text x="131.3" y="523.8" font-size="8.8" text-anchor="middle" fill="#2a2a2a" stroke="#2a2a2a" stroke-width="0.18">Strain</text>
<text x="10.1" y="430" font-size="8.8" text-anchor="middle" fill="#2a2a2a" stroke="#2a2a2a" stroke-width="0.18" transform="rotate(-90 10.1 430)"><tspan font-style="italic">Γ</tspan> (N m<tspan font-size="6" baseline-shift="3.72">-1</tspan>)</text>
<line x1="41" y1="386.4" x2="46.1" y2="386.4" stroke="#888" stroke-width="0.7"/>
<line x1="46.1" y1="364" x2="46.1" y2="410.51" stroke="#111" stroke-width="0.7"/>
<line x1="79.68" y1="364" x2="79.68" y2="410.51" stroke="#111" stroke-width="0.7"/>
<line x1="41.83" y1="387.62" x2="46.1" y2="387.62" stroke="#111" stroke-width="0.7"/>
<line x1="79.68" y1="388.16" x2="84.42" y2="388.16" stroke="#111" stroke-width="0.7"/>
<path d="M46.1,364 L60.18,364 L60.18,364 L60.8,362.43 L62.04,365.57 L63.28,362.43 L64.53,365.57 L65.77,362.43 L67.01,365.57 L67.63,364 L79.68,364" stroke="#111" stroke-width="0.7" fill="none"/>
<line x1="46.1" y1="372.09" x2="50.23" y2="372.09" stroke="#111" stroke-width="0.7"/>
<path d="M53.82,369.28 L50.23,369.28 L50.23,374.9 L53.82,374.9" stroke="#111" stroke-width="0.7" fill="none"/>
<line x1="51.79" y1="369.85" x2="51.79" y2="374.34" stroke="#111" stroke-width="0.7"/>
<path d="M51.79,372.09 L56.39,372.09 L56.39,372.09 L56.92,370.7 L57.96,373.48 L59.01,370.7 L60.06,373.48 L61.11,370.7 L62.16,373.48 L62.69,372.09" stroke="#111" stroke-width="0.7" fill="none"/>
<path d="M62.62,372.09 C63.03,372.09 64.54,372.03 65.05,372.09 C65.56,372.15 65.54,372.12 65.68,372.46 C65.82,372.79 65.66,373.65 65.89,374.09 C66.13,374.52 66.7,374.96 67.11,375.05 C67.52,375.14 67.94,375.06 68.35,374.63 C68.77,374.2 69.2,373.18 69.6,372.46 C70,371.73 70.27,370.77 70.78,370.28 C71.29,369.79 72.07,369.5 72.65,369.5 C73.23,369.5 73.9,369.85 74.27,370.28 C74.65,370.71 74.72,371.79 74.89,372.09 C75.07,372.4 75.26,372.09 75.33,372.09" stroke="#111" stroke-width="0.7" fill="none"/>
<line x1="75.33" y1="372.09" x2="79.68" y2="372.09" stroke="#111" stroke-width="0.7"/>
<line x1="46.1" y1="381.76" x2="50.23" y2="381.76" stroke="#111" stroke-width="0.7"/>
<path d="M53.82,378.95 L50.23,378.95 L50.23,384.57 L53.82,384.57" stroke="#111" stroke-width="0.7" fill="none"/>
<line x1="51.79" y1="379.51" x2="51.79" y2="384" stroke="#111" stroke-width="0.7"/>
<path d="M51.79,381.76 L56.39,381.76 L56.39,381.76 L56.92,380.37 L57.96,383.15 L59.01,380.37 L60.06,383.15 L61.11,380.37 L62.16,383.15 L62.69,381.76" stroke="#111" stroke-width="0.7" fill="none"/>
<path d="M62.81,381.76 C63.32,381.76 65.62,381.75 65.89,381.8 C66.17,381.85 64.77,381.78 64.46,382.08 C64.16,382.37 63.82,383.02 64.06,383.57 C64.3,384.12 65.25,385.38 65.89,385.38 C66.54,385.38 67.37,384.44 67.92,383.57 C68.46,382.7 68.72,380.94 69.16,380.19 C69.61,379.43 70.15,379.07 70.6,379.04 C71.04,379.01 71.61,379.58 71.84,380.01 C72.07,380.43 72.1,380.91 71.97,381.58 C71.83,382.24 71.16,383.38 71.03,383.99 C70.91,384.61 70.95,385.05 71.22,385.26 C71.49,385.47 72.21,385.54 72.65,385.26 C73.1,384.98 73.56,384.12 73.9,383.57 C74.24,383.02 74.47,382.23 74.71,381.94 C74.95,381.65 75.23,381.84 75.33,381.82" stroke="#111" stroke-width="0.7" fill="none"/>
<line x1="75.33" y1="381.76" x2="79.68" y2="381.76" stroke="#111" stroke-width="0.7"/>
<line x1="46.1" y1="391.48" x2="50.23" y2="391.48" stroke="#111" stroke-width="0.7"/>
<path d="M53.82,388.67 L50.23,388.67 L50.23,394.29 L53.82,394.29" stroke="#111" stroke-width="0.7" fill="none"/>
<line x1="51.79" y1="389.24" x2="51.79" y2="393.73" stroke="#111" stroke-width="0.7"/>
<path d="M51.79,391.48 L56.39,391.48 L56.39,391.48 L56.92,390.09 L57.96,392.87 L59.01,390.09 L60.06,392.87 L61.11,390.09 L62.16,392.87 L62.69,391.48" stroke="#111" stroke-width="0.7" fill="none"/>
<path d="M62.81,391.48 C63.17,391.48 64.75,391.35 64.99,391.48 C65.23,391.61 64.33,391.79 64.24,392.27 C64.16,392.74 64.22,393.88 64.49,394.32 C64.77,394.76 65.46,395.06 65.89,394.92 C66.33,394.79 66.8,394.29 67.11,393.54 C67.41,392.78 67.46,391.17 67.73,390.39 C68.01,389.62 68.35,389.1 68.76,388.88 C69.17,388.67 69.89,388.84 70.19,389.13 C70.5,389.41 70.74,389.9 70.6,390.58 C70.46,391.25 69.59,392.51 69.35,393.17 C69.11,393.84 69.02,394.22 69.16,394.56 C69.3,394.9 69.82,395.23 70.19,395.23 C70.57,395.23 71.1,395.18 71.41,394.56 C71.71,393.95 71.82,392.41 72.03,391.54 C72.24,390.68 72.38,389.83 72.65,389.37 C72.92,388.9 73.29,388.76 73.65,388.76 C74.01,388.76 74.61,388.91 74.83,389.37 C75.05,389.82 74.84,391.13 74.96,391.48 C75.07,391.83 75.42,391.48 75.52,391.48" stroke="#111" stroke-width="0.7" fill="none"/>
<line x1="75.52" y1="391.48" x2="79.68" y2="391.48" stroke="#111" stroke-width="0.7"/>
<line x1="46.1" y1="410.51" x2="50.23" y2="410.51" stroke="#111" stroke-width="0.7"/>
<path d="M53.82,407.7 L50.23,407.7 L50.23,413.32 L53.82,413.32" stroke="#111" stroke-width="0.7" fill="none"/>
<line x1="51.79" y1="408.26" x2="51.79" y2="412.75" stroke="#111" stroke-width="0.7"/>
<path d="M51.79,410.51 L56.39,410.51 L56.39,410.51 L56.92,409.12 L57.96,411.9 L59.01,409.12 L60.06,411.9 L61.11,409.12 L62.16,411.9 L62.69,410.51" stroke="#111" stroke-width="0.7" fill="none"/>
<path d="M62.69,410.51 L64.49,410.69 L65.8,412.98 L66.31,412.92 L66.8,412.74 L67.24,412.44 L67.62,412.05 L67.92,411.58 L68.14,411.06 L68.26,410.51 L68.27,409.96 L68.2,409.43 L68.03,408.96 L67.78,408.57 L67.47,408.28 L67.12,408.09 L66.75,408.03 L66.38,408.09 L66.03,408.28 L65.72,408.57 L65.47,408.96 L65.3,409.43 L65.23,409.96 L65.24,410.51 L65.36,411.06 L65.58,411.58 L65.88,412.05 L66.26,412.44 L66.71,412.74 L67.19,412.92 L67.7,412.98 L68.21,412.92 L68.7,412.74 L69.14,412.44 L69.52,412.05 L69.82,411.58 L70.04,411.06 L70.16,410.51 L70.17,409.96 L70.1,409.43 L69.93,408.96 L69.68,408.57 L69.37,408.28 L69.02,408.09 L68.65,408.03 L68.28,408.09 L67.93,408.28 L67.62,408.57 L67.37,408.96 L67.2,409.43 L67.13,409.96 L67.14,410.51 L67.26,411.06 L67.48,411.58 L67.78,412.05 L68.16,412.44 L68.6,412.74 L69.09,412.92 L69.6,412.98 L70.11,412.92 L70.6,412.74 L71.04,412.44 L71.42,412.05 L71.72,411.58 L71.94,411.06 L72.06,410.51 L72.07,409.96 L72,409.43 L71.83,408.96 L71.58,408.57 L71.27,408.28 L70.92,408.09 L70.55,408.03 L70.18,408.09 L69.83,408.28 L69.52,408.57 L69.27,408.96 L69.1,409.43 L69.03,409.96 L69.04,410.51 L69.16,411.06 L69.38,411.58 L69.68,412.05 L70.06,412.44 L70.5,412.74 L70.99,412.92 L71.5,412.98 L72.01,412.92 L72.49,412.74 L72.94,412.44 L73.32,412.05 L73.62,411.58 L73.84,411.06 L73.96,410.51 L73.97,409.96 L73.9,409.43 L73.73,408.96 L73.48,408.57 L73.17,408.28 L72.82,408.09 L72.45,408.03 L72.08,408.09 L71.73,408.28 L71.42,408.57 L71.17,408.96 L71,409.43 L70.93,409.96 L70.94,410.51 L71.06,411.06 L71.28,411.58 L71.58,412.05 L71.96,412.44 L72.4,412.74 L72.89,412.92 L73.4,412.98 L74.62,410.51" stroke="#111" stroke-width="0.7" fill="none"/>
<line x1="74.62" y1="410.51" x2="79.68" y2="410.51" stroke="#111" stroke-width="0.7"/>
<circle cx="60.05" cy="401.03" r="0.75" fill="#111" stroke="none" stroke-width="0.5"/>
<circle cx="64.72" cy="401.03" r="0.75" fill="#111" stroke="none" stroke-width="0.5"/>
<circle cx="69.39" cy="401.03" r="0.75" fill="#111" stroke="none" stroke-width="0.5"/>
<path d="M85,375.4 L83.8,376 L83.8,397.4 L85,398" stroke="#ff8ad8" stroke-width="0.9" fill="none"/>
<path d="M103.8,375.4 L105,376 L105,397.4 L103.8,398" stroke="#ff8ad8" stroke-width="0.9" fill="none"/>
<path d="M83.8,378.79 L85.57,378.79 L86.56,380.47 L88.55,377.11 L90.54,380.47 L92.52,377.11 L94.51,380.47 L96.5,377.11 L97.49,378.79 L100.58,378.79" stroke="#ff1a1a" stroke-width="0.6" fill="none"/>
<line x1="100.58" y1="378.79" x2="105" y2="378.79" stroke="#ff1a1a" stroke-width="0.6"/>
<circle cx="100.58" cy="378.79" r="1.63" fill="#ff0000" stroke="none" stroke-width="0.5"/>
<path d="M83.8,386.7 L85.79,386.7 L86.28,385.24 L87.28,388.16 L88.27,385.24 L89.27,388.16 L90.26,385.24 L91.25,388.16 L91.75,386.7 L94.13,386.7" stroke="#1a1aff" stroke-width="0.6" fill="none"/>
<circle cx="94.13" cy="386.7" r="1.5" fill="#0000ff" stroke="none" stroke-width="0.5"/>
<path d="M100.58,384.84 A1.58,1.86 0 0 1 100.58,388.56" stroke="#1a1aff" stroke-width="0.6" fill="none"/>
<line x1="102.16" y1="386.7" x2="105" y2="386.7" stroke="#1a1aff" stroke-width="0.6"/>
<path d="M83.8,394.61 L85.57,394.61 L86.56,396.29 L88.55,392.93 L90.54,396.29 L92.52,392.93 L94.51,396.29 L96.5,392.93 L97.49,394.61 L100.58,394.61" stroke="#ff1a1a" stroke-width="0.6" fill="none"/>
<line x1="100.58" y1="394.61" x2="105" y2="394.61" stroke="#ff1a1a" stroke-width="0.6"/>
<circle cx="100.58" cy="394.61" r="1.63" fill="#ff0000" stroke="none" stroke-width="0.5"/>
<text x="236.2" y="359.6" font-size="12" font-weight="bold" fill="#000">i</text>
<path d="M271,496.39 L271.45,496.38 L271.91,496.37 L272.36,496.35 L272.81,496.34 L273.26,496.33 L273.72,496.32 L274.17,496.31 L274.62,496.29 L275.08,496.28 L275.53,496.27 L275.98,496.25 L276.44,496.24 L276.89,496.22 L277.34,496.2 L277.8,496.19 L278.25,496.17 L278.7,496.15 L279.15,496.14 L279.61,496.12 L280.06,496.1 L280.51,496.08 L280.97,496.06 L281.42,496.03 L281.87,496.01 L282.32,495.99 L282.78,495.97 L283.23,495.94 L283.68,495.91 L284.14,495.89 L284.59,495.86 L285.04,495.83 L285.5,495.8 L285.95,495.77 L286.4,495.74 L286.86,495.71 L287.31,495.67 L287.76,495.64 L288.21,495.6 L288.67,495.56 L289.12,495.52 L289.57,495.48 L290.03,495.43 L290.48,495.39 L290.93,495.34 L291.38,495.29 L291.84,495.24 L292.29,495.18 L292.74,495.13 L293.2,495.07 L293.65,495.01 L294.1,494.94 L294.56,494.88 L295.01,494.81 L295.46,494.73 L295.92,494.66 L296.37,494.58 L296.82,494.49 L297.27,494.4 L297.73,494.31 L298.18,494.21 L298.63,494.11 L299.09,494 L299.54,493.89 L299.99,493.77 L300.44,493.65 L300.9,493.52 L301.35,493.38 L301.8,493.24 L302.26,493.09 L302.71,492.93 L303.16,492.76 L303.62,492.58 L304.07,492.39 L304.52,492.2 L304.98,491.99 L305.43,491.77 L305.88,491.54 L306.33,491.29 L306.79,491.03 L307.24,490.76 L307.69,490.47 L308.15,490.16 L308.6,489.84 L309.05,489.49 L309.5,489.13 L309.96,488.75 L310.41,488.34 L310.86,487.91 L311.32,487.45 L311.77,486.97 L312.22,486.46 L312.68,485.92 L313.13,485.35 L313.58,484.75 L314.03,484.12 L314.49,483.44 L314.94,482.73 L315.39,481.98 L315.85,481.19 L316.3,480.36 L316.75,479.48 L317.21,478.56 L317.66,477.59 L318.11,476.57 L318.56,475.5 L319.02,474.37 L319.47,473.19 L319.92,471.96 L320.38,470.67 L320.83,469.33 L321.28,467.92 L321.74,466.46 L322.19,464.93 L322.64,463.34 L323.09,461.7 L323.55,459.98 L324,458.21 L324.45,456.37 L324.91,454.47 L325.36,452.5 L325.81,450.47 L326.27,448.38 L326.72,446.21 L327.17,443.99 L327.62,441.69 L328.08,439.33 L328.53,436.9 L328.98,434.4 L329.44,431.84 L329.89,429.21 L330.34,426.51 L330.8,423.73 L331.25,420.89 L331.7,417.98 L332.15,414.99 L332.61,411.93 L333.06,408.8 L333.51,405.59 L333.97,402.3 L334.42,398.94 L334.87,395.5 L335.33,391.97 L335.78,388.37 L336.23,384.68 L336.69,380.91 L337.14,377.05 L337.59,373.1 L338.04,369.06 L338.5,364.93 L338.95,360.71 L339.19,358.4" stroke="#481a6c" stroke-width="1.15" fill="none"/>
<path d="M271,496.52 L271.45,496.51 L271.91,496.5 L272.36,496.5 L272.81,496.49 L273.26,496.48 L273.72,496.47 L274.17,496.47 L274.62,496.46 L275.08,496.45 L275.53,496.44 L275.98,496.43 L276.44,496.42 L276.89,496.41 L277.34,496.4 L277.8,496.39 L278.25,496.38 L278.7,496.37 L279.15,496.36 L279.61,496.35 L280.06,496.34 L280.51,496.32 L280.97,496.31 L281.42,496.3 L281.87,496.29 L282.32,496.27 L282.78,496.26 L283.23,496.24 L283.68,496.23 L284.14,496.21 L284.59,496.2 L285.04,496.18 L285.5,496.16 L285.95,496.14 L286.4,496.13 L286.86,496.11 L287.31,496.09 L287.76,496.07 L288.21,496.05 L288.67,496.02 L289.12,496 L289.57,495.98 L290.03,495.95 L290.48,495.93 L290.93,495.9 L291.38,495.87 L291.84,495.85 L292.29,495.82 L292.74,495.79 L293.2,495.76 L293.65,495.72 L294.1,495.69 L294.56,495.65 L295.01,495.62 L295.46,495.58 L295.92,495.54 L296.37,495.5 L296.82,495.45 L297.27,495.41 L297.73,495.36 L298.18,495.31 L298.63,495.26 L299.09,495.21 L299.54,495.16 L299.99,495.1 L300.44,495.04 L300.9,494.98 L301.35,494.91 L301.8,494.84 L302.26,494.77 L302.71,494.69 L303.16,494.62 L303.62,494.53 L304.07,494.45 L304.52,494.36 L304.98,494.26 L305.43,494.16 L305.88,494.06 L306.33,493.95 L306.79,493.83 L307.24,493.71 L307.69,493.59 L308.15,493.45 L308.6,493.31 L309.05,493.17 L309.5,493.01 L309.96,492.85 L310.41,492.67 L310.86,492.49 L311.32,492.3 L311.77,492.1 L312.22,491.88 L312.68,491.66 L313.13,491.42 L313.58,491.17 L314.03,490.9 L314.49,490.62 L314.94,490.32 L315.39,490.01 L315.85,489.67 L316.3,489.32 L316.75,488.95 L317.21,488.55 L317.66,488.14 L318.11,487.7 L318.56,487.23 L319.02,486.74 L319.47,486.22 L319.92,485.66 L320.38,485.08 L320.83,484.46 L321.28,483.81 L321.74,483.13 L322.19,482.4 L322.64,481.64 L323.09,480.83 L323.55,479.99 L324,479.09 L324.45,478.16 L324.91,477.17 L325.36,476.14 L325.81,475.06 L326.27,473.92 L326.72,472.73 L327.17,471.49 L327.62,470.2 L328.08,468.85 L328.53,467.44 L328.98,465.98 L329.44,464.46 L329.89,462.88 L330.34,461.25 L330.8,459.55 L331.25,457.8 L331.7,455.99 L332.15,454.13 L332.61,452.2 L333.06,450.22 L333.51,448.18 L333.97,446.08 L334.42,443.93 L334.87,441.72 L335.33,439.46 L335.78,437.13 L336.23,434.76 L336.69,432.32 L337.14,429.84 L337.59,427.3 L338.04,424.7 L338.5,422.05 L338.95,419.35 L339.4,416.59 L339.86,413.78 L340.31,410.92 L340.76,408.01 L341.22,405.04 L341.67,402.02 L342.12,398.95 L342.57,395.82 L343.03,392.65 L343.48,389.42 L343.93,386.14 L344.39,382.81 L344.84,379.43 L345.29,376 L345.75,372.52 L346.2,368.99 L346.65,365.41 L347.1,361.78 L347.52,358.4" stroke="#414487" stroke-width="1.15" fill="none"/>
<path d="M271,496.6 L271.45,496.59 L271.91,496.59 L272.36,496.58 L272.81,496.58 L273.26,496.57 L273.72,496.57 L274.17,496.56 L274.62,496.56 L275.08,496.55 L275.53,496.55 L275.98,496.54 L276.44,496.53 L276.89,496.53 L277.34,496.52 L277.8,496.51 L278.25,496.51 L278.7,496.5 L279.15,496.49 L279.61,496.49 L280.06,496.48 L280.51,496.47 L280.97,496.46 L281.42,496.45 L281.87,496.45 L282.32,496.44 L282.78,496.43 L283.23,496.42 L283.68,496.41 L284.14,496.4 L284.59,496.39 L285.04,496.38 L285.5,496.37 L285.95,496.36 L286.4,496.34 L286.86,496.33 L287.31,496.32 L287.76,496.31 L288.21,496.29 L288.67,496.28 L289.12,496.27 L289.57,496.25 L290.03,496.24 L290.48,496.22 L290.93,496.21 L291.38,496.19 L291.84,496.17 L292.29,496.16 L292.74,496.14 L293.2,496.12 L293.65,496.1 L294.1,496.08 L294.56,496.06 L295.01,496.04 L295.46,496.02 L295.92,495.99 L296.37,495.97 L296.82,495.94 L297.27,495.92 L297.73,495.89 L298.18,495.86 L298.63,495.84 L299.09,495.81 L299.54,495.78 L299.99,495.74 L300.44,495.71 L300.9,495.68 L301.35,495.64 L301.8,495.6 L302.26,495.56 L302.71,495.52 L303.16,495.48 L303.62,495.44 L304.07,495.39 L304.52,495.35 L304.98,495.3 L305.43,495.24 L305.88,495.19 L306.33,495.13 L306.79,495.08 L307.24,495.02 L307.69,494.95 L308.15,494.88 L308.6,494.81 L309.05,494.74 L309.5,494.67 L309.96,494.59 L310.41,494.5 L310.86,494.41 L311.32,494.32 L311.77,494.23 L312.22,494.13 L312.68,494.02 L313.13,493.91 L313.58,493.79 L314.03,493.67 L314.49,493.54 L314.94,493.4 L315.39,493.26 L315.85,493.11 L316.3,492.95 L316.75,492.78 L317.21,492.61 L317.66,492.42 L318.11,492.23 L318.56,492.02 L319.02,491.8 L319.47,491.57 L319.92,491.33 L320.38,491.07 L320.83,490.8 L321.28,490.51 L321.74,490.21 L322.19,489.89 L322.64,489.55 L323.09,489.19 L323.55,488.82 L324,488.41 L324.45,487.99 L324.91,487.54 L325.36,487.07 L325.81,486.57 L326.27,486.04 L326.72,485.48 L327.17,484.89 L327.62,484.26 L328.08,483.61 L328.53,482.91 L328.98,482.18 L329.44,481.41 L329.89,480.6 L330.34,479.74 L330.8,478.85 L331.25,477.9 L331.7,476.92 L332.15,475.88 L332.61,474.8 L333.06,473.67 L333.51,472.48 L333.97,471.25 L334.42,469.97 L334.87,468.63 L335.33,467.24 L335.78,465.8 L336.23,464.31 L336.69,462.76 L337.14,461.17 L337.59,459.52 L338.04,457.82 L338.5,456.07 L338.95,454.27 L339.4,452.42 L339.86,450.52 L340.31,448.58 L340.76,446.59 L341.22,444.55 L341.67,442.47 L342.12,440.35 L342.57,438.18 L343.03,435.97 L343.48,433.72 L343.93,431.44 L344.39,429.11 L344.84,426.75 L345.29,424.35 L345.75,421.92 L346.2,419.46 L346.65,416.96 L347.1,414.43 L347.56,411.87 L348.01,409.29 L348.46,406.67 L348.92,404.03 L349.37,401.36 L349.82,398.67 L350.27,395.96 L350.73,393.22 L351.18,390.46 L351.63,387.68 L352.09,384.89 L352.54,382.07 L352.99,379.24 L353.45,376.4 L353.9,373.54 L354.35,370.67 L354.81,367.79 L355.26,364.9 L355.71,362 L356.16,359.09 L356.27,358.4" stroke="#375a8c" stroke-width="1.15" fill="none"/>
<path d="M271,496.67 L271.45,496.67 L271.91,496.67 L272.36,496.66 L272.81,496.66 L273.26,496.66 L273.72,496.66 L274.17,496.65 L274.62,496.65 L275.08,496.65 L275.53,496.64 L275.98,496.64 L276.44,496.64 L276.89,496.63 L277.34,496.63 L277.8,496.63 L278.25,496.62 L278.7,496.62 L279.15,496.62 L279.61,496.61 L280.06,496.61 L280.51,496.6 L280.97,496.6 L281.42,496.59 L281.87,496.59 L282.32,496.58 L282.78,496.58 L283.23,496.57 L283.68,496.57 L284.14,496.56 L284.59,496.56 L285.04,496.55 L285.5,496.55 L285.95,496.54 L286.4,496.54 L286.86,496.53 L287.31,496.52 L287.76,496.52 L288.21,496.51 L288.67,496.5 L289.12,496.5 L289.57,496.49 L290.03,496.48 L290.48,496.47 L290.93,496.46 L291.38,496.46 L291.84,496.45 L292.29,496.44 L292.74,496.43 L293.2,496.42 L293.65,496.41 L294.1,496.4 L294.56,496.39 L295.01,496.38 L295.46,496.37 L295.92,496.36 L296.37,496.35 L296.82,496.34 L297.27,496.32 L297.73,496.31 L298.18,496.3 L298.63,496.28 L299.09,496.27 L299.54,496.26 L299.99,496.24 L300.44,496.23 L300.9,496.21 L301.35,496.19 L301.8,496.18 L302.26,496.16 L302.71,496.14 L303.16,496.12 L303.62,496.1 L304.07,496.08 L304.52,496.06 L304.98,496.04 L305.43,496.02 L305.88,496 L306.33,495.97 L306.79,495.95 L307.24,495.92 L307.69,495.9 L308.15,495.87 L308.6,495.84 L309.05,495.81 L309.5,495.78 L309.96,495.75 L310.41,495.72 L310.86,495.68 L311.32,495.65 L311.77,495.61 L312.22,495.57 L312.68,495.53 L313.13,495.49 L313.58,495.45 L314.03,495.4 L314.49,495.36 L314.94,495.31 L315.39,495.26 L315.85,495.2 L316.3,495.15 L316.75,495.09 L317.21,495.03 L317.66,494.97 L318.11,494.9 L318.56,494.83 L319.02,494.76 L319.47,494.68 L319.92,494.6 L320.38,494.52 L320.83,494.44 L321.28,494.34 L321.74,494.25 L322.19,494.15 L322.64,494.04 L323.09,493.93 L323.55,493.82 L324,493.7 L324.45,493.57 L324.91,493.44 L325.36,493.3 L325.81,493.15 L326.27,492.99 L326.72,492.83 L327.17,492.65 L327.62,492.47 L328.08,492.28 L328.53,492.07 L328.98,491.86 L329.44,491.63 L329.89,491.4 L330.34,491.14 L330.8,490.88 L331.25,490.6 L331.7,490.3 L332.15,489.99 L332.61,489.65 L333.06,489.3 L333.51,488.93 L333.97,488.54 L334.42,488.13 L334.87,487.69 L335.33,487.23 L335.78,486.74 L336.23,486.23 L336.69,485.69 L337.14,485.11 L337.59,484.51 L338.04,483.87 L338.5,483.2 L338.95,482.5 L339.4,481.76 L339.86,480.98 L340.31,480.16 L340.76,479.31 L341.22,478.41 L341.67,477.48 L342.12,476.5 L342.57,475.48 L343.03,474.41 L343.48,473.31 L343.93,472.16 L344.39,470.96 L344.84,469.73 L345.29,468.45 L345.75,467.13 L346.2,465.78 L346.65,464.38 L347.1,462.94 L347.56,461.47 L348.01,459.96 L348.46,458.42 L348.92,456.84 L349.37,455.24 L349.82,453.61 L350.27,451.95 L350.73,450.26 L351.18,448.55 L351.63,446.82 L352.09,445.08 L352.54,443.31 L352.99,441.53 L353.45,439.74 L353.9,437.93 L354.35,436.12 L354.81,434.3 L355.26,432.48 L355.71,430.64 L356.16,428.81 L356.62,426.98 L357.07,425.15 L357.52,423.32 L357.98,421.49 L358.43,419.67 L358.88,417.85 L359.33,416.04 L359.79,414.24 L360.24,412.45 L360.69,410.67 L361.15,408.91 L361.6,407.15 L362.05,405.41 L362.51,403.68 L362.96,401.97 L363.41,400.27 L363.87,398.59 L364.32,396.93 L364.77,395.29 L365.22,393.66 L365.68,392.05 L366.13,390.46 L366.58,388.89 L367.04,387.34 L367.49,385.8 L367.94,384.29 L368.39,382.8 L368.85,381.33 L369.3,379.88 L369.75,378.44 L370.21,377.03 L370.66,375.64 L371.11,374.27 L371.57,372.92 L372.02,371.58 L372.47,370.27 L372.93,368.97 L373.38,367.7 L373.83,366.44 L374.28,365.2 L374.74,363.98 L375.19,362.78 L375.64,361.59 L376.1,360.42 L376.55,359.26 L376.89,358.4" stroke="#2a788e" stroke-width="1.15" fill="none"/>
<path d="M271,496.71 L271.45,496.71 L271.91,496.71 L272.36,496.7 L272.81,496.7 L273.26,496.7 L273.72,496.7 L274.17,496.7 L274.62,496.69 L275.08,496.69 L275.53,496.69 L275.98,496.69 L276.44,496.69 L276.89,496.68 L277.34,496.68 L277.8,496.68 L278.25,496.68 L278.7,496.67 L279.15,496.67 L279.61,496.67 L280.06,496.67 L280.51,496.66 L280.97,496.66 L281.42,496.66 L281.87,496.66 L282.32,496.65 L282.78,496.65 L283.23,496.65 L283.68,496.64 L284.14,496.64 L284.59,496.64 L285.04,496.63 L285.5,496.63 L285.95,496.63 L286.4,496.62 L286.86,496.62 L287.31,496.61 L287.76,496.61 L288.21,496.61 L288.67,496.6 L289.12,496.6 L289.57,496.59 L290.03,496.59 L290.48,496.58 L290.93,496.58 L291.38,496.57 L291.84,496.57 L292.29,496.56 L292.74,496.56 L293.2,496.55 L293.65,496.55 L294.1,496.54 L294.56,496.53 L295.01,496.53 L295.46,496.52 L295.92,496.51 L296.37,496.51 L296.82,496.5 L297.27,496.49 L297.73,496.49 L298.18,496.48 L298.63,496.47 L299.09,496.46 L299.54,496.45 L299.99,496.44 L300.44,496.44 L300.9,496.43 L301.35,496.42 L301.8,496.41 L302.26,496.4 L302.71,496.39 L303.16,496.38 L303.62,496.37 L304.07,496.35 L304.52,496.34 L304.98,496.33 L305.43,496.32 L305.88,496.31 L306.33,496.29 L306.79,496.28 L307.24,496.27 L307.69,496.25 L308.15,496.24 L308.6,496.22 L309.05,496.2 L309.5,496.19 L309.96,496.17 L310.41,496.15 L310.86,496.14 L311.32,496.12 L311.77,496.1 L312.22,496.08 L312.68,496.06 L313.13,496.03 L313.58,496.01 L314.03,495.99 L314.49,495.97 L314.94,495.94 L315.39,495.91 L315.85,495.89 L316.3,495.86 L316.75,495.83 L317.21,495.8 L317.66,495.77 L318.11,495.74 L318.56,495.71 L319.02,495.67 L319.47,495.64 L319.92,495.6 L320.38,495.56 L320.83,495.52 L321.28,495.48 L321.74,495.43 L322.19,495.39 L322.64,495.34 L323.09,495.29 L323.55,495.24 L324,495.18 L324.45,495.13 L324.91,495.07 L325.36,495.01 L325.81,494.94 L326.27,494.88 L326.72,494.81 L327.17,494.73 L327.62,494.66 L328.08,494.58 L328.53,494.49 L328.98,494.41 L329.44,494.31 L329.89,494.22 L330.34,494.12 L330.8,494.01 L331.25,493.9 L331.7,493.78 L332.15,493.66 L332.61,493.53 L333.06,493.39 L333.51,493.25 L333.97,493.1 L334.42,492.94 L334.87,492.78 L335.33,492.6 L335.78,492.41 L336.23,492.22 L336.69,492.01 L337.14,491.8 L337.59,491.57 L338.04,491.33 L338.5,491.07 L338.95,490.8 L339.4,490.52 L339.86,490.22 L340.31,489.91 L340.76,489.57 L341.22,489.22 L341.67,488.85 L342.12,488.46 L342.57,488.04 L343.03,487.61 L343.48,487.14 L343.93,486.66 L344.39,486.15 L344.84,485.61 L345.29,485.04 L345.75,484.44 L346.2,483.82 L346.65,483.16 L347.1,482.47 L347.56,481.74 L348.01,480.99 L348.46,480.2 L348.92,479.37 L349.37,478.51 L349.82,477.61 L350.27,476.68 L350.73,475.71 L351.18,474.7 L351.63,473.67 L352.09,472.59 L352.54,471.49 L352.99,470.35 L353.45,469.19 L353.9,467.99 L354.35,466.77 L354.81,465.52 L355.26,464.24 L355.71,462.95 L356.16,461.64 L356.62,460.3 L357.07,458.96 L357.52,457.6 L357.98,456.23 L358.43,454.85 L358.88,453.46 L359.33,452.07 L359.79,450.68 L360.24,449.28 L360.69,447.89 L361.15,446.5 L361.6,445.12 L362.05,443.74 L362.51,442.37 L362.96,441.01 L363.41,439.66 L363.87,438.32 L364.32,437 L364.77,435.69 L365.22,434.39 L365.68,433.11 L366.13,431.84 L366.58,430.59 L367.04,429.35 L367.49,428.13 L367.94,426.93 L368.39,425.75 L368.85,424.59 L369.3,423.44 L369.75,422.31 L370.21,421.19 L370.66,420.1 L371.11,419.02 L371.57,417.96 L372.02,416.91 L372.47,415.88 L372.93,414.87 L373.38,413.88 L373.83,412.9 L374.28,411.93 L374.74,410.98 L375.19,410.04 L375.64,409.12 L376.1,408.21 L376.55,407.32 L377,406.44 L377.45,405.57 L377.91,404.71 L378.36,403.86 L378.81,403.02 L379.27,402.2 L379.72,401.38 L380.17,400.57 L380.63,399.77 L381.08,398.98 L381.53,398.2 L381.99,397.42 L382.44,396.65 L382.89,395.88 L383.34,395.12 L383.8,394.36 L384.25,393.61 L384.7,392.86 L385.16,392.11 L385.61,391.37 L386.06,390.63 L386.51,389.89 L386.97,389.15 L387.42,388.41 L387.87,387.67 L388.33,386.92 L388.78,386.18 L389.23,385.44 L389.69,384.69 L390.14,383.94 L390.59,383.18 L391.04,382.42 L391.5,381.66 L391.95,380.89 L392.4,380.12 L392.86,379.34" stroke="#228b8d" stroke-width="1.15" fill="none"/>
<path d="M271,496.74 L271.45,496.74 L271.91,496.74 L272.36,496.74 L272.81,496.74 L273.26,496.74 L273.72,496.74 L274.17,496.74 L274.62,496.74 L275.08,496.74 L275.53,496.74 L275.98,496.73 L276.44,496.73 L276.89,496.73 L277.34,496.73 L277.8,496.73 L278.25,496.73 L278.7,496.73 L279.15,496.73 L279.61,496.73 L280.06,496.72 L280.51,496.72 L280.97,496.72 L281.42,496.72 L281.87,496.72 L282.32,496.72 L282.78,496.72 L283.23,496.72 L283.68,496.71 L284.14,496.71 L284.59,496.71 L285.04,496.71 L285.5,496.71 L285.95,496.71 L286.4,496.7 L286.86,496.7 L287.31,496.7 L287.76,496.7 L288.21,496.7 L288.67,496.69 L289.12,496.69 L289.57,496.69 L290.03,496.69 L290.48,496.69 L290.93,496.68 L291.38,496.68 L291.84,496.68 L292.29,496.68 L292.74,496.67 L293.2,496.67 L293.65,496.67 L294.1,496.67 L294.56,496.66 L295.01,496.66 L295.46,496.66 L295.92,496.65 L296.37,496.65 L296.82,496.65 L297.27,496.65 L297.73,496.64 L298.18,496.64 L298.63,496.63 L299.09,496.63 L299.54,496.63 L299.99,496.62 L300.44,496.62 L300.9,496.62 L301.35,496.61 L301.8,496.61 L302.26,496.6 L302.71,496.6 L303.16,496.59 L303.62,496.59 L304.07,496.59 L304.52,496.58 L304.98,496.58 L305.43,496.57 L305.88,496.56 L306.33,496.56 L306.79,496.55 L307.24,496.55 L307.69,496.54 L308.15,496.54 L308.6,496.53 L309.05,496.52 L309.5,496.52 L309.96,496.51 L310.41,496.5 L310.86,496.5 L311.32,496.49 L311.77,496.48 L312.22,496.47 L312.68,496.47 L313.13,496.46 L313.58,496.45 L314.03,496.44 L314.49,496.43 L314.94,496.42 L315.39,496.41 L315.85,496.4 L316.3,496.39 L316.75,496.38 L317.21,496.37 L317.66,496.36 L318.11,496.35 L318.56,496.34 L319.02,496.32 L319.47,496.31 L319.92,496.3 L320.38,496.28 L320.83,496.27 L321.28,496.26 L321.74,496.24 L322.19,496.23 L322.64,496.21 L323.09,496.19 L323.55,496.18 L324,496.16 L324.45,496.14 L324.91,496.12 L325.36,496.1 L325.81,496.08 L326.27,496.06 L326.72,496.04 L327.17,496.02 L327.62,496 L328.08,495.97 L328.53,495.95 L328.98,495.92 L329.44,495.9 L329.89,495.87 L330.34,495.84 L330.8,495.81 L331.25,495.78 L331.7,495.75 L332.15,495.72 L332.61,495.68 L333.06,495.65 L333.51,495.61 L333.97,495.57 L334.42,495.53 L334.87,495.49 L335.33,495.45 L335.78,495.4 L336.23,495.36 L336.69,495.31 L337.14,495.26 L337.59,495.2 L338.04,495.15 L338.5,495.09 L338.95,495.03 L339.4,494.97 L339.86,494.9 L340.31,494.83 L340.76,494.76 L341.22,494.69 L341.67,494.61 L342.12,494.53 L342.57,494.44 L343.03,494.35 L343.48,494.26 L343.93,494.16 L344.39,494.05 L344.84,493.95 L345.29,493.83 L345.75,493.71 L346.2,493.59 L346.65,493.46 L347.1,493.32 L347.56,493.17 L348.01,493.02 L348.46,492.86 L348.92,492.69 L349.37,492.51 L349.82,492.33 L350.27,492.13 L350.73,491.92 L351.18,491.71 L351.63,491.48 L352.09,491.24 L352.54,490.98 L352.99,490.72 L353.45,490.44 L353.9,490.14 L354.35,489.83 L354.81,489.5 L355.26,489.16 L355.71,488.8 L356.16,488.42 L356.62,488.03 L357.07,487.61 L357.52,487.17 L357.98,486.72 L358.43,486.24 L358.88,485.74 L359.33,485.22 L359.79,484.68 L360.24,484.12 L360.69,483.54 L361.15,482.93 L361.6,482.3 L362.05,481.65 L362.51,480.99 L362.96,480.3 L363.41,479.59 L363.87,478.87 L364.32,478.13 L364.77,477.38 L365.22,476.61 L365.68,475.83 L366.13,475.05 L366.58,474.25 L367.04,473.45 L367.49,472.64 L367.94,471.84 L368.39,471.03 L368.85,470.22 L369.3,469.42 L369.75,468.62 L370.21,467.82 L370.66,467.04 L371.11,466.26 L371.57,465.49 L372.02,464.73 L372.47,463.98 L372.93,463.25 L373.38,462.53 L373.83,461.82 L374.28,461.12 L374.74,460.43 L375.19,459.76 L375.64,459.1 L376.1,458.45 L376.55,457.82 L377,457.19 L377.45,456.58 L377.91,455.98 L378.36,455.39 L378.81,454.82 L379.27,454.25 L379.72,453.69 L380.17,453.14 L380.63,452.59 L381.08,452.06 L381.53,451.53 L381.99,451.01 L382.44,450.49 L382.89,449.98 L383.34,449.48 L383.8,448.97 L384.25,448.48 L384.7,447.98 L385.16,447.49 L385.61,447 L386.06,446.51 L386.51,446.03 L386.97,445.54 L387.42,445.05 L387.87,444.57 L388.33,444.08 L388.78,443.59 L389.23,443.1 L389.69,442.61 L390.14,442.12 L390.59,441.62 L391.04,441.12 L391.5,440.61 L391.95,440.11 L392.4,439.59 L392.86,439.07 L393.31,438.55 L393.76,438.02 L394.22,437.49 L394.67,436.94 L395.12,436.39 L395.57,435.84 L396.03,435.27 L396.48,434.7 L396.93,434.12 L397.39,433.53 L397.84,432.93 L398.29,432.32 L398.75,431.7 L399.2,431.07 L399.65,430.43 L400.11,429.78 L400.56,429.12 L401.01,428.44 L401.46,427.75 L401.92,427.05 L402.37,426.34 L402.82,425.61 L403.28,424.86 L403.73,424.11 L404.18,423.33 L404.63,422.55 L405.09,421.74 L405.54,420.92 L405.99,420.08 L406.45,419.23 L406.9,418.35" stroke="#1e9c89" stroke-width="1.15" fill="none"/>
<path d="M271,496.76 L271.45,496.76 L271.91,496.76 L272.36,496.75 L272.81,496.75 L273.26,496.75 L273.72,496.75 L274.17,496.75 L274.62,496.75 L275.08,496.75 L275.53,496.75 L275.98,496.75 L276.44,496.75 L276.89,496.75 L277.34,496.75 L277.8,496.75 L278.25,496.75 L278.7,496.74 L279.15,496.74 L279.61,496.74 L280.06,496.74 L280.51,496.74 L280.97,496.74 L281.42,496.74 L281.87,496.74 L282.32,496.74 L282.78,496.74 L283.23,496.74 L283.68,496.73 L284.14,496.73 L284.59,496.73 L285.04,496.73 L285.5,496.73 L285.95,496.73 L286.4,496.73 L286.86,496.73 L287.31,496.73 L287.76,496.72 L288.21,496.72 L288.67,496.72 L289.12,496.72 L289.57,496.72 L290.03,496.72 L290.48,496.72 L290.93,496.71 L291.38,496.71 L291.84,496.71 L292.29,496.71 L292.74,496.71 L293.2,496.71 L293.65,496.7 L294.1,496.7 L294.56,496.7 L295.01,496.7 L295.46,496.7 L295.92,496.69 L296.37,496.69 L296.82,496.69 L297.27,496.69 L297.73,496.69 L298.18,496.68 L298.63,496.68 L299.09,496.68 L299.54,496.68 L299.99,496.67 L300.44,496.67 L300.9,496.67 L301.35,496.67 L301.8,496.66 L302.26,496.66 L302.71,496.66 L303.16,496.65 L303.62,496.65 L304.07,496.65 L304.52,496.65 L304.98,496.64 L305.43,496.64 L305.88,496.63 L306.33,496.63 L306.79,496.63 L307.24,496.62 L307.69,496.62 L308.15,496.62 L308.6,496.61 L309.05,496.61 L309.5,496.6 L309.96,496.6 L310.41,496.59 L310.86,496.59 L311.32,496.58 L311.77,496.58 L312.22,496.57 L312.68,496.57 L313.13,496.56 L313.58,496.56 L314.03,496.55 L314.49,496.55 L314.94,496.54 L315.39,496.54 L315.85,496.53 L316.3,496.52 L316.75,496.52 L317.21,496.51 L317.66,496.5 L318.11,496.49 L318.56,496.49 L319.02,496.48 L319.47,496.47 L319.92,496.46 L320.38,496.45 L320.83,496.45 L321.28,496.44 L321.74,496.43 L322.19,496.42 L322.64,496.41 L323.09,496.4 L323.55,496.39 L324,496.38 L324.45,496.37 L324.91,496.36 L325.36,496.34 L325.81,496.33 L326.27,496.32 L326.72,496.31 L327.17,496.29 L327.62,496.28 L328.08,496.27 L328.53,496.25 L328.98,496.24 L329.44,496.22 L329.89,496.21 L330.34,496.19 L330.8,496.17 L331.25,496.15 L331.7,496.14 L332.15,496.12 L332.61,496.1 L333.06,496.08 L333.51,496.06 L333.97,496.04 L334.42,496.01 L334.87,495.99 L335.33,495.97 L335.78,495.94 L336.23,495.92 L336.69,495.89 L337.14,495.86 L337.59,495.83 L338.04,495.8 L338.5,495.77 L338.95,495.74 L339.4,495.71 L339.86,495.67 L340.31,495.64 L340.76,495.6 L341.22,495.56 L341.67,495.52 L342.12,495.48 L342.57,495.44 L343.03,495.39 L343.48,495.34 L343.93,495.29 L344.39,495.24 L344.84,495.19 L345.29,495.13 L345.75,495.08 L346.2,495.01 L346.65,494.95 L347.1,494.88 L347.56,494.82 L348.01,494.74 L348.46,494.67 L348.92,494.59 L349.37,494.51 L349.82,494.42 L350.27,494.33 L350.73,494.24 L351.18,494.14 L351.63,494.03 L352.09,493.92 L352.54,493.81 L352.99,493.69 L353.45,493.57 L353.9,493.44 L354.35,493.3 L354.81,493.15 L355.26,493 L355.71,492.84 L356.16,492.67 L356.62,492.5 L357.07,492.31 L357.52,492.12 L357.98,491.92 L358.43,491.7 L358.88,491.48 L359.33,491.25 L359.79,491 L360.24,490.74 L360.69,490.47 L361.15,490.18 L361.6,489.89 L362.05,489.57 L362.51,489.25 L362.96,488.91 L363.41,488.55 L363.87,488.18 L364.32,487.79 L364.77,487.39 L365.22,486.97 L365.68,486.53 L366.13,486.08 L366.58,485.61 L367.04,485.13 L367.49,484.63 L367.94,484.12 L368.39,483.6 L368.85,483.06 L369.3,482.51 L369.75,481.94 L370.21,481.37 L370.66,480.79 L371.11,480.2 L371.57,479.61 L372.02,479.01 L372.47,478.41 L372.93,477.81 L373.38,477.21 L373.83,476.61 L374.28,476.01 L374.74,475.41 L375.19,474.82 L375.64,474.24 L376.1,473.66 L376.55,473.1 L377,472.54 L377.45,471.99 L377.91,471.44 L378.36,470.91 L378.81,470.39 L379.27,469.88 L379.72,469.37 L380.17,468.88 L380.63,468.4 L381.08,467.92 L381.53,467.46 L381.99,467 L382.44,466.56 L382.89,466.12 L383.34,465.68 L383.8,465.26 L384.25,464.84 L384.7,464.42 L385.16,464.01 L385.61,463.61 L386.06,463.21 L386.51,462.81 L386.97,462.42 L387.42,462.03 L387.87,461.64 L388.33,461.26 L388.78,460.87 L389.23,460.49 L389.69,460.11 L390.14,459.73 L390.59,459.34 L391.04,458.96 L391.5,458.57 L391.95,458.19 L392.4,457.8 L392.86,457.4 L393.31,457.01 L393.76,456.61 L394.22,456.21 L394.67,455.81 L395.12,455.4 L395.57,454.98 L396.03,454.57 L396.48,454.14 L396.93,453.71 L397.39,453.28 L397.84,452.84 L398.29,452.39 L398.75,451.94 L399.2,451.47 L399.65,451.01 L400.11,450.53 L400.56,450.04 L401.01,449.55 L401.46,449.05 L401.92,448.54 L402.37,448.02 L402.82,447.49 L403.28,446.95 L403.73,446.39 L404.18,445.83 L404.63,445.26 L405.09,444.68 L405.54,444.08 L405.99,443.47 L406.45,442.85 L406.9,442.22 L407.35,441.57 L407.81,440.91 L408.26,440.24 L408.71,439.55 L409.16,438.85 L409.62,438.13 L410.07,437.4 L410.52,436.65 L410.98,435.88 L411.43,435.1 L411.88,434.3 L412.34,433.48 L412.79,432.64 L413.24,431.79 L413.69,430.92" stroke="#26ad81" stroke-width="1.15" fill="none"/>
<path d="M271,496.76 L271.45,496.76 L271.91,496.76 L272.36,496.76 L272.81,496.76 L273.26,496.76 L273.72,496.76 L274.17,496.76 L274.62,496.76 L275.08,496.76 L275.53,496.76 L275.98,496.76 L276.44,496.76 L276.89,496.76 L277.34,496.76 L277.8,496.76 L278.25,496.76 L278.7,496.76 L279.15,496.76 L279.61,496.76 L280.06,496.76 L280.51,496.75 L280.97,496.75 L281.42,496.75 L281.87,496.75 L282.32,496.75 L282.78,496.75 L283.23,496.75 L283.68,496.75 L284.14,496.75 L284.59,496.75 L285.04,496.75 L285.5,496.75 L285.95,496.75 L286.4,496.74 L286.86,496.74 L287.31,496.74 L287.76,496.74 L288.21,496.74 L288.67,496.74 L289.12,496.74 L289.57,496.74 L290.03,496.74 L290.48,496.74 L290.93,496.74 L291.38,496.73 L291.84,496.73 L292.29,496.73 L292.74,496.73 L293.2,496.73 L293.65,496.73 L294.1,496.73 L294.56,496.73 L295.01,496.72 L295.46,496.72 L295.92,496.72 L296.37,496.72 L296.82,496.72 L297.27,496.72 L297.73,496.72 L298.18,496.71 L298.63,496.71 L299.09,496.71 L299.54,496.71 L299.99,496.71 L300.44,496.71 L300.9,496.7 L301.35,496.7 L301.8,496.7 L302.26,496.7 L302.71,496.7 L303.16,496.69 L303.62,496.69 L304.07,496.69 L304.52,496.69 L304.98,496.69 L305.43,496.68 L305.88,496.68 L306.33,496.68 L306.79,496.68 L307.24,496.67 L307.69,496.67 L308.15,496.67 L308.6,496.66 L309.05,496.66 L309.5,496.66 L309.96,496.66 L310.41,496.65 L310.86,496.65 L311.32,496.65 L311.77,496.64 L312.22,496.64 L312.68,496.64 L313.13,496.63 L313.58,496.63 L314.03,496.62 L314.49,496.62 L314.94,496.62 L315.39,496.61 L315.85,496.61 L316.3,496.6 L316.75,496.6 L317.21,496.6 L317.66,496.59 L318.11,496.59 L318.56,496.58 L319.02,496.58 L319.47,496.57 L319.92,496.56 L320.38,496.56 L320.83,496.55 L321.28,496.55 L321.74,496.54 L322.19,496.54 L322.64,496.53 L323.09,496.52 L323.55,496.52 L324,496.51 L324.45,496.5 L324.91,496.49 L325.36,496.49 L325.81,496.48 L326.27,496.47 L326.72,496.46 L327.17,496.46 L327.62,496.45 L328.08,496.44 L328.53,496.43 L328.98,496.42 L329.44,496.41 L329.89,496.4 L330.34,496.39 L330.8,496.38 L331.25,496.37 L331.7,496.36 L332.15,496.34 L332.61,496.33 L333.06,496.32 L333.51,496.31 L333.97,496.29 L334.42,496.28 L334.87,496.27 L335.33,496.25 L335.78,496.24 L336.23,496.22 L336.69,496.2 L337.14,496.19 L337.59,496.17 L338.04,496.15 L338.5,496.14 L338.95,496.12 L339.4,496.1 L339.86,496.08 L340.31,496.06 L340.76,496.03 L341.22,496.01 L341.67,495.99 L342.12,495.96 L342.57,495.94 L343.03,495.91 L343.48,495.89 L343.93,495.86 L344.39,495.83 L344.84,495.8 L345.29,495.77 L345.75,495.74 L346.2,495.7 L346.65,495.67 L347.1,495.63 L347.56,495.6 L348.01,495.56 L348.46,495.52 L348.92,495.48 L349.37,495.43 L349.82,495.39 L350.27,495.34 L350.73,495.29 L351.18,495.24 L351.63,495.19 L352.09,495.13 L352.54,495.07 L352.99,495.01 L353.45,494.95 L353.9,494.88 L354.35,494.81 L354.81,494.74 L355.26,494.67 L355.71,494.59 L356.16,494.51 L356.62,494.42 L357.07,494.33 L357.52,494.24 L357.98,494.14 L358.43,494.04 L358.88,493.93 L359.33,493.82 L359.79,493.7 L360.24,493.58 L360.69,493.45 L361.15,493.31 L361.6,493.17 L362.05,493.02 L362.51,492.87 L362.96,492.71 L363.41,492.53 L363.87,492.36 L364.32,492.17 L364.77,491.97 L365.22,491.77 L365.68,491.55 L366.13,491.33 L366.58,491.1 L367.04,490.85 L367.49,490.59 L367.94,490.33 L368.39,490.05 L368.85,489.76 L369.3,489.46 L369.75,489.14 L370.21,488.82 L370.66,488.48 L371.11,488.13 L371.57,487.77 L372.02,487.4 L372.47,487.01 L372.93,486.62 L373.38,486.21 L373.83,485.8 L374.28,485.37 L374.74,484.94 L375.19,484.5 L375.64,484.06 L376.1,483.6 L376.55,483.15 L377,482.69 L377.45,482.23 L377.91,481.77 L378.36,481.3 L378.81,480.84 L379.27,480.38 L379.72,479.93 L380.17,479.48 L380.63,479.03 L381.08,478.59 L381.53,478.15 L381.99,477.72 L382.44,477.3 L382.89,476.88 L383.34,476.47 L383.8,476.07 L384.25,475.67 L384.7,475.29 L385.16,474.91 L385.61,474.53 L386.06,474.16 L386.51,473.8 L386.97,473.45 L387.42,473.1 L387.87,472.75 L388.33,472.41 L388.78,472.07 L389.23,471.74 L389.69,471.41 L390.14,471.08 L390.59,470.76 L391.04,470.44 L391.5,470.11 L391.95,469.79 L392.4,469.48 L392.86,469.16 L393.31,468.84 L393.76,468.52 L394.22,468.2 L394.67,467.87 L395.12,467.55 L395.57,467.23 L396.03,466.9 L396.48,466.57 L396.93,466.23 L397.39,465.9 L397.84,465.56 L398.29,465.21 L398.75,464.87 L399.2,464.51 L399.65,464.16 L400.11,463.79 L400.56,463.43 L401.01,463.05 L401.46,462.67 L401.92,462.29 L402.37,461.9 L402.82,461.5 L403.28,461.09 L403.73,460.68 L404.18,460.26 L404.63,459.83 L405.09,459.4 L405.54,458.95 L405.99,458.5 L406.45,458.04 L406.9,457.57 L407.35,457.09 L407.81,456.6 L408.26,456.1 L408.71,455.59 L409.16,455.07 L409.62,454.53 L410.07,453.99 L410.52,453.43 L410.98,452.87 L411.43,452.29 L411.88,451.7 L412.34,451.09 L412.79,450.47 L413.24,449.84 L413.69,449.2 L414.15,448.54 L414.6,447.86 L415.05,447.18 L415.51,446.47 L415.96,445.75 L416.41,445.01 L416.87,444.26 L417.32,443.49 L417.77,442.7 L418.23,441.9 L418.68,441.07 L419.13,440.23 L419.58,439.37 L420.04,438.49 L420.49,437.59" stroke="#3fbc73" stroke-width="1.15" fill="none"/>
<path d="M271,496.77 L271.45,496.77 L271.91,496.77 L272.36,496.77 L272.81,496.77 L273.26,496.77 L273.72,496.77 L274.17,496.77 L274.62,496.77 L275.08,496.77 L275.53,496.77 L275.98,496.77 L276.44,496.77 L276.89,496.77 L277.34,496.77 L277.8,496.77 L278.25,496.77 L278.7,496.77 L279.15,496.77 L279.61,496.77 L280.06,496.77 L280.51,496.77 L280.97,496.77 L281.42,496.77 L281.87,496.77 L282.32,496.77 L282.78,496.77 L283.23,496.77 L283.68,496.77 L284.14,496.76 L284.59,496.76 L285.04,496.76 L285.5,496.76 L285.95,496.76 L286.4,496.76 L286.86,496.76 L287.31,496.76 L287.76,496.76 L288.21,496.76 L288.67,496.76 L289.12,496.76 L289.57,496.76 L290.03,496.76 L290.48,496.76 L290.93,496.76 L291.38,496.76 L291.84,496.76 L292.29,496.75 L292.74,496.75 L293.2,496.75 L293.65,496.75 L294.1,496.75 L294.56,496.75 L295.01,496.75 L295.46,496.75 L295.92,496.75 L296.37,496.75 L296.82,496.75 L297.27,496.75 L297.73,496.75 L298.18,496.74 L298.63,496.74 L299.09,496.74 L299.54,496.74 L299.99,496.74 L300.44,496.74 L300.9,496.74 L301.35,496.74 L301.8,496.74 L302.26,496.74 L302.71,496.73 L303.16,496.73 L303.62,496.73 L304.07,496.73 L304.52,496.73 L304.98,496.73 L305.43,496.73 L305.88,496.72 L306.33,496.72 L306.79,496.72 L307.24,496.72 L307.69,496.72 L308.15,496.72 L308.6,496.72 L309.05,496.71 L309.5,496.71 L309.96,496.71 L310.41,496.71 L310.86,496.71 L311.32,496.71 L311.77,496.7 L312.22,496.7 L312.68,496.7 L313.13,496.7 L313.58,496.7 L314.03,496.69 L314.49,496.69 L314.94,496.69 L315.39,496.69 L315.85,496.68 L316.3,496.68 L316.75,496.68 L317.21,496.68 L317.66,496.67 L318.11,496.67 L318.56,496.67 L319.02,496.67 L319.47,496.66 L319.92,496.66 L320.38,496.66 L320.83,496.65 L321.28,496.65 L321.74,496.65 L322.19,496.64 L322.64,496.64 L323.09,496.64 L323.55,496.63 L324,496.63 L324.45,496.63 L324.91,496.62 L325.36,496.62 L325.81,496.61 L326.27,496.61 L326.72,496.6 L327.17,496.6 L327.62,496.6 L328.08,496.59 L328.53,496.59 L328.98,496.58 L329.44,496.58 L329.89,496.57 L330.34,496.56 L330.8,496.56 L331.25,496.55 L331.7,496.55 L332.15,496.54 L332.61,496.54 L333.06,496.53 L333.51,496.52 L333.97,496.52 L334.42,496.51 L334.87,496.5 L335.33,496.49 L335.78,496.49 L336.23,496.48 L336.69,496.47 L337.14,496.46 L337.59,496.45 L338.04,496.44 L338.5,496.44 L338.95,496.43 L339.4,496.42 L339.86,496.41 L340.31,496.4 L340.76,496.39 L341.22,496.38 L341.67,496.36 L342.12,496.35 L342.57,496.34 L343.03,496.33 L343.48,496.32 L343.93,496.3 L344.39,496.29 L344.84,496.28 L345.29,496.26 L345.75,496.25 L346.2,496.23 L346.65,496.22 L347.1,496.2 L347.56,496.18 L348.01,496.17 L348.46,496.15 L348.92,496.13 L349.37,496.11 L349.82,496.09 L350.27,496.07 L350.73,496.05 L351.18,496.03 L351.63,496 L352.09,495.98 L352.54,495.96 L352.99,495.93 L353.45,495.91 L353.9,495.88 L354.35,495.85 L354.81,495.82 L355.26,495.79 L355.71,495.76 L356.16,495.73 L356.62,495.69 L357.07,495.66 L357.52,495.62 L357.98,495.58 L358.43,495.55 L358.88,495.5 L359.33,495.46 L359.79,495.42 L360.24,495.37 L360.69,495.32 L361.15,495.28 L361.6,495.22 L362.05,495.17 L362.51,495.11 L362.96,495.06 L363.41,494.99 L363.87,494.93 L364.32,494.87 L364.77,494.8 L365.22,494.72 L365.68,494.65 L366.13,494.57 L366.58,494.49 L367.04,494.4 L367.49,494.31 L367.94,494.22 L368.39,494.12 L368.85,494.02 L369.3,493.92 L369.75,493.81 L370.21,493.69 L370.66,493.57 L371.11,493.44 L371.57,493.31 L372.02,493.17 L372.47,493.03 L372.93,492.88 L373.38,492.72 L373.83,492.56 L374.28,492.39 L374.74,492.21 L375.19,492.02 L375.64,491.83 L376.1,491.62 L376.55,491.41 L377,491.2 L377.45,490.97 L377.91,490.73 L378.36,490.49 L378.81,490.24 L379.27,489.98 L379.72,489.71 L380.17,489.43 L380.63,489.14 L381.08,488.85 L381.53,488.55 L381.99,488.24 L382.44,487.93 L382.89,487.6 L383.34,487.28 L383.8,486.95 L384.25,486.61 L384.7,486.27 L385.16,485.93 L385.61,485.59 L386.06,485.25 L386.51,484.9 L386.97,484.56 L387.42,484.22 L387.87,483.88 L388.33,483.54 L388.78,483.21 L389.23,482.88 L389.69,482.56 L390.14,482.23 L390.59,481.92 L391.04,481.61 L391.5,481.3 L391.95,481 L392.4,480.71 L392.86,480.42 L393.31,480.13 L393.76,479.85 L394.22,479.57 L394.67,479.3 L395.12,479.03 L395.57,478.77 L396.03,478.51 L396.48,478.25 L396.93,478 L397.39,477.74 L397.84,477.49 L398.29,477.24 L398.75,477 L399.2,476.75 L399.65,476.5 L400.11,476.26 L400.56,476.01 L401.01,475.76 L401.46,475.51 L401.92,475.27 L402.37,475.02 L402.82,474.76 L403.28,474.51 L403.73,474.26 L404.18,474 L404.63,473.74 L405.09,473.47 L405.54,473.21 L405.99,472.94 L406.45,472.66 L406.9,472.39 L407.35,472.11 L407.81,471.82 L408.26,471.53 L408.71,471.24 L409.16,470.94 L409.62,470.63 L410.07,470.32 L410.52,470.01 L410.98,469.68 L411.43,469.36 L411.88,469.02 L412.34,468.68 L412.79,468.33 L413.24,467.98 L413.69,467.62 L414.15,467.25 L414.6,466.88 L415.05,466.49 L415.51,466.1 L415.96,465.7 L416.41,465.29 L416.87,464.87 L417.32,464.45 L417.77,464.01 L418.23,463.57 L418.68,463.11 L419.13,462.65 L419.58,462.17 L420.04,461.69 L420.49,461.19 L420.94,460.69 L421.4,460.17 L421.85,459.64 L422.3,459.1 L422.75,458.54 L423.21,457.97 L423.66,457.4 L424.11,456.8 L424.57,456.2 L425.02,455.58 L425.47,454.94 L425.93,454.3 L426.38,453.63 L426.83,452.95 L427.28,452.26 L427.74,451.55 L428.19,450.83 L428.64,450.08 L429.1,449.32 L429.55,448.55 L430,447.75 L430.46,446.94" stroke="#7ad151" stroke-width="1.15" fill="none"/>
<path d="M271,496.78 L271.45,496.78 L271.91,496.78 L272.36,496.78 L272.81,496.78 L273.26,496.78 L273.72,496.78 L274.17,496.78 L274.62,496.78 L275.08,496.78 L275.53,496.78 L275.98,496.78 L276.44,496.78 L276.89,496.78 L277.34,496.78 L277.8,496.78 L278.25,496.78 L278.7,496.78 L279.15,496.78 L279.61,496.78 L280.06,496.78 L280.51,496.78 L280.97,496.78 L281.42,496.78 L281.87,496.78 L282.32,496.78 L282.78,496.78 L283.23,496.78 L283.68,496.77 L284.14,496.77 L284.59,496.77 L285.04,496.77 L285.5,496.77 L285.95,496.77 L286.4,496.77 L286.86,496.77 L287.31,496.77 L287.76,496.77 L288.21,496.77 L288.67,496.77 L289.12,496.77 L289.57,496.77 L290.03,496.77 L290.48,496.77 L290.93,496.77 L291.38,496.77 L291.84,496.77 L292.29,496.77 L292.74,496.77 L293.2,496.77 L293.65,496.77 L294.1,496.77 L294.56,496.77 L295.01,496.77 L295.46,496.76 L295.92,496.76 L296.37,496.76 L296.82,496.76 L297.27,496.76 L297.73,496.76 L298.18,496.76 L298.63,496.76 L299.09,496.76 L299.54,496.76 L299.99,496.76 L300.44,496.76 L300.9,496.76 L301.35,496.76 L301.8,496.76 L302.26,496.76 L302.71,496.75 L303.16,496.75 L303.62,496.75 L304.07,496.75 L304.52,496.75 L304.98,496.75 L305.43,496.75 L305.88,496.75 L306.33,496.75 L306.79,496.75 L307.24,496.75 L307.69,496.74 L308.15,496.74 L308.6,496.74 L309.05,496.74 L309.5,496.74 L309.96,496.74 L310.41,496.74 L310.86,496.74 L311.32,496.74 L311.77,496.73 L312.22,496.73 L312.68,496.73 L313.13,496.73 L313.58,496.73 L314.03,496.73 L314.49,496.73 L314.94,496.73 L315.39,496.72 L315.85,496.72 L316.3,496.72 L316.75,496.72 L317.21,496.72 L317.66,496.72 L318.11,496.71 L318.56,496.71 L319.02,496.71 L319.47,496.71 L319.92,496.71 L320.38,496.7 L320.83,496.7 L321.28,496.7 L321.74,496.7 L322.19,496.7 L322.64,496.69 L323.09,496.69 L323.55,496.69 L324,496.69 L324.45,496.68 L324.91,496.68 L325.36,496.68 L325.81,496.68 L326.27,496.67 L326.72,496.67 L327.17,496.67 L327.62,496.67 L328.08,496.66 L328.53,496.66 L328.98,496.66 L329.44,496.65 L329.89,496.65 L330.34,496.65 L330.8,496.64 L331.25,496.64 L331.7,496.64 L332.15,496.63 L332.61,496.63 L333.06,496.62 L333.51,496.62 L333.97,496.62 L334.42,496.61 L334.87,496.61 L335.33,496.6 L335.78,496.6 L336.23,496.59 L336.69,496.59 L337.14,496.58 L337.59,496.58 L338.04,496.57 L338.5,496.57 L338.95,496.56 L339.4,496.56 L339.86,496.55 L340.31,496.54 L340.76,496.54 L341.22,496.53 L341.67,496.53 L342.12,496.52 L342.57,496.51 L343.03,496.5 L343.48,496.5 L343.93,496.49 L344.39,496.48 L344.84,496.47 L345.29,496.46 L345.75,496.46 L346.2,496.45 L346.65,496.44 L347.1,496.43 L347.56,496.42 L348.01,496.41 L348.46,496.4 L348.92,496.39 L349.37,496.38 L349.82,496.37 L350.27,496.36 L350.73,496.34 L351.18,496.33 L351.63,496.32 L352.09,496.31 L352.54,496.29 L352.99,496.28 L353.45,496.26 L353.9,496.25 L354.35,496.23 L354.81,496.22 L355.26,496.2 L355.71,496.19 L356.16,496.17 L356.62,496.15 L357.07,496.13 L357.52,496.11 L357.98,496.09 L358.43,496.07 L358.88,496.05 L359.33,496.03 L359.79,496.01 L360.24,495.98 L360.69,495.96 L361.15,495.94 L361.6,495.91 L362.05,495.88 L362.51,495.85 L362.96,495.83 L363.41,495.8 L363.87,495.76 L364.32,495.73 L364.77,495.7 L365.22,495.66 L365.68,495.63 L366.13,495.59 L366.58,495.55 L367.04,495.51 L367.49,495.47 L367.94,495.43 L368.39,495.38 L368.85,495.33 L369.3,495.29 L369.75,495.23 L370.21,495.18 L370.66,495.13 L371.11,495.07 L371.57,495.01 L372.02,494.95 L372.47,494.88 L372.93,494.82 L373.38,494.75 L373.83,494.67 L374.28,494.6 L374.74,494.52 L375.19,494.43 L375.64,494.35 L376.1,494.26 L376.55,494.16 L377,494.06 L377.45,493.96 L377.91,493.86 L378.36,493.75 L378.81,493.63 L379.27,493.51 L379.72,493.38 L380.17,493.25 L380.63,493.12 L381.08,492.97 L381.53,492.83 L381.99,492.67 L382.44,492.51 L382.89,492.35 L383.34,492.18 L383.8,492 L384.25,491.82 L384.7,491.62 L385.16,491.43 L385.61,491.22 L386.06,491.01 L386.51,490.8 L386.97,490.58 L387.42,490.35 L387.87,490.11 L388.33,489.87 L388.78,489.63 L389.23,489.38 L389.69,489.13 L390.14,488.87 L390.59,488.61 L391.04,488.35 L391.5,488.08 L391.95,487.81 L392.4,487.54 L392.86,487.27 L393.31,487.01 L393.76,486.74 L394.22,486.47 L394.67,486.2 L395.12,485.94 L395.57,485.68 L396.03,485.42 L396.48,485.16 L396.93,484.91 L397.39,484.66 L397.84,484.42 L398.29,484.18 L398.75,483.94 L399.2,483.7 L399.65,483.47 L400.11,483.24 L400.56,483.02 L401.01,482.79 L401.46,482.57 L401.92,482.35 L402.37,482.14 L402.82,481.92 L403.28,481.71 L403.73,481.5 L404.18,481.29 L404.63,481.08 L405.09,480.86 L405.54,480.65 L405.99,480.44 L406.45,480.23 L406.9,480.02 L407.35,479.81 L407.81,479.59 L408.26,479.38 L408.71,479.16 L409.16,478.94 L409.62,478.72 L410.07,478.49 L410.52,478.26 L410.98,478.03 L411.43,477.8 L411.88,477.56 L412.34,477.32 L412.79,477.08 L413.24,476.83 L413.69,476.58 L414.15,476.32 L414.6,476.06 L415.05,475.8 L415.51,475.53 L415.96,475.25 L416.41,474.97 L416.87,474.69 L417.32,474.4 L417.77,474.1 L418.23,473.8 L418.68,473.49 L419.13,473.17 L419.58,472.85 L420.04,472.52 L420.49,472.19 L420.94,471.84 L421.4,471.49 L421.85,471.14 L422.3,470.77 L422.75,470.4 L423.21,470.02 L423.66,469.63 L424.11,469.23 L424.57,468.82 L425.02,468.41 L425.47,467.98 L425.93,467.55 L426.38,467.1 L426.83,466.65 L427.28,466.18 L427.74,465.71 L428.19,465.22 L428.64,464.73 L429.1,464.22 L429.55,463.7 L430,463.17 L430.46,462.62 L430.91,462.07 L431.36,461.5 L431.81,460.92 L432.27,460.32 L432.72,459.71 L433.17,459.09 L433.63,458.45 L434.08,457.8 L434.53,457.13 L434.99,456.45 L435.44,455.75 L435.89,455.04 L436.35,454.31 L436.8,453.56 L437.25,452.8 L437.7,452.01 L438.16,451.21" stroke="#bddf26" stroke-width="1.15" fill="none"/>
<path d="M271,496.8 L271.45,496.8 L271.91,496.8 L272.36,496.8 L272.81,496.8 L273.26,496.8 L273.72,496.8 L274.17,496.8 L274.62,496.8 L275.08,496.8 L275.53,496.8 L275.98,496.8 L276.44,496.8 L276.89,496.8 L277.34,496.8 L277.8,496.8 L278.25,496.8 L278.7,496.8 L279.15,496.8 L279.61,496.8 L280.06,496.8 L280.51,496.8 L280.97,496.8 L281.42,496.8 L281.87,496.8 L282.32,496.8 L282.78,496.8 L283.23,496.8 L283.68,496.8 L284.14,496.8 L284.59,496.8 L285.04,496.8 L285.5,496.8 L285.95,496.8 L286.4,496.8 L286.86,496.8 L287.31,496.8 L287.76,496.8 L288.21,496.79 L288.67,496.79 L289.12,496.79 L289.57,496.79 L290.03,496.79 L290.48,496.79 L290.93,496.79 L291.38,496.79 L291.84,496.79 L292.29,496.79 L292.74,496.79 L293.2,496.79 L293.65,496.79 L294.1,496.79 L294.56,496.79 L295.01,496.79 L295.46,496.79 L295.92,496.79 L296.37,496.79 L296.82,496.79 L297.27,496.79 L297.73,496.79 L298.18,496.79 L298.63,496.79 L299.09,496.79 L299.54,496.79 L299.99,496.79 L300.44,496.79 L300.9,496.79 L301.35,496.79 L301.8,496.79 L302.26,496.79 L302.71,496.79 L303.16,496.79 L303.62,496.79 L304.07,496.79 L304.52,496.79 L304.98,496.78 L305.43,496.78 L305.88,496.78 L306.33,496.78 L306.79,496.78 L307.24,496.78 L307.69,496.78 L308.15,496.78 L308.6,496.78 L309.05,496.78 L309.5,496.78 L309.96,496.78 L310.41,496.78 L310.86,496.78 L311.32,496.78 L311.77,496.78 L312.22,496.78 L312.68,496.78 L313.13,496.78 L313.58,496.78 L314.03,496.77 L314.49,496.77 L314.94,496.77 L315.39,496.77 L315.85,496.77 L316.3,496.77 L316.75,496.77 L317.21,496.77 L317.66,496.77 L318.11,496.77 L318.56,496.77 L319.02,496.77 L319.47,496.77 L319.92,496.76 L320.38,496.76 L320.83,496.76 L321.28,496.76 L321.74,496.76 L322.19,496.76 L322.64,496.76 L323.09,496.76 L323.55,496.76 L324,496.76 L324.45,496.75 L324.91,496.75 L325.36,496.75 L325.81,496.75 L326.27,496.75 L326.72,496.75 L327.17,496.75 L327.62,496.75 L328.08,496.74 L328.53,496.74 L328.98,496.74 L329.44,496.74 L329.89,496.74 L330.34,496.74 L330.8,496.74 L331.25,496.73 L331.7,496.73 L332.15,496.73 L332.61,496.73 L333.06,496.73 L333.51,496.73 L333.97,496.72 L334.42,496.72 L334.87,496.72 L335.33,496.72 L335.78,496.72 L336.23,496.71 L336.69,496.71 L337.14,496.71 L337.59,496.71 L338.04,496.7 L338.5,496.7 L338.95,496.7 L339.4,496.7 L339.86,496.69 L340.31,496.69 L340.76,496.69 L341.22,496.69 L341.67,496.68 L342.12,496.68 L342.57,496.68 L343.03,496.67 L343.48,496.67 L343.93,496.67 L344.39,496.66 L344.84,496.66 L345.29,496.66 L345.75,496.65 L346.2,496.65 L346.65,496.65 L347.1,496.64 L347.56,496.64 L348.01,496.64 L348.46,496.63 L348.92,496.63 L349.37,496.62 L349.82,496.62 L350.27,496.61 L350.73,496.61 L351.18,496.6 L351.63,496.6 L352.09,496.59 L352.54,496.59 L352.99,496.58 L353.45,496.58 L353.9,496.57 L354.35,496.57 L354.81,496.56 L355.26,496.55 L355.71,496.55 L356.16,496.54 L356.62,496.53 L357.07,496.53 L357.52,496.52 L357.98,496.51 L358.43,496.5 L358.88,496.5 L359.33,496.49 L359.79,496.48 L360.24,496.47 L360.69,496.46 L361.15,496.45 L361.6,496.44 L362.05,496.43 L362.51,496.42 L362.96,496.41 L363.41,496.4 L363.87,496.39 L364.32,496.38 L364.77,496.37 L365.22,496.36 L365.68,496.35 L366.13,496.33 L366.58,496.32 L367.04,496.31 L367.49,496.29 L367.94,496.28 L368.39,496.27 L368.85,496.25 L369.3,496.24 L369.75,496.22 L370.21,496.2 L370.66,496.19 L371.11,496.17 L371.57,496.15 L372.02,496.13 L372.47,496.11 L372.93,496.09 L373.38,496.07 L373.83,496.05 L374.28,496.03 L374.74,496.01 L375.19,495.98 L375.64,495.96 L376.1,495.93 L376.55,495.91 L377,495.88 L377.45,495.85 L377.91,495.82 L378.36,495.79 L378.81,495.76 L379.27,495.73 L379.72,495.7 L380.17,495.66 L380.63,495.63 L381.08,495.59 L381.53,495.55 L381.99,495.51 L382.44,495.47 L382.89,495.43 L383.34,495.39 L383.8,495.34 L384.25,495.29 L384.7,495.24 L385.16,495.19 L385.61,495.14 L386.06,495.09 L386.51,495.03 L386.97,494.97 L387.42,494.91 L387.87,494.85 L388.33,494.78 L388.78,494.72 L389.23,494.65 L389.69,494.58 L390.14,494.5 L390.59,494.42 L391.04,494.35 L391.5,494.26 L391.95,494.18 L392.4,494.09 L392.86,494 L393.31,493.91 L393.76,493.81 L394.22,493.71 L394.67,493.61 L395.12,493.51 L395.57,493.4 L396.03,493.29 L396.48,493.18 L396.93,493.06 L397.39,492.95 L397.84,492.83 L398.29,492.7 L398.75,492.58 L399.2,492.45 L399.65,492.33 L400.11,492.2 L400.56,492.06 L401.01,491.93 L401.46,491.8 L401.92,491.66 L402.37,491.53 L402.82,491.39 L403.28,491.25 L403.73,491.11 L404.18,490.98 L404.63,490.84 L405.09,490.7 L405.54,490.56 L405.99,490.43 L406.45,490.29 L406.9,490.15 L407.35,490.02 L407.81,489.88 L408.26,489.74 L408.71,489.61 L409.16,489.47 L409.62,489.34 L410.07,489.2 L410.52,489.06 L410.98,488.92 L411.43,488.79 L411.88,488.65 L412.34,488.51 L412.79,488.36 L413.24,488.22 L413.69,488.08 L414.15,487.93 L414.6,487.78 L415.05,487.63 L415.51,487.48 L415.96,487.32 L416.41,487.16 L416.87,487 L417.32,486.84 L417.77,486.67 L418.23,486.5 L418.68,486.33 L419.13,486.15 L419.58,485.97 L420.04,485.79 L420.49,485.6 L420.94,485.41 L421.4,485.21 L421.85,485.01 L422.3,484.81 L422.75,484.6 L423.21,484.39 L423.66,484.17 L424.11,483.95 L424.57,483.73 L425.02,483.49 L425.47,483.26 L425.93,483.02 L426.38,482.77 L426.83,482.52 L427.28,482.26 L427.74,482 L428.19,481.73 L428.64,481.45 L429.1,481.17 L429.55,480.89 L430,480.59 L430.46,480.29 L430.91,479.99 L431.36,479.67 L431.81,479.35 L432.27,479.02 L432.72,478.69 L433.17,478.34 L433.63,477.99 L434.08,477.63 L434.53,477.26 L434.99,476.89 L435.44,476.5 L435.89,476.11 L436.35,475.71 L436.8,475.3 L437.25,474.88 L437.7,474.45 L438.16,474 L438.61,473.55 L439.06,473.09 L439.52,472.62 L439.97,472.14 L440.42,471.64 L440.88,471.14 L441.33,470.62 L441.78,470.09 L442.23,469.55 L442.69,469 L443.14,468.43 L443.59,467.85 L444.05,467.26 L444.5,466.65 L444.95,466.03 L445.4,465.39 L445.86,464.74 L446.31,464.08 L446.76,463.39 L447.22,462.7 L447.67,461.99 L448.12,461.26 L448.58,460.51 L449.03,459.75 L449.48,458.96 L449.94,458.16 L450.39,457.35 L450.84,456.51 L451.29,455.65 L451.75,454.77 L452.2,453.88" stroke="#fde725" stroke-width="1.15" fill="none"/>
<path d="M332.69,411.4 L332.87,410.16 L333.04,408.93 L333.22,407.69 L333.39,406.46 L333.56,405.23 L333.74,403.99 L333.91,402.76 L334.07,401.52 L334.24,400.28 L334.41,399.05 L334.57,397.81 L334.73,396.58 L334.89,395.34 L335.05,394.11 L335.21,392.87 L335.37,391.64 L335.52,390.4 L335.68,389.16 L335.83,387.93 L335.99,386.69" stroke="#481a6c" stroke-width="4.6" fill="none" stroke-linecap="round" stroke-linejoin="round"/>
<path d="M339.7,414.74 L339.87,413.67 L340.04,412.61 L340.21,411.55 L340.38,410.49 L340.54,409.44 L340.7,408.38 L340.87,407.33 L341.03,406.28 L341.19,405.23 L341.34,404.19 L341.5,403.14 L341.66,402.1 L341.81,401.06 L341.96,400.02 L342.12,398.99 L342.27,397.95 L342.42,396.92 L342.56,395.89 L342.71,394.86 L342.86,393.84" stroke="#414487" stroke-width="4.6" fill="none" stroke-linecap="round" stroke-linejoin="round"/>
<path d="M346.32,418.77 L346.5,417.79 L346.68,416.81 L346.85,415.83 L347.03,414.86 L347.2,413.89 L347.37,412.92 L347.54,411.96 L347.71,411 L347.88,410.05 L348.04,409.1 L348.21,408.16 L348.37,407.22 L348.53,406.29 L348.69,405.35 L348.85,404.43 L349.01,403.51 L349.16,402.59 L349.32,401.67 L349.47,400.76 L349.62,399.86" stroke="#375a8c" stroke-width="4.6" fill="none" stroke-linecap="round" stroke-linejoin="round"/>
<path d="M357.05,425.25 L357.21,424.58 L357.37,423.92 L357.54,423.27 L357.7,422.62 L357.86,421.98 L358.01,421.34 L358.17,420.71 L358.33,420.08 L358.48,419.46 L358.63,418.85 L358.78,418.24 L358.94,417.64 L359.09,417.04 L359.23,416.45 L359.38,415.86 L359.53,415.28 L359.67,414.7 L359.82,414.13 L359.96,413.56 L360.1,413" stroke="#2a788e" stroke-width="4.6" fill="none" stroke-linecap="round" stroke-linejoin="round"/>
<path d="M365.19,434.49 L365.38,433.94 L365.58,433.39 L365.77,432.85 L365.96,432.32 L366.15,431.79 L366.33,431.27 L366.52,430.77 L366.7,430.26 L366.88,429.77 L367.06,429.28 L367.24,428.8 L367.42,428.33 L367.59,427.86 L367.76,427.4 L367.94,426.95 L368.11,426.5 L368.28,426.06 L368.44,425.63 L368.61,425.2 L368.77,424.77" stroke="#228b8d" stroke-width="4.6" fill="none" stroke-linecap="round" stroke-linejoin="round"/>
<path d="M380.77,452.42 L381.09,452.05 L381.39,451.69 L381.7,451.34 L382,450.99 L382.29,450.66 L382.58,450.33 L382.87,450.01 L383.15,449.69 L383.43,449.38 L383.7,449.08 L383.97,448.78 L384.24,448.49 L384.5,448.2 L384.76,447.92 L385.01,447.64 L385.27,447.37 L385.52,447.1 L385.76,446.83 L386.01,446.57 L386.25,446.31" stroke="#1e9c89" stroke-width="4.6" fill="none" stroke-linecap="round" stroke-linejoin="round"/>
<path d="M389.9,459.93 L390.28,459.61 L390.65,459.29 L391.02,458.98 L391.38,458.68 L391.73,458.37 L392.08,458.08 L392.42,457.79 L392.75,457.5 L393.08,457.21 L393.4,456.93 L393.72,456.65 L394.03,456.37 L394.34,456.1 L394.65,455.83 L394.95,455.56 L395.24,455.29 L395.53,455.03 L395.82,454.76 L396.1,454.5 L396.38,454.24" stroke="#26ad81" stroke-width="4.6" fill="none" stroke-linecap="round" stroke-linejoin="round"/>
<path d="M398.73,464.88 L399.28,464.45 L399.83,464.02 L400.36,463.59 L400.87,463.17 L401.37,462.75 L401.86,462.34 L402.34,461.93 L402.8,461.52 L403.26,461.11 L403.7,460.71 L404.14,460.3 L404.56,459.9 L404.98,459.5 L405.39,459.11 L405.79,458.71 L406.18,458.31 L406.56,457.92 L406.94,457.53 L407.31,457.14 L407.67,456.74" stroke="#3fbc73" stroke-width="4.6" fill="none" stroke-linecap="round" stroke-linejoin="round"/>
<path d="M413.98,467.39 L414.32,467.11 L414.66,466.83 L414.99,466.55 L415.31,466.27 L415.63,465.99 L415.94,465.72 L416.25,465.44 L416.55,465.16 L416.85,464.89 L417.15,464.61 L417.44,464.34 L417.72,464.06 L418,463.79 L418.28,463.51 L418.55,463.24 L418.82,462.96 L419.09,462.69 L419.35,462.42 L419.61,462.14 L419.87,461.87" stroke="#7ad151" stroke-width="4.6" fill="none" stroke-linecap="round" stroke-linejoin="round"/>
<path d="M424.53,468.86 L424.83,468.59 L425.12,468.31 L425.41,468.04 L425.7,467.77 L425.98,467.5 L426.26,467.22 L426.53,466.95 L426.8,466.68 L427.07,466.41 L427.33,466.14 L427.59,465.87 L427.85,465.59 L428.1,465.32 L428.35,465.05 L428.6,464.78 L428.84,464.51 L429.08,464.24 L429.32,463.97 L429.55,463.7 L429.78,463.43" stroke="#bddf26" stroke-width="4.6" fill="none" stroke-linecap="round" stroke-linejoin="round"/>
<path d="M439.71,472.41 L439.93,472.18 L440.15,471.94 L440.37,471.7 L440.58,471.47 L440.79,471.23 L441,470.99 L441.21,470.76 L441.42,470.52 L441.62,470.28 L441.82,470.05 L442.02,469.81 L442.22,469.57 L442.41,469.34 L442.6,469.1 L442.8,468.86 L442.98,468.62 L443.17,468.39 L443.36,468.15 L443.54,467.91 L443.72,467.68" stroke="#fde725" stroke-width="4.6" fill="none" stroke-linecap="round" stroke-linejoin="round"/>
<path d="M335.1,393.7 L342.5,401.1 L348.6,408.2 L358.6,419.9 L367.7,429.7 L383.5,448.1 L393.9,455.8 L404,461.6 L418.1,465.3 L428.2,467 L443.3,468.6" stroke="#ff1010" stroke-width="1.1" fill="none" stroke-dasharray="3 1.8"/>
<circle cx="335.1" cy="393.7" r="2.3" fill="#ff0000" stroke="none" stroke-width="0.5"/>
<circle cx="342.5" cy="401.1" r="2.3" fill="#ff0000" stroke="none" stroke-width="0.5"/>
<circle cx="348.6" cy="408.2" r="2.3" fill="#ff0000" stroke="none" stroke-width="0.5"/>
<circle cx="358.6" cy="419.9" r="2.3" fill="#ff0000" stroke="none" stroke-width="0.5"/>
<circle cx="367.7" cy="429.7" r="2.3" fill="#ff0000" stroke="none" stroke-width="0.5"/>
<circle cx="383.5" cy="448.1" r="2.3" fill="#ff0000" stroke="none" stroke-width="0.5"/>
<circle cx="393.9" cy="455.8" r="2.3" fill="#ff0000" stroke="none" stroke-width="0.5"/>
<circle cx="404" cy="461.6" r="2.3" fill="#ff0000" stroke="none" stroke-width="0.5"/>
<circle cx="418.1" cy="465.3" r="2.3" fill="#ff0000" stroke="none" stroke-width="0.5"/>
<circle cx="428.2" cy="467" r="2.3" fill="#ff0000" stroke="none" stroke-width="0.5"/>
<circle cx="443.3" cy="468.6" r="2.3" fill="#ff0000" stroke="none" stroke-width="0.5"/>
<rect x="271.5" y="358.5" width="182" height="139" fill="none" stroke="#3c3c3c" stroke-width="1.0"/>
<line x1="269.3" y1="497.5" x2="271.5" y2="497.5" stroke="#3c3c3c" stroke-width="0.9"/>
<text x="265.2" y="500.37" font-size="8.3" text-anchor="end" fill="#2a2a2a" stroke="#2a2a2a" stroke-width="0.18">0</text>
<line x1="269.3" y1="477.5" x2="271.5" y2="477.5" stroke="#3c3c3c" stroke-width="0.9"/>
<text x="265.2" y="480.47" font-size="8.3" text-anchor="end" fill="#2a2a2a" stroke="#2a2a2a" stroke-width="0.18">0.05</text>
<line x1="269.3" y1="458.5" x2="271.5" y2="458.5" stroke="#3c3c3c" stroke-width="0.9"/>
<text x="265.2" y="460.57" font-size="8.3" text-anchor="end" fill="#2a2a2a" stroke="#2a2a2a" stroke-width="0.18">0.10</text>
<line x1="269.3" y1="438.5" x2="271.5" y2="438.5" stroke="#3c3c3c" stroke-width="0.9"/>
<text x="265.2" y="440.67" font-size="8.3" text-anchor="end" fill="#2a2a2a" stroke="#2a2a2a" stroke-width="0.18">0.15</text>
<line x1="269.3" y1="418.5" x2="271.5" y2="418.5" stroke="#3c3c3c" stroke-width="0.9"/>
<text x="265.2" y="420.77" font-size="8.3" text-anchor="end" fill="#2a2a2a" stroke="#2a2a2a" stroke-width="0.18">0.20</text>
<line x1="269.3" y1="398.5" x2="271.5" y2="398.5" stroke="#3c3c3c" stroke-width="0.9"/>
<text x="265.2" y="400.87" font-size="8.3" text-anchor="end" fill="#2a2a2a" stroke="#2a2a2a" stroke-width="0.18">0.25</text>
<line x1="269.3" y1="378.5" x2="271.5" y2="378.5" stroke="#3c3c3c" stroke-width="0.9"/>
<text x="265.2" y="380.97" font-size="8.3" text-anchor="end" fill="#2a2a2a" stroke="#2a2a2a" stroke-width="0.18">0.30</text>
<line x1="269.3" y1="358.5" x2="271.5" y2="358.5" stroke="#3c3c3c" stroke-width="0.9"/>
<text x="265.2" y="361.07" font-size="8.3" text-anchor="end" fill="#2a2a2a" stroke="#2a2a2a" stroke-width="0.18">0.35</text>
<line x1="271.5" y1="497.5" x2="271.5" y2="499.8" stroke="#3c3c3c" stroke-width="0.9"/>
<text x="271" y="510.6" font-size="8.3" text-anchor="middle" fill="#2a2a2a" stroke="#2a2a2a" stroke-width="0.18">10<tspan font-size="5.64" baseline-shift="3.5">0</tspan></text>
<line x1="316.5" y1="497.5" x2="316.5" y2="499.8" stroke="#3c3c3c" stroke-width="0.9"/>
<text x="316.3" y="510.6" font-size="8.3" text-anchor="middle" fill="#2a2a2a" stroke="#2a2a2a" stroke-width="0.18">10<tspan font-size="5.64" baseline-shift="3.5">1</tspan></text>
<line x1="361.5" y1="497.5" x2="361.5" y2="499.8" stroke="#3c3c3c" stroke-width="0.9"/>
<text x="361.6" y="510.6" font-size="8.3" text-anchor="middle" fill="#2a2a2a" stroke="#2a2a2a" stroke-width="0.18">10<tspan font-size="5.64" baseline-shift="3.5">2</tspan></text>
<line x1="406.5" y1="497.5" x2="406.5" y2="499.8" stroke="#3c3c3c" stroke-width="0.9"/>
<text x="406.9" y="510.6" font-size="8.3" text-anchor="middle" fill="#2a2a2a" stroke="#2a2a2a" stroke-width="0.18">10<tspan font-size="5.64" baseline-shift="3.5">3</tspan></text>
<line x1="452.5" y1="497.5" x2="452.5" y2="499.8" stroke="#3c3c3c" stroke-width="0.9"/>
<text x="452.2" y="510.6" font-size="8.3" text-anchor="middle" fill="#2a2a2a" stroke="#2a2a2a" stroke-width="0.18">10<tspan font-size="5.64" baseline-shift="3.5">4</tspan></text>
<line x1="284.5" y1="497.5" x2="284.5" y2="499" stroke="#3c3c3c" stroke-width="0.7"/>
<line x1="292.5" y1="497.5" x2="292.5" y2="499" stroke="#3c3c3c" stroke-width="0.7"/>
<line x1="298.5" y1="497.5" x2="298.5" y2="499" stroke="#3c3c3c" stroke-width="0.7"/>
<line x1="302.5" y1="497.5" x2="302.5" y2="499" stroke="#3c3c3c" stroke-width="0.7"/>
<line x1="306.5" y1="497.5" x2="306.5" y2="499" stroke="#3c3c3c" stroke-width="0.7"/>
<line x1="309.5" y1="497.5" x2="309.5" y2="499" stroke="#3c3c3c" stroke-width="0.7"/>
<line x1="311.5" y1="497.5" x2="311.5" y2="499" stroke="#3c3c3c" stroke-width="0.7"/>
<line x1="314.5" y1="497.5" x2="314.5" y2="499" stroke="#3c3c3c" stroke-width="0.7"/>
<line x1="329.5" y1="497.5" x2="329.5" y2="499" stroke="#3c3c3c" stroke-width="0.7"/>
<line x1="337.5" y1="497.5" x2="337.5" y2="499" stroke="#3c3c3c" stroke-width="0.7"/>
<line x1="343.5" y1="497.5" x2="343.5" y2="499" stroke="#3c3c3c" stroke-width="0.7"/>
<line x1="347.5" y1="497.5" x2="347.5" y2="499" stroke="#3c3c3c" stroke-width="0.7"/>
<line x1="351.5" y1="497.5" x2="351.5" y2="499" stroke="#3c3c3c" stroke-width="0.7"/>
<line x1="354.5" y1="497.5" x2="354.5" y2="499" stroke="#3c3c3c" stroke-width="0.7"/>
<line x1="357.5" y1="497.5" x2="357.5" y2="499" stroke="#3c3c3c" stroke-width="0.7"/>
<line x1="359.5" y1="497.5" x2="359.5" y2="499" stroke="#3c3c3c" stroke-width="0.7"/>
<line x1="375.5" y1="497.5" x2="375.5" y2="499" stroke="#3c3c3c" stroke-width="0.7"/>
<line x1="383.5" y1="497.5" x2="383.5" y2="499" stroke="#3c3c3c" stroke-width="0.7"/>
<line x1="388.5" y1="497.5" x2="388.5" y2="499" stroke="#3c3c3c" stroke-width="0.7"/>
<line x1="393.5" y1="497.5" x2="393.5" y2="499" stroke="#3c3c3c" stroke-width="0.7"/>
<line x1="396.5" y1="497.5" x2="396.5" y2="499" stroke="#3c3c3c" stroke-width="0.7"/>
<line x1="399.5" y1="497.5" x2="399.5" y2="499" stroke="#3c3c3c" stroke-width="0.7"/>
<line x1="402.5" y1="497.5" x2="402.5" y2="499" stroke="#3c3c3c" stroke-width="0.7"/>
<line x1="404.5" y1="497.5" x2="404.5" y2="499" stroke="#3c3c3c" stroke-width="0.7"/>
<line x1="420.5" y1="497.5" x2="420.5" y2="499" stroke="#3c3c3c" stroke-width="0.7"/>
<line x1="428.5" y1="497.5" x2="428.5" y2="499" stroke="#3c3c3c" stroke-width="0.7"/>
<line x1="434.5" y1="497.5" x2="434.5" y2="499" stroke="#3c3c3c" stroke-width="0.7"/>
<line x1="438.5" y1="497.5" x2="438.5" y2="499" stroke="#3c3c3c" stroke-width="0.7"/>
<line x1="442.5" y1="497.5" x2="442.5" y2="499" stroke="#3c3c3c" stroke-width="0.7"/>
<line x1="445.5" y1="497.5" x2="445.5" y2="499" stroke="#3c3c3c" stroke-width="0.7"/>
<line x1="447.5" y1="497.5" x2="447.5" y2="499" stroke="#3c3c3c" stroke-width="0.7"/>
<line x1="450.5" y1="497.5" x2="450.5" y2="499" stroke="#3c3c3c" stroke-width="0.7"/>
<text x="360.5" y="523.8" font-size="8.8" text-anchor="middle" fill="#2a2a2a" stroke="#2a2a2a" stroke-width="0.18">Time (s)</text>
<text x="240.9" y="430" font-size="8.8" text-anchor="middle" fill="#2a2a2a" stroke="#2a2a2a" stroke-width="0.18" transform="rotate(-90 240.9 430)"><tspan font-style="italic">Γ</tspan> (N m<tspan font-size="6" baseline-shift="3.72">-1</tspan>)</text>
<text x="465.6" y="359.6" font-size="12" font-weight="bold" fill="#000">j</text>
<circle cx="516.25" cy="481.4" r="1.3" fill="#6c6c6c" stroke="none" stroke-width="0.5"/>
<circle cx="516.25" cy="483.5" r="1.3" fill="#6c6c6c" stroke="none" stroke-width="0.5"/>
<circle cx="516.25" cy="485" r="1.3" fill="#6c6c6c" stroke="none" stroke-width="0.5"/>
<circle cx="516.25" cy="486.5" r="1.3" fill="#6c6c6c" stroke="none" stroke-width="0.5"/>
<circle cx="516.25" cy="488" r="1.3" fill="#6c6c6c" stroke="none" stroke-width="0.5"/>
<circle cx="516.25" cy="489.5" r="1.3" fill="#6c6c6c" stroke="none" stroke-width="0.5"/>
<circle cx="516.25" cy="490.5" r="1.3" fill="#6c6c6c" stroke="none" stroke-width="0.5"/>
<circle cx="555.11" cy="464.3" r="1.3" fill="#6c6c6c" stroke="none" stroke-width="0.5"/>
<circle cx="555.11" cy="481.8" r="1.3" fill="#6c6c6c" stroke="none" stroke-width="0.5"/>
<circle cx="555.11" cy="483" r="1.3" fill="#6c6c6c" stroke="none" stroke-width="0.5"/>
<circle cx="555.11" cy="484.2" r="1.3" fill="#6c6c6c" stroke="none" stroke-width="0.5"/>
<circle cx="555.11" cy="485.4" r="1.3" fill="#6c6c6c" stroke="none" stroke-width="0.5"/>
<circle cx="555.11" cy="486.6" r="1.3" fill="#6c6c6c" stroke="none" stroke-width="0.5"/>
<circle cx="555.11" cy="487.6" r="1.3" fill="#6c6c6c" stroke="none" stroke-width="0.5"/>
<circle cx="597.7" cy="443.3" r="1.3" fill="#6c6c6c" stroke="none" stroke-width="0.5"/>
<circle cx="597.7" cy="449" r="1.3" fill="#6c6c6c" stroke="none" stroke-width="0.5"/>
<circle cx="597.7" cy="456" r="1.3" fill="#6c6c6c" stroke="none" stroke-width="0.5"/>
<circle cx="597.7" cy="459" r="1.3" fill="#6c6c6c" stroke="none" stroke-width="0.5"/>
<circle cx="597.7" cy="462.7" r="1.3" fill="#6c6c6c" stroke="none" stroke-width="0.5"/>
<circle cx="597.7" cy="470.8" r="1.3" fill="#6c6c6c" stroke="none" stroke-width="0.5"/>
<circle cx="597.7" cy="478.2" r="1.3" fill="#6c6c6c" stroke="none" stroke-width="0.5"/>
<circle cx="597.7" cy="482" r="1.3" fill="#6c6c6c" stroke="none" stroke-width="0.5"/>
<circle cx="622.22" cy="425" r="1.3" fill="#6c6c6c" stroke="none" stroke-width="0.5"/>
<circle cx="622.22" cy="433" r="1.3" fill="#6c6c6c" stroke="none" stroke-width="0.5"/>
<circle cx="622.22" cy="435.2" r="1.3" fill="#6c6c6c" stroke="none" stroke-width="0.5"/>
<circle cx="622.22" cy="437.4" r="1.3" fill="#6c6c6c" stroke="none" stroke-width="0.5"/>
<circle cx="622.22" cy="439.5" r="1.3" fill="#6c6c6c" stroke="none" stroke-width="0.5"/>
<circle cx="622.22" cy="441.6" r="1.3" fill="#6c6c6c" stroke="none" stroke-width="0.5"/>
<circle cx="622.22" cy="446" r="1.3" fill="#6c6c6c" stroke="none" stroke-width="0.5"/>
<circle cx="622.22" cy="450" r="1.3" fill="#6c6c6c" stroke="none" stroke-width="0.5"/>
<circle cx="622.22" cy="456.2" r="1.3" fill="#6c6c6c" stroke="none" stroke-width="0.5"/>
<circle cx="622.22" cy="466.8" r="1.3" fill="#6c6c6c" stroke="none" stroke-width="0.5"/>
<circle cx="636.56" cy="364.8" r="1.3" fill="#6c6c6c" stroke="none" stroke-width="0.5"/>
<circle cx="636.56" cy="392.7" r="1.3" fill="#6c6c6c" stroke="none" stroke-width="0.5"/>
<circle cx="636.56" cy="423.1" r="1.3" fill="#6c6c6c" stroke="none" stroke-width="0.5"/>
<circle cx="636.56" cy="440.8" r="1.3" fill="#6c6c6c" stroke="none" stroke-width="0.5"/>
<circle cx="636.56" cy="444.2" r="1.3" fill="#6c6c6c" stroke="none" stroke-width="0.5"/>
<circle cx="636.56" cy="447.6" r="1.3" fill="#6c6c6c" stroke="none" stroke-width="0.5"/>
<circle cx="636.56" cy="456.2" r="1.3" fill="#6c6c6c" stroke="none" stroke-width="0.5"/>
<circle cx="636.56" cy="462.2" r="1.3" fill="#6c6c6c" stroke="none" stroke-width="0.5"/>
<circle cx="636.56" cy="467.3" r="1.3" fill="#6c6c6c" stroke="none" stroke-width="0.5"/>
<circle cx="636.56" cy="472" r="1.3" fill="#6c6c6c" stroke="none" stroke-width="0.5"/>
<circle cx="511.25" cy="474.6" r="1.25" fill="#000" stroke="none" stroke-width="0.5"/>
<circle cx="511.25" cy="481.4" r="1.25" fill="#000" stroke="none" stroke-width="0.5"/>
<circle cx="511.25" cy="488" r="1.25" fill="#000" stroke="none" stroke-width="0.5"/>
<circle cx="511.25" cy="489" r="1.25" fill="#000" stroke="none" stroke-width="0.5"/>
<circle cx="511.25" cy="490.1" r="1.25" fill="#000" stroke="none" stroke-width="0.5"/>
<circle cx="511.25" cy="491.1" r="1.25" fill="#000" stroke="none" stroke-width="0.5"/>
<circle cx="511.25" cy="492.2" r="1.25" fill="#000" stroke="none" stroke-width="0.5"/>
<circle cx="550.11" cy="483.6" r="1.25" fill="#000" stroke="none" stroke-width="0.5"/>
<circle cx="550.11" cy="484.8" r="1.25" fill="#000" stroke="none" stroke-width="0.5"/>
<circle cx="550.11" cy="486" r="1.25" fill="#000" stroke="none" stroke-width="0.5"/>
<circle cx="550.11" cy="487.2" r="1.25" fill="#000" stroke="none" stroke-width="0.5"/>
<circle cx="550.11" cy="488.4" r="1.25" fill="#000" stroke="none" stroke-width="0.5"/>
<circle cx="550.11" cy="489.8" r="1.25" fill="#000" stroke="none" stroke-width="0.5"/>
<circle cx="550.11" cy="491.2" r="1.25" fill="#000" stroke="none" stroke-width="0.5"/>
<circle cx="592.7" cy="483.6" r="1.25" fill="#000" stroke="none" stroke-width="0.5"/>
<circle cx="592.7" cy="484.8" r="1.25" fill="#000" stroke="none" stroke-width="0.5"/>
<circle cx="592.7" cy="486" r="1.25" fill="#000" stroke="none" stroke-width="0.5"/>
<circle cx="592.7" cy="487.2" r="1.25" fill="#000" stroke="none" stroke-width="0.5"/>
<circle cx="592.7" cy="488.5" r="1.25" fill="#000" stroke="none" stroke-width="0.5"/>
<circle cx="592.7" cy="489.8" r="1.25" fill="#000" stroke="none" stroke-width="0.5"/>
<circle cx="592.7" cy="491" r="1.25" fill="#000" stroke="none" stroke-width="0.5"/>
<circle cx="617.22" cy="483.6" r="1.25" fill="#000" stroke="none" stroke-width="0.5"/>
<circle cx="617.22" cy="484.8" r="1.25" fill="#000" stroke="none" stroke-width="0.5"/>
<circle cx="617.22" cy="486" r="1.25" fill="#000" stroke="none" stroke-width="0.5"/>
<circle cx="617.22" cy="487.4" r="1.25" fill="#000" stroke="none" stroke-width="0.5"/>
<circle cx="617.22" cy="488.8" r="1.25" fill="#000" stroke="none" stroke-width="0.5"/>
<circle cx="631.56" cy="474.2" r="1.25" fill="#000" stroke="none" stroke-width="0.5"/>
<circle cx="631.56" cy="483.3" r="1.25" fill="#000" stroke="none" stroke-width="0.5"/>
<circle cx="631.56" cy="484.5" r="1.25" fill="#000" stroke="none" stroke-width="0.5"/>
<circle cx="631.56" cy="485.8" r="1.25" fill="#000" stroke="none" stroke-width="0.5"/>
<circle cx="631.56" cy="487" r="1.25" fill="#000" stroke="none" stroke-width="0.5"/>
<circle cx="631.56" cy="488.3" r="1.25" fill="#000" stroke="none" stroke-width="0.5"/>
<circle cx="631.56" cy="489.5" r="1.25" fill="#000" stroke="none" stroke-width="0.5"/>
<circle cx="631.56" cy="490.8" r="1.25" fill="#000" stroke="none" stroke-width="0.5"/>
<path d="M513.75,486.7 L676.65,486.7" stroke="#ff1010" stroke-width="1.0" fill="none" stroke-dasharray="1.2 1.4"/>
<path d="M513.75,483.7 L515.55,486.7 L513.75,489.7 L511.95,486.7 Z" stroke="none" stroke-width="0.8" fill="#fde725"/>
<path d="M538.27,483.7 L540.07,486.7 L538.27,489.7 L536.47,486.7 Z" stroke="none" stroke-width="0.8" fill="#bddf26"/>
<path d="M552.61,483.7 L554.41,486.7 L552.61,489.7 L550.81,486.7 Z" stroke="none" stroke-width="0.8" fill="#7ad151"/>
<path d="M570.68,483.7 L572.48,486.7 L570.68,489.7 L568.88,486.7 Z" stroke="none" stroke-width="0.8" fill="#3fbc73"/>
<path d="M582.58,483.7 L584.38,486.7 L582.58,489.7 L580.78,486.7 Z" stroke="none" stroke-width="0.8" fill="#26ad81"/>
<path d="M595.2,483.7 L597,486.7 L595.2,489.7 L593.4,486.7 Z" stroke="none" stroke-width="0.8" fill="#1e9c89"/>
<path d="M619.72,483.7 L621.52,486.7 L619.72,489.7 L617.92,486.7 Z" stroke="none" stroke-width="0.8" fill="#228b8d"/>
<path d="M634.06,483.7 L635.86,486.7 L634.06,489.7 L632.26,486.7 Z" stroke="none" stroke-width="0.8" fill="#2a788e"/>
<path d="M652.13,483.7 L653.93,486.7 L652.13,489.7 L650.33,486.7 Z" stroke="none" stroke-width="0.8" fill="#375a8c"/>
<path d="M664.03,483.7 L665.83,486.7 L664.03,489.7 L662.23,486.7 Z" stroke="none" stroke-width="0.8" fill="#414487"/>
<path d="M676.65,483.7 L678.45,486.7 L676.65,489.7 L674.85,486.7 Z" stroke="none" stroke-width="0.8" fill="#481a6c"/>
<path d="M513.8,482.7 L538.6,478 L552.8,473.9 L570.7,467.4 L582.7,461.7 L595.3,455.9 L619.7,445.9 L634.3,441.1 L652.1,436.8 L663.8,434.8 L676.6,433" stroke="#ff1010" stroke-width="1.1" fill="none" stroke-dasharray="3 1.8"/>
<circle cx="513.8" cy="482.7" r="2.3" fill="#fde725" stroke="none" stroke-width="0.5"/>
<circle cx="538.6" cy="478" r="2.3" fill="#bddf26" stroke="none" stroke-width="0.5"/>
<circle cx="552.8" cy="473.9" r="2.3" fill="#7ad151" stroke="none" stroke-width="0.5"/>
<circle cx="570.7" cy="467.4" r="2.3" fill="#3fbc73" stroke="none" stroke-width="0.5"/>
<circle cx="582.7" cy="461.7" r="2.3" fill="#26ad81" stroke="none" stroke-width="0.5"/>
<circle cx="595.3" cy="455.9" r="2.3" fill="#1e9c89" stroke="none" stroke-width="0.5"/>
<circle cx="619.7" cy="445.9" r="2.3" fill="#228b8d" stroke="none" stroke-width="0.5"/>
<circle cx="634.3" cy="441.1" r="2.3" fill="#2a788e" stroke="none" stroke-width="0.5"/>
<circle cx="652.1" cy="436.8" r="2.3" fill="#375a8c" stroke="none" stroke-width="0.5"/>
<circle cx="663.8" cy="434.8" r="2.3" fill="#414487" stroke="none" stroke-width="0.5"/>
<circle cx="676.6" cy="433" r="2.3" fill="#481a6c" stroke="none" stroke-width="0.5"/>
<rect x="503.5" y="358.5" width="181" height="139" fill="none" stroke="#3c3c3c" stroke-width="1.0"/>
<line x1="501.3" y1="492.5" x2="503.5" y2="492.5" stroke="#3c3c3c" stroke-width="0.9"/>
<text x="497.7" y="494.77" font-size="8.3" text-anchor="end" fill="#2a2a2a" stroke="#2a2a2a" stroke-width="0.18">0</text>
<line x1="501.3" y1="465.5" x2="503.5" y2="465.5" stroke="#3c3c3c" stroke-width="0.9"/>
<text x="497.7" y="467.57" font-size="8.3" text-anchor="end" fill="#2a2a2a" stroke="#2a2a2a" stroke-width="0.18">0.05</text>
<line x1="501.3" y1="437.5" x2="503.5" y2="437.5" stroke="#3c3c3c" stroke-width="0.9"/>
<text x="497.7" y="440.37" font-size="8.3" text-anchor="end" fill="#2a2a2a" stroke="#2a2a2a" stroke-width="0.18">0.10</text>
<line x1="501.3" y1="410.5" x2="503.5" y2="410.5" stroke="#3c3c3c" stroke-width="0.9"/>
<text x="497.7" y="413.17" font-size="8.3" text-anchor="end" fill="#2a2a2a" stroke="#2a2a2a" stroke-width="0.18">0.15</text>
<line x1="501.3" y1="383.5" x2="503.5" y2="383.5" stroke="#3c3c3c" stroke-width="0.9"/>
<text x="497.7" y="385.97" font-size="8.3" text-anchor="end" fill="#2a2a2a" stroke="#2a2a2a" stroke-width="0.18">0.20</text>
<line x1="513.5" y1="497.5" x2="513.5" y2="499.8" stroke="#3c3c3c" stroke-width="0.9"/>
<text x="513.75" y="510.5" font-size="8.3" text-anchor="middle" fill="#2a2a2a" stroke="#2a2a2a" stroke-width="0.18">10<tspan font-size="5.64" baseline-shift="3.5">-1</tspan></text>
<line x1="595.5" y1="497.5" x2="595.5" y2="499.8" stroke="#3c3c3c" stroke-width="0.9"/>
<text x="595.2" y="510.5" font-size="8.3" text-anchor="middle" fill="#2a2a2a" stroke="#2a2a2a" stroke-width="0.18">10<tspan font-size="5.64" baseline-shift="3.5">0</tspan></text>
<line x1="676.5" y1="497.5" x2="676.5" y2="499.8" stroke="#3c3c3c" stroke-width="0.9"/>
<text x="676.65" y="510.5" font-size="8.3" text-anchor="middle" fill="#2a2a2a" stroke="#2a2a2a" stroke-width="0.18">10<tspan font-size="5.64" baseline-shift="3.5">1</tspan></text>
<line x1="505.5" y1="497.5" x2="505.5" y2="499" stroke="#3c3c3c" stroke-width="0.7"/>
<line x1="510.5" y1="497.5" x2="510.5" y2="499" stroke="#3c3c3c" stroke-width="0.7"/>
<line x1="538.5" y1="497.5" x2="538.5" y2="499" stroke="#3c3c3c" stroke-width="0.7"/>
<line x1="552.5" y1="497.5" x2="552.5" y2="499" stroke="#3c3c3c" stroke-width="0.7"/>
<line x1="562.5" y1="497.5" x2="562.5" y2="499" stroke="#3c3c3c" stroke-width="0.7"/>
<line x1="570.5" y1="497.5" x2="570.5" y2="499" stroke="#3c3c3c" stroke-width="0.7"/>
<line x1="577.5" y1="497.5" x2="577.5" y2="499" stroke="#3c3c3c" stroke-width="0.7"/>
<line x1="582.5" y1="497.5" x2="582.5" y2="499" stroke="#3c3c3c" stroke-width="0.7"/>
<line x1="587.5" y1="497.5" x2="587.5" y2="499" stroke="#3c3c3c" stroke-width="0.7"/>
<line x1="591.5" y1="497.5" x2="591.5" y2="499" stroke="#3c3c3c" stroke-width="0.7"/>
<line x1="619.5" y1="497.5" x2="619.5" y2="499" stroke="#3c3c3c" stroke-width="0.7"/>
<line x1="634.5" y1="497.5" x2="634.5" y2="499" stroke="#3c3c3c" stroke-width="0.7"/>
<line x1="644.5" y1="497.5" x2="644.5" y2="499" stroke="#3c3c3c" stroke-width="0.7"/>
<line x1="652.5" y1="497.5" x2="652.5" y2="499" stroke="#3c3c3c" stroke-width="0.7"/>
<line x1="658.5" y1="497.5" x2="658.5" y2="499" stroke="#3c3c3c" stroke-width="0.7"/>
<line x1="664.5" y1="497.5" x2="664.5" y2="499" stroke="#3c3c3c" stroke-width="0.7"/>
<line x1="668.5" y1="497.5" x2="668.5" y2="499" stroke="#3c3c3c" stroke-width="0.7"/>
<line x1="672.5" y1="497.5" x2="672.5" y2="499" stroke="#3c3c3c" stroke-width="0.7"/>
<text x="593.8" y="523.3" font-size="8.8" text-anchor="middle" fill="#2a2a2a" stroke="#2a2a2a" stroke-width="0.18">Strain rate (% s<tspan font-size="6" baseline-shift="3.72">-1</tspan>)</text>
<text x="471.5" y="429" font-size="8.8" text-anchor="middle" fill="#2a2a2a" stroke="#2a2a2a" stroke-width="0.18" transform="rotate(-90 471.5 429)">d<tspan font-style="italic">Γ</tspan>/d<tspan font-style="italic">ε</tspan></text>
<text x="658.2" y="428.4" font-size="8.3" fill="#2a2a2a" stroke="#2a2a2a" stroke-width="0.18">120%</text>
<text x="660.3" y="480.6" font-size="8.3" fill="#2a2a2a" stroke="#2a2a2a" stroke-width="0.18">15%</text>
<text x="-0.5" y="536.8" font-size="12" font-weight="bold" fill="#000">k</text>
<line x1="48.9" y1="642" x2="48.9" y2="648.1" stroke="#fde725" stroke-width="2.8" stroke-linecap="round"/>
<line x1="73.77" y1="640.7" x2="73.77" y2="646.7" stroke="#bddf26" stroke-width="2.8" stroke-linecap="round"/>
<line x1="88.31" y1="639.9" x2="88.31" y2="645.4" stroke="#7ad151" stroke-width="2.8" stroke-linecap="round"/>
<line x1="106.63" y1="633.9" x2="106.63" y2="640.7" stroke="#3fbc73" stroke-width="2.8" stroke-linecap="round"/>
<line x1="118.71" y1="630.7" x2="118.71" y2="634.6" stroke="#26ad81" stroke-width="2.8" stroke-linecap="round"/>
<line x1="131.5" y1="621" x2="131.5" y2="625.9" stroke="#1e9c89" stroke-width="2.8" stroke-linecap="round"/>
<line x1="156.37" y1="599.3" x2="156.37" y2="609.2" stroke="#228b8d" stroke-width="2.8" stroke-linecap="round"/>
<line x1="170.91" y1="586.7" x2="170.91" y2="599.5" stroke="#2a788e" stroke-width="2.8" stroke-linecap="round"/>
<line x1="189.23" y1="573.2" x2="189.23" y2="592.2" stroke="#375a8c" stroke-width="2.8" stroke-linecap="round"/>
<line x1="201.31" y1="565.1" x2="201.31" y2="583.5" stroke="#414487" stroke-width="2.8" stroke-linecap="round"/>
<line x1="214.1" y1="558.3" x2="214.1" y2="581.4" stroke="#481a6c" stroke-width="2.8" stroke-linecap="round"/>
<circle cx="51.3" cy="650.2" r="1.3" fill="#6c6c6c" stroke="none" stroke-width="0.5"/>
<circle cx="51.3" cy="654.2" r="1.3" fill="#6c6c6c" stroke="none" stroke-width="0.5"/>
<circle cx="51.3" cy="658.3" r="1.3" fill="#6c6c6c" stroke="none" stroke-width="0.5"/>
<circle cx="51.3" cy="661.8" r="1.3" fill="#6c6c6c" stroke="none" stroke-width="0.5"/>
<circle cx="51.3" cy="665" r="1.3" fill="#6c6c6c" stroke="none" stroke-width="0.5"/>
<circle cx="90.71" cy="609.1" r="1.3" fill="#6c6c6c" stroke="none" stroke-width="0.5"/>
<circle cx="90.71" cy="635.3" r="1.3" fill="#6c6c6c" stroke="none" stroke-width="0.5"/>
<circle cx="90.71" cy="646.1" r="1.3" fill="#6c6c6c" stroke="none" stroke-width="0.5"/>
<circle cx="90.71" cy="648.8" r="1.3" fill="#6c6c6c" stroke="none" stroke-width="0.5"/>
<circle cx="90.71" cy="651.5" r="1.3" fill="#6c6c6c" stroke="none" stroke-width="0.5"/>
<circle cx="90.71" cy="654.8" r="1.3" fill="#6c6c6c" stroke="none" stroke-width="0.5"/>
<circle cx="90.71" cy="658.8" r="1.3" fill="#6c6c6c" stroke="none" stroke-width="0.5"/>
<circle cx="133.9" cy="567.3" r="1.3" fill="#6c6c6c" stroke="none" stroke-width="0.5"/>
<circle cx="133.9" cy="598.3" r="1.3" fill="#6c6c6c" stroke="none" stroke-width="0.5"/>
<circle cx="133.9" cy="608.9" r="1.3" fill="#6c6c6c" stroke="none" stroke-width="0.5"/>
<circle cx="133.9" cy="614.3" r="1.3" fill="#6c6c6c" stroke="none" stroke-width="0.5"/>
<circle cx="133.9" cy="632.6" r="1.3" fill="#6c6c6c" stroke="none" stroke-width="0.5"/>
<circle cx="133.9" cy="635.5" r="1.3" fill="#6c6c6c" stroke="none" stroke-width="0.5"/>
<circle cx="133.9" cy="638.6" r="1.3" fill="#6c6c6c" stroke="none" stroke-width="0.5"/>
<circle cx="158.77" cy="588.6" r="1.3" fill="#6c6c6c" stroke="none" stroke-width="0.5"/>
<circle cx="158.77" cy="595" r="1.3" fill="#6c6c6c" stroke="none" stroke-width="0.5"/>
<circle cx="158.77" cy="597.5" r="1.3" fill="#6c6c6c" stroke="none" stroke-width="0.5"/>
<circle cx="158.77" cy="601" r="1.3" fill="#6c6c6c" stroke="none" stroke-width="0.5"/>
<circle cx="158.77" cy="605.5" r="1.3" fill="#6c6c6c" stroke="none" stroke-width="0.5"/>
<circle cx="158.77" cy="607.8" r="1.3" fill="#6c6c6c" stroke="none" stroke-width="0.5"/>
<circle cx="158.77" cy="610.5" r="1.3" fill="#6c6c6c" stroke="none" stroke-width="0.5"/>
<circle cx="158.77" cy="617.8" r="1.3" fill="#6c6c6c" stroke="none" stroke-width="0.5"/>
<circle cx="173.31" cy="538.9" r="1.3" fill="#6c6c6c" stroke="none" stroke-width="0.5"/>
<circle cx="173.31" cy="542.2" r="1.3" fill="#6c6c6c" stroke="none" stroke-width="0.5"/>
<circle cx="173.31" cy="569.2" r="1.3" fill="#6c6c6c" stroke="none" stroke-width="0.5"/>
<circle cx="173.31" cy="595" r="1.3" fill="#6c6c6c" stroke="none" stroke-width="0.5"/>
<circle cx="173.31" cy="600.8" r="1.3" fill="#6c6c6c" stroke="none" stroke-width="0.5"/>
<circle cx="173.31" cy="605.5" r="1.3" fill="#6c6c6c" stroke="none" stroke-width="0.5"/>
<circle cx="173.31" cy="607" r="1.3" fill="#6c6c6c" stroke="none" stroke-width="0.5"/>
<circle cx="173.31" cy="615.9" r="1.3" fill="#6c6c6c" stroke="none" stroke-width="0.5"/>
<circle cx="173.31" cy="630" r="1.3" fill="#6c6c6c" stroke="none" stroke-width="0.5"/>
<circle cx="173.31" cy="634.8" r="1.3" fill="#6c6c6c" stroke="none" stroke-width="0.5"/>
<path d="M48.9,645.6 L73.8,643.4 L88.6,641.5 L106.7,637.5 L118.3,633.2 L131.8,623.2 L156.1,604.3 L171,592.7 L189,581.3 L201.2,573.7 L214.2,566.5" stroke="#ff1010" stroke-width="1.1" fill="none" stroke-dasharray="3.2 1.8" stroke-linejoin="round"/>
<rect x="40.5" y="532.5" width="182" height="139" fill="none" stroke="#3c3c3c" stroke-width="1.0"/>
<line x1="48.5" y1="671.5" x2="48.5" y2="673.8" stroke="#3c3c3c" stroke-width="0.9"/>
<text x="48.9" y="684.7" font-size="7.8" text-anchor="middle" fill="#2a2a2a" stroke="#2a2a2a" stroke-width="0.18">10<tspan font-size="5.3" baseline-shift="3.29">-1</tspan></text>
<line x1="131.5" y1="671.5" x2="131.5" y2="673.8" stroke="#3c3c3c" stroke-width="0.9"/>
<text x="131.5" y="684.7" font-size="7.8" text-anchor="middle" fill="#2a2a2a" stroke="#2a2a2a" stroke-width="0.18">10<tspan font-size="5.3" baseline-shift="3.29">0</tspan></text>
<line x1="214.5" y1="671.5" x2="214.5" y2="673.8" stroke="#3c3c3c" stroke-width="0.9"/>
<text x="214.1" y="684.7" font-size="7.8" text-anchor="middle" fill="#2a2a2a" stroke="#2a2a2a" stroke-width="0.18">10<tspan font-size="5.3" baseline-shift="3.29">1</tspan></text>
<line x1="40.5" y1="671.5" x2="40.5" y2="673" stroke="#3c3c3c" stroke-width="0.7"/>
<line x1="45.5" y1="671.5" x2="45.5" y2="673" stroke="#3c3c3c" stroke-width="0.7"/>
<line x1="73.5" y1="671.5" x2="73.5" y2="673" stroke="#3c3c3c" stroke-width="0.7"/>
<line x1="88.5" y1="671.5" x2="88.5" y2="673" stroke="#3c3c3c" stroke-width="0.7"/>
<line x1="98.5" y1="671.5" x2="98.5" y2="673" stroke="#3c3c3c" stroke-width="0.7"/>
<line x1="106.5" y1="671.5" x2="106.5" y2="673" stroke="#3c3c3c" stroke-width="0.7"/>
<line x1="113.5" y1="671.5" x2="113.5" y2="673" stroke="#3c3c3c" stroke-width="0.7"/>
<line x1="118.5" y1="671.5" x2="118.5" y2="673" stroke="#3c3c3c" stroke-width="0.7"/>
<line x1="123.5" y1="671.5" x2="123.5" y2="673" stroke="#3c3c3c" stroke-width="0.7"/>
<line x1="127.5" y1="671.5" x2="127.5" y2="673" stroke="#3c3c3c" stroke-width="0.7"/>
<line x1="156.5" y1="671.5" x2="156.5" y2="673" stroke="#3c3c3c" stroke-width="0.7"/>
<line x1="170.5" y1="671.5" x2="170.5" y2="673" stroke="#3c3c3c" stroke-width="0.7"/>
<line x1="181.5" y1="671.5" x2="181.5" y2="673" stroke="#3c3c3c" stroke-width="0.7"/>
<line x1="189.5" y1="671.5" x2="189.5" y2="673" stroke="#3c3c3c" stroke-width="0.7"/>
<line x1="195.5" y1="671.5" x2="195.5" y2="673" stroke="#3c3c3c" stroke-width="0.7"/>
<line x1="201.5" y1="671.5" x2="201.5" y2="673" stroke="#3c3c3c" stroke-width="0.7"/>
<line x1="206.5" y1="671.5" x2="206.5" y2="673" stroke="#3c3c3c" stroke-width="0.7"/>
<line x1="210.5" y1="671.5" x2="210.5" y2="673" stroke="#3c3c3c" stroke-width="0.7"/>
<text x="131.35" y="697.5" font-size="8.8" text-anchor="middle" fill="#2a2a2a" stroke="#2a2a2a" stroke-width="0.18">Strain rate (% s<tspan font-size="6" baseline-shift="3.72">-1</tspan>)</text>
<line x1="38.3" y1="655.5" x2="40.5" y2="655.5" stroke="#3c3c3c" stroke-width="0.9"/>
<text x="34.6" y="657.97" font-size="8.3" text-anchor="end" fill="#2a2a2a" stroke="#2a2a2a" stroke-width="0.18">0.05</text>
<line x1="38.3" y1="634.5" x2="40.5" y2="634.5" stroke="#3c3c3c" stroke-width="0.9"/>
<text x="34.6" y="636.82" font-size="8.3" text-anchor="end" fill="#2a2a2a" stroke="#2a2a2a" stroke-width="0.18">0.10</text>
<line x1="38.3" y1="613.5" x2="40.5" y2="613.5" stroke="#3c3c3c" stroke-width="0.9"/>
<text x="34.6" y="615.67" font-size="8.3" text-anchor="end" fill="#2a2a2a" stroke="#2a2a2a" stroke-width="0.18">0.15</text>
<line x1="38.3" y1="591.5" x2="40.5" y2="591.5" stroke="#3c3c3c" stroke-width="0.9"/>
<text x="34.6" y="594.52" font-size="8.3" text-anchor="end" fill="#2a2a2a" stroke="#2a2a2a" stroke-width="0.18">0.20</text>
<line x1="38.3" y1="570.5" x2="40.5" y2="570.5" stroke="#3c3c3c" stroke-width="0.9"/>
<text x="34.6" y="573.37" font-size="8.3" text-anchor="end" fill="#2a2a2a" stroke="#2a2a2a" stroke-width="0.18">0.25</text>
<line x1="38.3" y1="549.5" x2="40.5" y2="549.5" stroke="#3c3c3c" stroke-width="0.9"/>
<text x="34.6" y="552.22" font-size="8.3" text-anchor="end" fill="#2a2a2a" stroke="#2a2a2a" stroke-width="0.18">0.30</text>
<text x="10.1" y="601" font-size="8.8" text-anchor="middle" fill="#2a2a2a" stroke="#2a2a2a" stroke-width="0.18" transform="rotate(-90 10.1 601)"><tspan font-style="italic">Γ</tspan>* (N m<tspan font-size="6" baseline-shift="3.72">-1</tspan>)</text>
<text x="236.2" y="536.8" font-size="12" font-weight="bold" fill="#000">l</text>
<line x1="280" y1="582.6" x2="280" y2="609.7" stroke="#fde725" stroke-width="3.2" stroke-linecap="round"/>
<line x1="304.87" y1="591.3" x2="304.87" y2="617.3" stroke="#bddf26" stroke-width="3.2" stroke-linecap="round"/>
<line x1="319.41" y1="604.8" x2="319.41" y2="626.5" stroke="#7ad151" stroke-width="3.2" stroke-linecap="round"/>
<line x1="337.73" y1="612.9" x2="337.73" y2="642.1" stroke="#3fbc73" stroke-width="3.2" stroke-linecap="round"/>
<line x1="349.81" y1="631.3" x2="349.81" y2="647.5" stroke="#26ad81" stroke-width="3.2" stroke-linecap="round"/>
<line x1="362.6" y1="640.7" x2="362.6" y2="651.6" stroke="#1e9c89" stroke-width="3.2" stroke-linecap="round"/>
<line x1="387.47" y1="650.1" x2="387.47" y2="655.6" stroke="#228b8d" stroke-width="3.2" stroke-linecap="round"/>
<line x1="402.01" y1="651.3" x2="402.01" y2="655.9" stroke="#2a788e" stroke-width="3.2" stroke-linecap="round"/>
<line x1="420.33" y1="651.8" x2="420.33" y2="656.9" stroke="#375a8c" stroke-width="3.2" stroke-linecap="round"/>
<line x1="432.41" y1="651.8" x2="432.41" y2="656.2" stroke="#414487" stroke-width="3.2" stroke-linecap="round"/>
<line x1="445.2" y1="651.8" x2="445.2" y2="656.9" stroke="#481a6c" stroke-width="3.2" stroke-linecap="round"/>
<circle cx="282.4" cy="538.53" r="1.3" fill="#6c6c6c" stroke="none" stroke-width="0.5"/>
<circle cx="282.4" cy="588.58" r="1.3" fill="#6c6c6c" stroke="none" stroke-width="0.5"/>
<circle cx="282.4" cy="591.66" r="1.3" fill="#6c6c6c" stroke="none" stroke-width="0.5"/>
<circle cx="282.4" cy="596.28" r="1.3" fill="#6c6c6c" stroke="none" stroke-width="0.5"/>
<circle cx="282.4" cy="624.77" r="1.3" fill="#6c6c6c" stroke="none" stroke-width="0.5"/>
<circle cx="321.81" cy="568.56" r="1.3" fill="#6c6c6c" stroke="none" stroke-width="0.5"/>
<circle cx="321.81" cy="587.04" r="1.3" fill="#6c6c6c" stroke="none" stroke-width="0.5"/>
<circle cx="321.81" cy="606.29" r="1.3" fill="#6c6c6c" stroke="none" stroke-width="0.5"/>
<circle cx="321.81" cy="608.6" r="1.3" fill="#6c6c6c" stroke="none" stroke-width="0.5"/>
<circle cx="321.81" cy="620.92" r="1.3" fill="#6c6c6c" stroke="none" stroke-width="0.5"/>
<circle cx="321.81" cy="627.85" r="1.3" fill="#6c6c6c" stroke="none" stroke-width="0.5"/>
<circle cx="321.81" cy="637.09" r="1.3" fill="#6c6c6c" stroke="none" stroke-width="0.5"/>
<circle cx="321.81" cy="640.17" r="1.3" fill="#6c6c6c" stroke="none" stroke-width="0.5"/>
<circle cx="321.81" cy="664.81" r="1.3" fill="#6c6c6c" stroke="none" stroke-width="0.5"/>
<circle cx="365" cy="613.99" r="1.3" fill="#6c6c6c" stroke="none" stroke-width="0.5"/>
<circle cx="365" cy="629.39" r="1.3" fill="#6c6c6c" stroke="none" stroke-width="0.5"/>
<circle cx="365" cy="633.24" r="1.3" fill="#6c6c6c" stroke="none" stroke-width="0.5"/>
<circle cx="365" cy="638.63" r="1.3" fill="#6c6c6c" stroke="none" stroke-width="0.5"/>
<circle cx="365" cy="641.71" r="1.3" fill="#6c6c6c" stroke="none" stroke-width="0.5"/>
<circle cx="365" cy="648.64" r="1.3" fill="#6c6c6c" stroke="none" stroke-width="0.5"/>
<circle cx="365" cy="653.26" r="1.3" fill="#6c6c6c" stroke="none" stroke-width="0.5"/>
<circle cx="365" cy="657.11" r="1.3" fill="#6c6c6c" stroke="none" stroke-width="0.5"/>
<circle cx="365" cy="660.19" r="1.3" fill="#6c6c6c" stroke="none" stroke-width="0.5"/>
<circle cx="365" cy="662.5" r="1.3" fill="#6c6c6c" stroke="none" stroke-width="0.5"/>
<circle cx="389.87" cy="628.62" r="1.3" fill="#6c6c6c" stroke="none" stroke-width="0.5"/>
<circle cx="389.87" cy="644.02" r="1.3" fill="#6c6c6c" stroke="none" stroke-width="0.5"/>
<circle cx="389.87" cy="648.64" r="1.3" fill="#6c6c6c" stroke="none" stroke-width="0.5"/>
<circle cx="389.87" cy="653.26" r="1.3" fill="#6c6c6c" stroke="none" stroke-width="0.5"/>
<circle cx="389.87" cy="655.57" r="1.3" fill="#6c6c6c" stroke="none" stroke-width="0.5"/>
<circle cx="389.87" cy="657.88" r="1.3" fill="#6c6c6c" stroke="none" stroke-width="0.5"/>
<circle cx="389.87" cy="660.19" r="1.3" fill="#6c6c6c" stroke="none" stroke-width="0.5"/>
<circle cx="389.87" cy="662.5" r="1.3" fill="#6c6c6c" stroke="none" stroke-width="0.5"/>
<circle cx="404.41" cy="624" r="1.3" fill="#6c6c6c" stroke="none" stroke-width="0.5"/>
<circle cx="404.41" cy="627.08" r="1.3" fill="#6c6c6c" stroke="none" stroke-width="0.5"/>
<circle cx="404.41" cy="640.17" r="1.3" fill="#6c6c6c" stroke="none" stroke-width="0.5"/>
<circle cx="404.41" cy="643.25" r="1.3" fill="#6c6c6c" stroke="none" stroke-width="0.5"/>
<circle cx="404.41" cy="652.49" r="1.3" fill="#6c6c6c" stroke="none" stroke-width="0.5"/>
<circle cx="404.41" cy="656.34" r="1.3" fill="#6c6c6c" stroke="none" stroke-width="0.5"/>
<circle cx="404.41" cy="659.42" r="1.3" fill="#6c6c6c" stroke="none" stroke-width="0.5"/>
<circle cx="404.41" cy="663.27" r="1.3" fill="#6c6c6c" stroke="none" stroke-width="0.5"/>
<path d="M279.5,597.5 L304.6,605.1 L319.1,615.9 L337.5,631.3 L349.1,640.2 L362.6,647.5 L386.9,653.4 L401.5,654.2 L419.9,654.5 L431.5,654.2 L444.7,653.7" stroke="#ff1010" stroke-width="1.1" fill="none" stroke-dasharray="3.2 1.8" stroke-linejoin="round"/>
<rect x="271.5" y="532.5" width="181" height="139" fill="none" stroke="#3c3c3c" stroke-width="1.0"/>
<line x1="280.5" y1="671.5" x2="280.5" y2="673.8" stroke="#3c3c3c" stroke-width="0.9"/>
<text x="280" y="684.7" font-size="7.8" text-anchor="middle" fill="#2a2a2a" stroke="#2a2a2a" stroke-width="0.18">10<tspan font-size="5.3" baseline-shift="3.29">-1</tspan></text>
<line x1="362.5" y1="671.5" x2="362.5" y2="673.8" stroke="#3c3c3c" stroke-width="0.9"/>
<text x="362.6" y="684.7" font-size="7.8" text-anchor="middle" fill="#2a2a2a" stroke="#2a2a2a" stroke-width="0.18">10<tspan font-size="5.3" baseline-shift="3.29">0</tspan></text>
<line x1="445.5" y1="671.5" x2="445.5" y2="673.8" stroke="#3c3c3c" stroke-width="0.9"/>
<text x="445.2" y="684.7" font-size="7.8" text-anchor="middle" fill="#2a2a2a" stroke="#2a2a2a" stroke-width="0.18">10<tspan font-size="5.3" baseline-shift="3.29">1</tspan></text>
<line x1="271.5" y1="671.5" x2="271.5" y2="673" stroke="#3c3c3c" stroke-width="0.7"/>
<line x1="276.5" y1="671.5" x2="276.5" y2="673" stroke="#3c3c3c" stroke-width="0.7"/>
<line x1="304.5" y1="671.5" x2="304.5" y2="673" stroke="#3c3c3c" stroke-width="0.7"/>
<line x1="319.5" y1="671.5" x2="319.5" y2="673" stroke="#3c3c3c" stroke-width="0.7"/>
<line x1="329.5" y1="671.5" x2="329.5" y2="673" stroke="#3c3c3c" stroke-width="0.7"/>
<line x1="337.5" y1="671.5" x2="337.5" y2="673" stroke="#3c3c3c" stroke-width="0.7"/>
<line x1="344.5" y1="671.5" x2="344.5" y2="673" stroke="#3c3c3c" stroke-width="0.7"/>
<line x1="349.5" y1="671.5" x2="349.5" y2="673" stroke="#3c3c3c" stroke-width="0.7"/>
<line x1="354.5" y1="671.5" x2="354.5" y2="673" stroke="#3c3c3c" stroke-width="0.7"/>
<line x1="358.5" y1="671.5" x2="358.5" y2="673" stroke="#3c3c3c" stroke-width="0.7"/>
<line x1="387.5" y1="671.5" x2="387.5" y2="673" stroke="#3c3c3c" stroke-width="0.7"/>
<line x1="402.5" y1="671.5" x2="402.5" y2="673" stroke="#3c3c3c" stroke-width="0.7"/>
<line x1="412.5" y1="671.5" x2="412.5" y2="673" stroke="#3c3c3c" stroke-width="0.7"/>
<line x1="420.5" y1="671.5" x2="420.5" y2="673" stroke="#3c3c3c" stroke-width="0.7"/>
<line x1="426.5" y1="671.5" x2="426.5" y2="673" stroke="#3c3c3c" stroke-width="0.7"/>
<line x1="432.5" y1="671.5" x2="432.5" y2="673" stroke="#3c3c3c" stroke-width="0.7"/>
<line x1="437.5" y1="671.5" x2="437.5" y2="673" stroke="#3c3c3c" stroke-width="0.7"/>
<line x1="441.5" y1="671.5" x2="441.5" y2="673" stroke="#3c3c3c" stroke-width="0.7"/>
<text x="361.85" y="697.5" font-size="8.8" text-anchor="middle" fill="#2a2a2a" stroke="#2a2a2a" stroke-width="0.18">Strain rate (% s<tspan font-size="6" baseline-shift="3.72">-1</tspan>)</text>
<line x1="269.3" y1="662.5" x2="271.5" y2="662.5" stroke="#3c3c3c" stroke-width="0.9"/>
<text x="265.4" y="665.07" font-size="8.3" text-anchor="end" fill="#2a2a2a" stroke="#2a2a2a" stroke-width="0.18">2</text>
<line x1="269.3" y1="631.5" x2="271.5" y2="631.5" stroke="#3c3c3c" stroke-width="0.9"/>
<text x="265.4" y="634.27" font-size="8.3" text-anchor="end" fill="#2a2a2a" stroke="#2a2a2a" stroke-width="0.18">4</text>
<line x1="269.3" y1="600.5" x2="271.5" y2="600.5" stroke="#3c3c3c" stroke-width="0.9"/>
<text x="265.4" y="603.47" font-size="8.3" text-anchor="end" fill="#2a2a2a" stroke="#2a2a2a" stroke-width="0.18">6</text>
<line x1="269.3" y1="570.5" x2="271.5" y2="570.5" stroke="#3c3c3c" stroke-width="0.9"/>
<text x="265.4" y="572.67" font-size="8.3" text-anchor="end" fill="#2a2a2a" stroke="#2a2a2a" stroke-width="0.18">8</text>
<line x1="269.3" y1="539.5" x2="271.5" y2="539.5" stroke="#3c3c3c" stroke-width="0.9"/>
<text x="265.4" y="541.87" font-size="8.3" text-anchor="end" fill="#2a2a2a" stroke="#2a2a2a" stroke-width="0.18">10</text>
<text x="250.2" y="602" font-size="9" text-anchor="middle" fill="#2a2a2a" stroke="#2a2a2a" stroke-width="0.18" transform="rotate(-90 250.2 602)"><tspan font-style="italic">ε</tspan>*</text>
<text x="464.6" y="536.8" font-size="12" font-weight="bold" fill="#000">m</text>
<line x1="511.5" y1="542.6" x2="511.5" y2="548.1" stroke="#fde725" stroke-width="2.8" stroke-linecap="round"/>
<line x1="536.33" y1="558.8" x2="536.33" y2="565.2" stroke="#bddf26" stroke-width="2.8" stroke-linecap="round"/>
<line x1="550.86" y1="570.5" x2="550.86" y2="576.8" stroke="#7ad151" stroke-width="2.8" stroke-linecap="round"/>
<line x1="569.17" y1="584" x2="569.17" y2="593.5" stroke="#3fbc73" stroke-width="2.8" stroke-linecap="round"/>
<line x1="581.22" y1="596.1" x2="581.22" y2="603" stroke="#26ad81" stroke-width="2.8" stroke-linecap="round"/>
<line x1="594" y1="608.3" x2="594" y2="612.4" stroke="#1e9c89" stroke-width="2.8" stroke-linecap="round"/>
<line x1="618.83" y1="627.2" x2="618.83" y2="630" stroke="#228b8d" stroke-width="2.8" stroke-linecap="round"/>
<line x1="633.36" y1="636.6" x2="633.36" y2="638.9" stroke="#2a788e" stroke-width="2.8" stroke-linecap="round"/>
<line x1="651.67" y1="647.4" x2="651.67" y2="650.2" stroke="#375a8c" stroke-width="2.8" stroke-linecap="round"/>
<line x1="663.72" y1="655" x2="663.72" y2="657" stroke="#414487" stroke-width="2.8" stroke-linecap="round"/>
<line x1="676.5" y1="662.3" x2="676.5" y2="665.1" stroke="#481a6c" stroke-width="2.8" stroke-linecap="round"/>
<circle cx="513.9" cy="538.9" r="1.3" fill="#6c6c6c" stroke="none" stroke-width="0.5"/>
<circle cx="513.9" cy="546" r="1.3" fill="#6c6c6c" stroke="none" stroke-width="0.5"/>
<circle cx="513.9" cy="549.4" r="1.3" fill="#6c6c6c" stroke="none" stroke-width="0.5"/>
<circle cx="513.9" cy="553" r="1.3" fill="#6c6c6c" stroke="none" stroke-width="0.5"/>
<circle cx="513.9" cy="557" r="1.3" fill="#6c6c6c" stroke="none" stroke-width="0.5"/>
<circle cx="553.26" cy="564.3" r="1.3" fill="#6c6c6c" stroke="none" stroke-width="0.5"/>
<circle cx="553.26" cy="567.8" r="1.3" fill="#6c6c6c" stroke="none" stroke-width="0.5"/>
<circle cx="553.26" cy="574.6" r="1.3" fill="#6c6c6c" stroke="none" stroke-width="0.5"/>
<circle cx="553.26" cy="577.3" r="1.3" fill="#6c6c6c" stroke="none" stroke-width="0.5"/>
<circle cx="553.26" cy="580.8" r="1.3" fill="#6c6c6c" stroke="none" stroke-width="0.5"/>
<circle cx="553.26" cy="584" r="1.3" fill="#6c6c6c" stroke="none" stroke-width="0.5"/>
<circle cx="553.26" cy="599.4" r="1.3" fill="#6c6c6c" stroke="none" stroke-width="0.5"/>
<circle cx="596.4" cy="602.9" r="1.3" fill="#6c6c6c" stroke="none" stroke-width="0.5"/>
<circle cx="596.4" cy="607" r="1.3" fill="#6c6c6c" stroke="none" stroke-width="0.5"/>
<circle cx="596.4" cy="609.7" r="1.3" fill="#6c6c6c" stroke="none" stroke-width="0.5"/>
<circle cx="596.4" cy="612.4" r="1.3" fill="#6c6c6c" stroke="none" stroke-width="0.5"/>
<circle cx="596.4" cy="615.9" r="1.3" fill="#6c6c6c" stroke="none" stroke-width="0.5"/>
<circle cx="596.4" cy="619.1" r="1.3" fill="#6c6c6c" stroke="none" stroke-width="0.5"/>
<circle cx="596.4" cy="623.2" r="1.3" fill="#6c6c6c" stroke="none" stroke-width="0.5"/>
<circle cx="621.23" cy="622.4" r="1.3" fill="#6c6c6c" stroke="none" stroke-width="0.5"/>
<circle cx="621.23" cy="627.8" r="1.3" fill="#6c6c6c" stroke="none" stroke-width="0.5"/>
<circle cx="621.23" cy="630.5" r="1.3" fill="#6c6c6c" stroke="none" stroke-width="0.5"/>
<circle cx="621.23" cy="634" r="1.3" fill="#6c6c6c" stroke="none" stroke-width="0.5"/>
<circle cx="621.23" cy="636.7" r="1.3" fill="#6c6c6c" stroke="none" stroke-width="0.5"/>
<circle cx="621.23" cy="638.6" r="1.3" fill="#6c6c6c" stroke="none" stroke-width="0.5"/>
<circle cx="635.76" cy="629.4" r="1.3" fill="#6c6c6c" stroke="none" stroke-width="0.5"/>
<circle cx="635.76" cy="632.6" r="1.3" fill="#6c6c6c" stroke="none" stroke-width="0.5"/>
<circle cx="635.76" cy="635.9" r="1.3" fill="#6c6c6c" stroke="none" stroke-width="0.5"/>
<circle cx="635.76" cy="639.4" r="1.3" fill="#6c6c6c" stroke="none" stroke-width="0.5"/>
<circle cx="635.76" cy="643.4" r="1.3" fill="#6c6c6c" stroke="none" stroke-width="0.5"/>
<circle cx="635.76" cy="647.5" r="1.3" fill="#6c6c6c" stroke="none" stroke-width="0.5"/>
<path d="M511.3,545.4 L536.5,561.9 L550.8,573.2 L568.9,588.1 L581,599.7 L593.7,610.5 L618.8,627.8 L633.1,637.5 L651.2,648.8 L663.4,655.6 L676.1,663.1" stroke="#ff1010" stroke-width="1.1" fill="none" stroke-dasharray="3.2 1.8" stroke-linejoin="round"/>
<rect x="503.5" y="532.5" width="181" height="139" fill="none" stroke="#3c3c3c" stroke-width="1.0"/>
<line x1="511.5" y1="671.5" x2="511.5" y2="673.8" stroke="#3c3c3c" stroke-width="0.9"/>
<text x="511.5" y="684.7" font-size="7.8" text-anchor="middle" fill="#2a2a2a" stroke="#2a2a2a" stroke-width="0.18">10<tspan font-size="5.3" baseline-shift="3.29">-1</tspan></text>
<line x1="594.5" y1="671.5" x2="594.5" y2="673.8" stroke="#3c3c3c" stroke-width="0.9"/>
<text x="594" y="684.7" font-size="7.8" text-anchor="middle" fill="#2a2a2a" stroke="#2a2a2a" stroke-width="0.18">10<tspan font-size="5.3" baseline-shift="3.29">0</tspan></text>
<line x1="676.5" y1="671.5" x2="676.5" y2="673.8" stroke="#3c3c3c" stroke-width="0.9"/>
<text x="676.5" y="684.7" font-size="7.8" text-anchor="middle" fill="#2a2a2a" stroke="#2a2a2a" stroke-width="0.18">10<tspan font-size="5.3" baseline-shift="3.29">1</tspan></text>
<line x1="503.5" y1="671.5" x2="503.5" y2="673" stroke="#3c3c3c" stroke-width="0.7"/>
<line x1="507.5" y1="671.5" x2="507.5" y2="673" stroke="#3c3c3c" stroke-width="0.7"/>
<line x1="536.5" y1="671.5" x2="536.5" y2="673" stroke="#3c3c3c" stroke-width="0.7"/>
<line x1="550.5" y1="671.5" x2="550.5" y2="673" stroke="#3c3c3c" stroke-width="0.7"/>
<line x1="561.5" y1="671.5" x2="561.5" y2="673" stroke="#3c3c3c" stroke-width="0.7"/>
<line x1="569.5" y1="671.5" x2="569.5" y2="673" stroke="#3c3c3c" stroke-width="0.7"/>
<line x1="575.5" y1="671.5" x2="575.5" y2="673" stroke="#3c3c3c" stroke-width="0.7"/>
<line x1="581.5" y1="671.5" x2="581.5" y2="673" stroke="#3c3c3c" stroke-width="0.7"/>
<line x1="586.5" y1="671.5" x2="586.5" y2="673" stroke="#3c3c3c" stroke-width="0.7"/>
<line x1="590.5" y1="671.5" x2="590.5" y2="673" stroke="#3c3c3c" stroke-width="0.7"/>
<line x1="618.5" y1="671.5" x2="618.5" y2="673" stroke="#3c3c3c" stroke-width="0.7"/>
<line x1="633.5" y1="671.5" x2="633.5" y2="673" stroke="#3c3c3c" stroke-width="0.7"/>
<line x1="643.5" y1="671.5" x2="643.5" y2="673" stroke="#3c3c3c" stroke-width="0.7"/>
<line x1="651.5" y1="671.5" x2="651.5" y2="673" stroke="#3c3c3c" stroke-width="0.7"/>
<line x1="658.5" y1="671.5" x2="658.5" y2="673" stroke="#3c3c3c" stroke-width="0.7"/>
<line x1="663.5" y1="671.5" x2="663.5" y2="673" stroke="#3c3c3c" stroke-width="0.7"/>
<line x1="668.5" y1="671.5" x2="668.5" y2="673" stroke="#3c3c3c" stroke-width="0.7"/>
<line x1="672.5" y1="671.5" x2="672.5" y2="673" stroke="#3c3c3c" stroke-width="0.7"/>
<text x="593.8" y="697.5" font-size="8.8" text-anchor="middle" fill="#2a2a2a" stroke="#2a2a2a" stroke-width="0.18">Strain rate (% s<tspan font-size="6" baseline-shift="3.72">-1</tspan>)</text>
<line x1="501.2" y1="634.5" x2="503.5" y2="634.5" stroke="#3c3c3c" stroke-width="0.9"/>
<text x="497.3" y="638.1" font-size="8.3" text-anchor="end" fill="#2a2a2a" stroke="#2a2a2a" stroke-width="0.18">10<tspan font-size="5.6" baseline-shift="3.47">2</tspan></text>
<line x1="501.2" y1="584.5" x2="503.5" y2="584.5" stroke="#3c3c3c" stroke-width="0.9"/>
<text x="497.3" y="588.15" font-size="8.3" text-anchor="end" fill="#2a2a2a" stroke="#2a2a2a" stroke-width="0.18">10<tspan font-size="5.6" baseline-shift="3.47">3</tspan></text>
<line x1="501.2" y1="534.5" x2="503.5" y2="534.5" stroke="#3c3c3c" stroke-width="0.9"/>
<text x="497.3" y="538.2" font-size="8.3" text-anchor="end" fill="#2a2a2a" stroke="#2a2a2a" stroke-width="0.18">10<tspan font-size="5.6" baseline-shift="3.47">4</tspan></text>
<line x1="502" y1="669.5" x2="503.5" y2="669.5" stroke="#3c3c3c" stroke-width="0.7"/>
<line x1="502" y1="660.5" x2="503.5" y2="660.5" stroke="#3c3c3c" stroke-width="0.7"/>
<line x1="502" y1="654.5" x2="503.5" y2="654.5" stroke="#3c3c3c" stroke-width="0.7"/>
<line x1="502" y1="649.5" x2="503.5" y2="649.5" stroke="#3c3c3c" stroke-width="0.7"/>
<line x1="502" y1="645.5" x2="503.5" y2="645.5" stroke="#3c3c3c" stroke-width="0.7"/>
<line x1="502" y1="642.5" x2="503.5" y2="642.5" stroke="#3c3c3c" stroke-width="0.7"/>
<line x1="502" y1="639.5" x2="503.5" y2="639.5" stroke="#3c3c3c" stroke-width="0.7"/>
<line x1="502" y1="637.5" x2="503.5" y2="637.5" stroke="#3c3c3c" stroke-width="0.7"/>
<line x1="502" y1="619.5" x2="503.5" y2="619.5" stroke="#3c3c3c" stroke-width="0.7"/>
<line x1="502" y1="610.5" x2="503.5" y2="610.5" stroke="#3c3c3c" stroke-width="0.7"/>
<line x1="502" y1="604.5" x2="503.5" y2="604.5" stroke="#3c3c3c" stroke-width="0.7"/>
<line x1="502" y1="599.5" x2="503.5" y2="599.5" stroke="#3c3c3c" stroke-width="0.7"/>
<line x1="502" y1="595.5" x2="503.5" y2="595.5" stroke="#3c3c3c" stroke-width="0.7"/>
<line x1="502" y1="592.5" x2="503.5" y2="592.5" stroke="#3c3c3c" stroke-width="0.7"/>
<line x1="502" y1="589.5" x2="503.5" y2="589.5" stroke="#3c3c3c" stroke-width="0.7"/>
<line x1="502" y1="587.5" x2="503.5" y2="587.5" stroke="#3c3c3c" stroke-width="0.7"/>
<line x1="502" y1="569.5" x2="503.5" y2="569.5" stroke="#3c3c3c" stroke-width="0.7"/>
<line x1="502" y1="561.5" x2="503.5" y2="561.5" stroke="#3c3c3c" stroke-width="0.7"/>
<line x1="502" y1="554.5" x2="503.5" y2="554.5" stroke="#3c3c3c" stroke-width="0.7"/>
<line x1="502" y1="549.5" x2="503.5" y2="549.5" stroke="#3c3c3c" stroke-width="0.7"/>
<line x1="502" y1="545.5" x2="503.5" y2="545.5" stroke="#3c3c3c" stroke-width="0.7"/>
<line x1="502" y1="542.5" x2="503.5" y2="542.5" stroke="#3c3c3c" stroke-width="0.7"/>
<line x1="502" y1="539.5" x2="503.5" y2="539.5" stroke="#3c3c3c" stroke-width="0.7"/>
<line x1="502" y1="537.5" x2="503.5" y2="537.5" stroke="#3c3c3c" stroke-width="0.7"/>
<text x="480.4" y="605.5" font-size="9" text-anchor="middle" fill="#2a2a2a" stroke="#2a2a2a" stroke-width="0.18" transform="rotate(-90 480.4 605.5)"><tspan font-style="italic">t</tspan>* (s)</text>
<text x="-0.5" y="713.5" font-size="12" font-weight="bold" fill="#000">n</text>
<path d="M57,769.5 L56.4,772 L54.1,776 L50.6,780 L47.1,784 L44.6,787 L43.6,792 L44.1,800 L45.6,804 L48.6,808 L52.1,811.5 L53.6,812.2 L63.6,812.2 L65.1,811.5 L68.6,808 L71.6,804 L73.1,800 L73.6,792 L72.6,787 L70.1,784 L66.6,780 L63.1,776 L60.8,772 L60.2,769.5 Z" stroke="none" stroke-width="0.8" fill="#a3cff5"/>
<line x1="58.8" y1="769.6" x2="58.8" y2="786" stroke="#2a5a95" stroke-width="0.9"/>
<line x1="58.8" y1="802.4" x2="58.8" y2="811.4" stroke="#2a5a95" stroke-width="0.9"/>
<line x1="51.3" y1="769.6" x2="66.3" y2="769.6" stroke="#3b6fb0" stroke-width="0.9"/>
<line x1="51.3" y1="811.4" x2="66.3" y2="811.4" stroke="#3b6fb0" stroke-width="0.9"/>
<rect x="44.2" y="786" width="29.2" height="16.4" fill="#5a9ee0" stroke="none" stroke-width="0.8" fill-opacity="0.14"/>
<rect x="44.2" y="786" width="29.2" height="16.4" fill="none" stroke="#3b6fb0" stroke-width="0.9"/>
<line x1="44.2" y1="793.1" x2="73.4" y2="793.1" stroke="#2a5a95" stroke-width="1.2"/>
<circle cx="59.2" cy="769.6" r="1.25" fill="#000" stroke="none" stroke-width="0.5"/>
<circle cx="51" cy="786" r="1.25" fill="#000" stroke="none" stroke-width="0.5"/>
<circle cx="58.6" cy="786" r="1.25" fill="#000" stroke="none" stroke-width="0.5"/>
<circle cx="53.7" cy="793.1" r="1.25" fill="#000" stroke="none" stroke-width="0.5"/>
<circle cx="66" cy="793.1" r="1.25" fill="#000" stroke="none" stroke-width="0.5"/>
<circle cx="47.9" cy="799.9" r="1.25" fill="#000" stroke="none" stroke-width="0.5"/>
<circle cx="64.6" cy="802.3" r="1.25" fill="#000" stroke="none" stroke-width="0.5"/>
<circle cx="58.6" cy="811.6" r="1.25" fill="#000" stroke="none" stroke-width="0.5"/>
<path d="M86,760.2 L84.5,762 L83,766 L81.4,772 L81,790 L81.2,808 L82,812 L84,814.6 L106,814.6 L108,812 L108.8,808 L109,790 L108.6,772 L107,766 L105.5,762 L104,760.2 Z" stroke="none" stroke-width="0.8" fill="#a3cff5"/>
<line x1="94.9" y1="760.3" x2="94.9" y2="772" stroke="#2a5a95" stroke-width="0.9"/>
<line x1="94.9" y1="809.2" x2="94.9" y2="814.1" stroke="#2a5a95" stroke-width="0.9"/>
<line x1="86.9" y1="760.3" x2="102.9" y2="760.3" stroke="#3b6fb0" stroke-width="0.9"/>
<line x1="86.9" y1="814.1" x2="102.9" y2="814.1" stroke="#3b6fb0" stroke-width="0.9"/>
<rect x="80.3" y="772" width="29.2" height="37.2" fill="#5a9ee0" stroke="none" stroke-width="0.8" fill-opacity="0.14"/>
<rect x="80.3" y="772" width="29.2" height="37.2" fill="none" stroke="#3b6fb0" stroke-width="0.9"/>
<line x1="80.3" y1="788.4" x2="109.5" y2="788.4" stroke="#2a5a95" stroke-width="1.2"/>
<circle cx="86" cy="760.3" r="1.25" fill="#000" stroke="none" stroke-width="0.5"/>
<circle cx="96.1" cy="764.9" r="1.25" fill="#000" stroke="none" stroke-width="0.5"/>
<circle cx="83.2" cy="772" r="1.25" fill="#000" stroke="none" stroke-width="0.5"/>
<circle cx="95" cy="786" r="1.25" fill="#000" stroke="none" stroke-width="0.5"/>
<circle cx="100.4" cy="788.4" r="1.25" fill="#000" stroke="none" stroke-width="0.5"/>
<circle cx="107" cy="799.9" r="1.25" fill="#000" stroke="none" stroke-width="0.5"/>
<circle cx="108.4" cy="809.2" r="1.25" fill="#000" stroke="none" stroke-width="0.5"/>
<circle cx="83.6" cy="813.9" r="1.25" fill="#000" stroke="none" stroke-width="0.5"/>
<circle cx="104" cy="813.9" r="1.25" fill="#000" stroke="none" stroke-width="0.5"/>
<path d="M127.4,832 L121.4,833.5 L116.4,836 L116.4,838.5 L120.4,840.5 L128.4,842.4 L134.4,842.4 L142.4,840.5 L146.4,838.5 L146.4,836 L141.4,833.5 L135.4,832 Z" stroke="none" stroke-width="0.8" fill="#a3cff5"/>
<line x1="131.2" y1="832.6" x2="131.2" y2="835" stroke="#2a5a95" stroke-width="0.9"/>
<line x1="131.2" y1="839.4" x2="131.2" y2="841.6" stroke="#2a5a95" stroke-width="0.9"/>
<line x1="125.2" y1="832.6" x2="137.2" y2="832.6" stroke="#3b6fb0" stroke-width="0.9"/>
<line x1="125.2" y1="841.6" x2="137.2" y2="841.6" stroke="#3b6fb0" stroke-width="0.9"/>
<rect x="116.4" y="835" width="29.6" height="4.4" fill="#5a9ee0" stroke="none" stroke-width="0.8" fill-opacity="0.14"/>
<rect x="116.4" y="835" width="29.6" height="4.4" fill="none" stroke="#3b6fb0" stroke-width="0.9"/>
<line x1="116.4" y1="837.2" x2="146" y2="837.2" stroke="#2a5a95" stroke-width="1.2"/>
<circle cx="125" cy="836.2" r="1.15" fill="#000" stroke="none" stroke-width="0.5"/>
<circle cx="126" cy="838.6" r="1.15" fill="#000" stroke="none" stroke-width="0.5"/>
<circle cx="125" cy="841.6" r="1.15" fill="#000" stroke="none" stroke-width="0.5"/>
<circle cx="133" cy="832" r="1.15" fill="#000" stroke="none" stroke-width="0.5"/>
<circle cx="135" cy="833.6" r="1.15" fill="#000" stroke="none" stroke-width="0.5"/>
<circle cx="131.6" cy="837.2" r="1.15" fill="#000" stroke="none" stroke-width="0.5"/>
<path d="M165,829.8 L163,832 L158,835 L154,838 L153,841 L156,843.6 L180,843.6 L183,841 L182,838 L178,835 L173,832 L171,829.8 Z" stroke="none" stroke-width="0.8" fill="#a3cff5"/>
<line x1="167.7" y1="830" x2="167.7" y2="836.4" stroke="#2a5a95" stroke-width="0.9"/>
<line x1="167.7" y1="842" x2="167.7" y2="843.2" stroke="#2a5a95" stroke-width="0.9"/>
<line x1="160.7" y1="830" x2="174.7" y2="830" stroke="#3b6fb0" stroke-width="0.9"/>
<line x1="160.7" y1="843.2" x2="174.7" y2="843.2" stroke="#3b6fb0" stroke-width="0.9"/>
<rect x="153" y="836.4" width="29.4" height="5.6" fill="#5a9ee0" stroke="none" stroke-width="0.8" fill-opacity="0.14"/>
<rect x="153" y="836.4" width="29.4" height="5.6" fill="none" stroke="#3b6fb0" stroke-width="0.9"/>
<line x1="153" y1="838.6" x2="182.4" y2="838.6" stroke="#2a5a95" stroke-width="1.2"/>
<circle cx="166" cy="830" r="1.15" fill="#000" stroke="none" stroke-width="0.5"/>
<circle cx="167" cy="833" r="1.15" fill="#000" stroke="none" stroke-width="0.5"/>
<circle cx="161.6" cy="836.6" r="1.15" fill="#000" stroke="none" stroke-width="0.5"/>
<circle cx="155.6" cy="839" r="1.15" fill="#000" stroke="none" stroke-width="0.5"/>
<circle cx="159" cy="842" r="1.15" fill="#000" stroke="none" stroke-width="0.5"/>
<circle cx="166.4" cy="842.4" r="1.15" fill="#000" stroke="none" stroke-width="0.5"/>
<circle cx="171" cy="843" r="1.15" fill="#000" stroke="none" stroke-width="0.5"/>
<circle cx="176" cy="838" r="1.15" fill="#000" stroke="none" stroke-width="0.5"/>
<circle cx="163" cy="840" r="1.15" fill="#000" stroke="none" stroke-width="0.5"/>
<path d="M196,834.6 L191,836 L189,839 L190,842 L195,844.2 L213,844.2 L218,842 L219,839 L217,836 L212,834.6 Z" stroke="none" stroke-width="0.8" fill="#a3cff5"/>
<line x1="204.3" y1="835.2" x2="204.3" y2="836" stroke="#2a5a95" stroke-width="0.9"/>
<line x1="204.3" y1="841.6" x2="204.3" y2="843.6" stroke="#2a5a95" stroke-width="0.9"/>
<line x1="197.3" y1="835.2" x2="211.3" y2="835.2" stroke="#3b6fb0" stroke-width="0.9"/>
<line x1="197.3" y1="843.6" x2="211.3" y2="843.6" stroke="#3b6fb0" stroke-width="0.9"/>
<rect x="189.6" y="836" width="29.4" height="5.6" fill="#5a9ee0" stroke="none" stroke-width="0.8" fill-opacity="0.14"/>
<rect x="189.6" y="836" width="29.4" height="5.6" fill="none" stroke="#3b6fb0" stroke-width="0.9"/>
<line x1="189.6" y1="839" x2="219" y2="839" stroke="#2a5a95" stroke-width="1.2"/>
<circle cx="194" cy="837.2" r="1.15" fill="#000" stroke="none" stroke-width="0.5"/>
<circle cx="198" cy="835.6" r="1.15" fill="#000" stroke="none" stroke-width="0.5"/>
<circle cx="208" cy="835.2" r="1.15" fill="#000" stroke="none" stroke-width="0.5"/>
<circle cx="205" cy="839" r="1.15" fill="#000" stroke="none" stroke-width="0.5"/>
<circle cx="209.6" cy="839.4" r="1.15" fill="#000" stroke="none" stroke-width="0.5"/>
<circle cx="196" cy="844" r="1.15" fill="#000" stroke="none" stroke-width="0.5"/>
<circle cx="206" cy="844" r="1.15" fill="#000" stroke="none" stroke-width="0.5"/>
<rect x="40.5" y="709.5" width="182" height="139" fill="none" stroke="#3c3c3c" stroke-width="1.0"/>
<text x="34.6" y="851.4" font-size="8.3" text-anchor="end" fill="#2a2a2a" stroke="#2a2a2a" stroke-width="0.18">0</text>
<text x="34.6" y="804.95" font-size="8.3" text-anchor="end" fill="#2a2a2a" stroke="#2a2a2a" stroke-width="0.18">1</text>
<text x="34.6" y="758.5" font-size="8.3" text-anchor="end" fill="#2a2a2a" stroke="#2a2a2a" stroke-width="0.18">2</text>
<text x="34.6" y="712.05" font-size="8.3" text-anchor="end" fill="#2a2a2a" stroke="#2a2a2a" stroke-width="0.18">3</text>
<line x1="94.7" y1="719.5" x2="202.5" y2="719.5" stroke="#4a4a4a" stroke-width="0.9"/>
<text x="148.6" y="720.2" font-size="11" text-anchor="middle" fill="#2a2a2a" stroke="#2a2a2a" stroke-width="0.18">***</text>
<line x1="163" y1="730.5" x2="202.6" y2="730.5" stroke="#4a4a4a" stroke-width="0.9"/>
<text x="183" y="728.6" font-size="8.5" text-anchor="middle" fill="#2a2a2a" stroke="#2a2a2a" stroke-width="0.18">ns</text>
<line x1="58" y1="753.5" x2="95" y2="753.5" stroke="#4a4a4a" stroke-width="0.9"/>
<text x="76.5" y="751.8" font-size="8.5" text-anchor="middle" fill="#2a2a2a" stroke="#2a2a2a" stroke-width="0.18">ns</text>
<line x1="131.4" y1="822.5" x2="168.4" y2="822.5" stroke="#4a4a4a" stroke-width="0.9"/>
<text x="150.2" y="821" font-size="8.5" text-anchor="middle" fill="#2a2a2a" stroke="#2a2a2a" stroke-width="0.18">ns</text>
<text x="61.5" y="739.2" font-size="8.5" text-anchor="middle" fill="#2a2a2a" stroke="#2a2a2a" stroke-width="0.18"><tspan font-style="italic">n</tspan> = 9</text>
<text x="97.5" y="739.2" font-size="8.5" text-anchor="middle" fill="#2a2a2a" stroke="#2a2a2a" stroke-width="0.18"><tspan font-style="italic">n</tspan> = 9</text>
<text x="131.5" y="809.6" font-size="8.5" text-anchor="middle" fill="#2a2a2a" stroke="#2a2a2a" stroke-width="0.18"><tspan font-style="italic">n</tspan> = 8</text>
<text x="167.5" y="809.6" font-size="8.5" text-anchor="middle" fill="#2a2a2a" stroke="#2a2a2a" stroke-width="0.18"><tspan font-style="italic">n</tspan> = 9</text>
<text x="204.3" y="809.6" font-size="8.5" text-anchor="middle" fill="#2a2a2a" stroke="#2a2a2a" stroke-width="0.18"><tspan font-style="italic">n</tspan> = 7</text>
<line x1="58.6" y1="848.5" x2="58.6" y2="850.5" stroke="#3c3c3c" stroke-width="0.6"/>
<text x="58.6" y="859.2" font-size="7.4" text-anchor="middle" fill="#2a2a2a" stroke="#2a2a2a" stroke-width="0.18">0.3% s<tspan font-size="5.2" baseline-shift="3.22">-1</tspan></text>
<line x1="95" y1="848.5" x2="95" y2="850.5" stroke="#3c3c3c" stroke-width="0.6"/>
<text x="95" y="859.2" font-size="7.4" text-anchor="middle" fill="#2a2a2a" stroke="#2a2a2a" stroke-width="0.18">1.0% s<tspan font-size="5.2" baseline-shift="3.22">-1</tspan></text>
<line x1="131.4" y1="848.5" x2="131.4" y2="850.5" stroke="#3c3c3c" stroke-width="0.6"/>
<text x="131.4" y="859.2" font-size="7.4" text-anchor="middle" fill="#2a2a2a" stroke="#2a2a2a" stroke-width="0.18">0.3% s<tspan font-size="5.2" baseline-shift="3.22">-1</tspan></text>
<line x1="168" y1="848.5" x2="168" y2="850.5" stroke="#3c3c3c" stroke-width="0.6"/>
<text x="168" y="859.2" font-size="7.4" text-anchor="middle" fill="#2a2a2a" stroke="#2a2a2a" stroke-width="0.18">1.0% s<tspan font-size="5.2" baseline-shift="3.22">-1</tspan></text>
<line x1="55.4" y1="861.5" x2="92.7" y2="861.5" stroke="#b5b5b5" stroke-width="0.9"/>
<line x1="128.3" y1="861.5" x2="165.2" y2="861.5" stroke="#b5b5b5" stroke-width="0.9"/>
<line x1="189.7" y1="861" x2="218.3" y2="861" stroke="#b5b5b5" stroke-width="0.9"/>
<text x="74.5" y="870.6" font-size="8.6" text-anchor="middle" fill="#2a2a2a" stroke="#2a2a2a" stroke-width="0.18">WT</text>
<text x="147" y="870.6" font-size="8.6" text-anchor="middle" fill="#2a2a2a" stroke="#2a2a2a" stroke-width="0.18">K14</text>
<text x="204" y="870.8" font-size="9.2" text-anchor="middle" fill="#2a2a2a" stroke="#2a2a2a" stroke-width="0.18">Calyculin</text>
<text x="22" y="780" font-size="8.8" text-anchor="middle" fill="#2a2a2a" stroke="#2a2a2a" stroke-width="0.18" transform="rotate(-90 22 780)"><tspan font-style="italic">N</tspan>/<tspan font-style="italic">N</tspan><tspan font-size="6" dy="1.5" font-style="italic">ref</tspan></text>
<text x="236.3" y="711.8" font-size="12" font-weight="bold" fill="#000">o</text>
<line x1="277.7" y1="847.1" x2="434.6" y2="715.72" stroke="#b5de2b" stroke-width="1.0"/>
<line x1="277.7" y1="847.1" x2="434.6" y2="713.28" stroke="#21918c" stroke-width="1.0"/>
<path d="M336.28,798.68 L364,775.84" stroke="#b5de2b" stroke-width="2.8" fill="none" stroke-linecap="round" stroke-opacity="0.85"/>
<path d="M340.46,794.06 L390.14,751.36" stroke="#21918c" stroke-width="3.0" fill="none" stroke-linecap="round" stroke-opacity="0.9"/>
<circle cx="331.4" cy="798.4" r="1.8" fill="#21918c" stroke="#3d5a5a" stroke-width="0.55" fill-opacity="0.45"/>
<circle cx="335.8" cy="798.4" r="1.8" fill="#b5de2b" stroke="#3d5a5a" stroke-width="0.55" fill-opacity="0.45"/>
<circle cx="340.9" cy="795.1" r="1.8" fill="#b5de2b" stroke="#3d5a5a" stroke-width="0.55" fill-opacity="0.45"/>
<circle cx="347.6" cy="808.2" r="1.8" fill="#b5de2b" stroke="#3d5a5a" stroke-width="0.55" fill-opacity="0.45"/>
<circle cx="349.9" cy="785.7" r="1.8" fill="#356a6a" stroke="#3d5a5a" stroke-width="0.55" fill-opacity="0.45"/>
<circle cx="350.9" cy="789" r="1.8" fill="#356a6a" stroke="#3d5a5a" stroke-width="0.55" fill-opacity="0.45"/>
<circle cx="353.6" cy="775.6" r="1.8" fill="#21918c" stroke="#3d5a5a" stroke-width="0.55" fill-opacity="0.45"/>
<circle cx="356.6" cy="773.2" r="1.8" fill="#b5de2b" stroke="#3d5a5a" stroke-width="0.55" fill-opacity="0.45"/>
<circle cx="359.3" cy="785" r="1.8" fill="#b5de2b" stroke="#3d5a5a" stroke-width="0.55" fill-opacity="0.45"/>
<circle cx="361" cy="770.6" r="1.8" fill="#b5de2b" stroke="#3d5a5a" stroke-width="0.55" fill-opacity="0.45"/>
<circle cx="366" cy="753.1" r="1.8" fill="#21918c" stroke="#3d5a5a" stroke-width="0.55" fill-opacity="0.45"/>
<circle cx="375.1" cy="756.1" r="1.8" fill="#b5de2b" stroke="#3d5a5a" stroke-width="0.55" fill-opacity="0.45"/>
<circle cx="380.1" cy="772.9" r="1.8" fill="#21918c" stroke="#3d5a5a" stroke-width="0.55" fill-opacity="0.45"/>
<circle cx="384.5" cy="785" r="1.8" fill="#b5de2b" stroke="#3d5a5a" stroke-width="0.55" fill-opacity="0.45"/>
<circle cx="388.5" cy="726.9" r="1.8" fill="#21918c" stroke="#3d5a5a" stroke-width="0.55" fill-opacity="0.45"/>
<circle cx="388.5" cy="768.9" r="1.8" fill="#b5de2b" stroke="#3d5a5a" stroke-width="0.55" fill-opacity="0.45"/>
<circle cx="404.7" cy="749.4" r="1.8" fill="#21918c" stroke="#3d5a5a" stroke-width="0.55" fill-opacity="0.45"/>
<circle cx="445" cy="718.5" r="1.8" fill="#21918c" stroke="#3d5a5a" stroke-width="0.55" fill-opacity="0.45"/>
<circle cx="396.5" cy="743" r="1.8" fill="#21918c" stroke="#3d5a5a" stroke-width="0.55" fill-opacity="0.45"/>
<circle cx="399" cy="741.5" r="1.8" fill="#21918c" stroke="#3d5a5a" stroke-width="0.55" fill-opacity="0.45"/>
<rect x="271.5" y="709.5" width="182" height="141" fill="none" stroke="#3c3c3c" stroke-width="1.0"/>
<line x1="269.3" y1="847.5" x2="271.5" y2="847.5" stroke="#3c3c3c" stroke-width="0.9"/>
<text x="265.2" y="849.67" font-size="8.3" text-anchor="end" fill="#2a2a2a" stroke="#2a2a2a" stroke-width="0.18">0</text>
<line x1="269.3" y1="819.5" x2="271.5" y2="819.5" stroke="#3c3c3c" stroke-width="0.9"/>
<text x="265.2" y="822.47" font-size="8.3" text-anchor="end" fill="#2a2a2a" stroke="#2a2a2a" stroke-width="0.18">0.01</text>
<line x1="269.3" y1="792.5" x2="271.5" y2="792.5" stroke="#3c3c3c" stroke-width="0.9"/>
<text x="265.2" y="795.27" font-size="8.3" text-anchor="end" fill="#2a2a2a" stroke="#2a2a2a" stroke-width="0.18">0.02</text>
<line x1="269.3" y1="765.5" x2="271.5" y2="765.5" stroke="#3c3c3c" stroke-width="0.9"/>
<text x="265.2" y="768.07" font-size="8.3" text-anchor="end" fill="#2a2a2a" stroke="#2a2a2a" stroke-width="0.18">0.03</text>
<line x1="269.3" y1="738.5" x2="271.5" y2="738.5" stroke="#3c3c3c" stroke-width="0.9"/>
<text x="265.2" y="740.87" font-size="8.3" text-anchor="end" fill="#2a2a2a" stroke="#2a2a2a" stroke-width="0.18">0.04</text>
<line x1="269.3" y1="711.5" x2="271.5" y2="711.5" stroke="#3c3c3c" stroke-width="0.9"/>
<text x="265.2" y="713.67" font-size="8.3" text-anchor="end" fill="#2a2a2a" stroke="#2a2a2a" stroke-width="0.18">0.05</text>
<line x1="277.5" y1="850.5" x2="277.5" y2="853" stroke="#3c3c3c" stroke-width="0.9"/>
<text x="277.7" y="860.48" font-size="8.3" text-anchor="middle" fill="#2a2a2a" stroke="#2a2a2a" stroke-width="0.18">0</text>
<line x1="330.5" y1="850.5" x2="330.5" y2="853" stroke="#3c3c3c" stroke-width="0.9"/>
<text x="330" y="860.48" font-size="8.3" text-anchor="middle" fill="#2a2a2a" stroke="#2a2a2a" stroke-width="0.18">1</text>
<line x1="382.5" y1="850.5" x2="382.5" y2="853" stroke="#3c3c3c" stroke-width="0.9"/>
<text x="382.3" y="860.48" font-size="8.3" text-anchor="middle" fill="#2a2a2a" stroke="#2a2a2a" stroke-width="0.18">2</text>
<line x1="434.5" y1="850.5" x2="434.5" y2="853" stroke="#3c3c3c" stroke-width="0.9"/>
<text x="434.6" y="860.48" font-size="8.3" text-anchor="middle" fill="#2a2a2a" stroke="#2a2a2a" stroke-width="0.18">3</text>
<text x="362.7" y="874.8" font-size="8.8" text-anchor="middle" fill="#2a2a2a" stroke="#2a2a2a" stroke-width="0.18">Strain</text>
<text x="240.9" y="779" font-size="8.8" text-anchor="middle" fill="#2a2a2a" stroke="#2a2a2a" stroke-width="0.18" transform="rotate(-90 240.9 779)"><tspan font-style="italic">Γ</tspan> (N m<tspan font-size="6" baseline-shift="3.72">-1</tspan>)</text>
<line x1="285.4" y1="717.8" x2="293.8" y2="717.8" stroke="#b5de2b" stroke-width="1.0"/>
<line x1="285.4" y1="726.2" x2="293.8" y2="726.2" stroke="#21918c" stroke-width="1.0"/>
<text x="298.8" y="720.6" font-size="7.4" fill="#2a2a2a" stroke="#2a2a2a" stroke-width="0.18">K14 0.3% s<tspan font-size="5" baseline-shift="3.1">-1</tspan></text>
<text x="298.8" y="729" font-size="7.4" fill="#2a2a2a" stroke="#2a2a2a" stroke-width="0.18">K14 1.0% s<tspan font-size="5" baseline-shift="3.1">-1</tspan></text>
<text x="464.6" y="711.4" font-size="12" font-weight="bold" fill="#000">p</text>
<ellipse cx="571.4" cy="790.5" rx="65.6" ry="30.6" transform="rotate(45 571.4 790.5)" fill="url(#pg)" stroke="url(#pe)" stroke-width="2.6"/>
<ellipse cx="528.9" cy="821.4" rx="13.7" ry="11.3" fill="#dccdee" stroke="#a27fd2" stroke-width="1.3"/>
<line x1="501.3" y1="851.5" x2="501.3" y2="726" stroke="#3d4a6e" stroke-width="1.1"/>
<path d="M501.3,721.5 L498.8,728 L503.8,728 Z" stroke="none" stroke-width="0.8" fill="#3d4a6e"/>
<line x1="494.6" y1="846.8" x2="677" y2="846.8" stroke="#3d4a6e" stroke-width="1.1"/>
<path d="M682,846.8 L675.5,844.3 L675.5,849.3 Z" stroke="none" stroke-width="0.8" fill="#3d4a6e"/>
<text x="488.4" y="730.6" font-size="9" fill="#2a2a2a" stroke="#2a2a2a" stroke-width="0.18"><tspan font-style="italic">Γ</tspan>*</text>
<text x="669" y="859.4" font-size="9" fill="#2a2a2a" stroke="#2a2a2a" stroke-width="0.18"><tspan font-style="italic">ε</tspan>*</text>
<line x1="543.4" y1="761.4" x2="607.5" y2="821.6" stroke="#2c3a5c" stroke-width="1.0"/>
<path d="M540.7,758.9 L547.1,761.4 L543.9,764.8 Z" stroke="none" stroke-width="0.8" fill="#2c3a5c"/>
<path d="M610.2,824.1 L603.8,821.6 L607,818.2 Z" stroke="none" stroke-width="0.8" fill="#2c3a5c"/>
<text x="575.3" y="786.5" font-size="8" text-anchor="middle" fill="#1e2a44" stroke="#1e2a44" stroke-width="0.18" transform="rotate(43.5 575.3 786.5)">Strain rate</text>
<text x="537.2" y="752" font-size="7.3" fill="#1e2a44" stroke="#1e2a44" stroke-width="0.18">Fast</text>
<text x="581" y="826.5" font-size="7.7" fill="#2a2a2a" stroke="#2a2a2a" stroke-width="0.18">Slow</text>
<text x="511.4" y="733.2" font-size="7.9" fill="#2a2a2a" stroke="#2a2a2a" stroke-width="0.18">Shock resistance</text>
<text x="595" y="766" font-size="7.9" fill="#2a2a2a" stroke="#2a2a2a" stroke-width="0.18">Wild type</text>
<text x="604.2" y="838.6" font-size="7.9" fill="#2a2a2a" stroke="#2a2a2a" stroke-width="0.18">Tissue adaptation</text>
<text x="505.3" y="843.6" font-size="7.9" fill="#2a2a2a" stroke="#2a2a2a" stroke-width="0.18">Keratin disrupted</text></svg></body></html>
